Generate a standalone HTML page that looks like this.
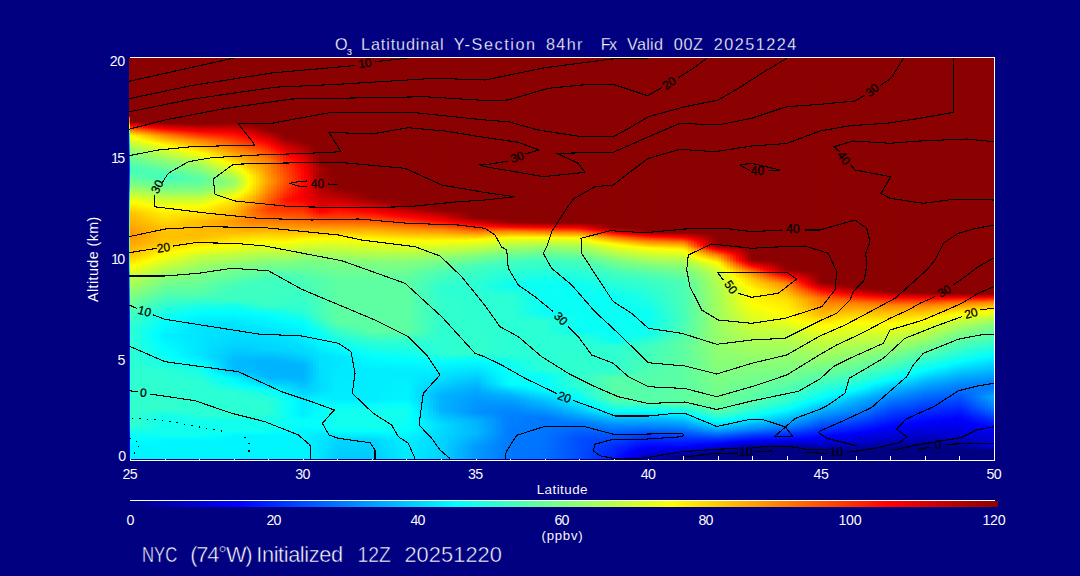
<!DOCTYPE html>
<html><head><meta charset="utf-8"><title>O3 Latitudinal Y-Section</title>
<style>
html,body{margin:0;padding:0;background:#000080;overflow:hidden}
#p{position:relative;width:1080px;height:576px;background:#000080;overflow:hidden}
#f i{position:absolute;top:58px;height:401px;display:block}
</style></head><body>
<div id="p">
<div id="f">
<i style="left:129px;width:1px;background:linear-gradient(#8b0000 0.5px,#8b0000 58.5px,#ff7a00 59.5px,#ff7f00 63.5px,#ff9800 64.5px,#fff600 67.5px,#eaff15 68.5px,#75ff8a 72.5px,#07fff8 77.5px,#00faff 78.5px,#00bcff 86.5px,#0083ff 95.5px,#003eff 111.5px,#003eff 112.5px,#007dff 126.5px,#00c3ff 135.5px,#03fffc 144.5px,#3dffc2 155.5px,#6dff92 176.5px,#3dffc2 196.5px,#02fffd 208.5px,#00beff 220.5px,#0042ff 256.5px,#002bff 271.5px,#0033ff 366.5px,#0010ff 374.5px,#0000ff 382.5px,#0000f6 387.5px,#0000f6 400.5px)"></i>
<i style="left:130px;width:3px;background:linear-gradient(#8b0000 0.5px,#8b0000 63.5px,#a10000 64.5px,#f50000 67.5px,#ff1300 68.5px,#ff6d00 71.5px,#ff8700 72.5px,#fff500 77.5px,#fcff03 78.5px,#beff41 86.5px,#84ff7b 95.5px,#3fffc0 111.5px,#3fffc0 112.5px,#7cff83 126.5px,#c2ff3d 135.5px,#fffd00 144.5px,#ffc400 155.5px,#ff9300 176.5px,#ffc400 196.5px,#fff900 207.5px,#faff05 209.5px,#bcff43 220.5px,#40ffbf 256.5px,#2affd5 271.5px,#32ffcd 366.5px,#10ffef 374.5px,#00ffff 382.5px,#00f6ff 387.5px,#00f6ff 400.5px)"></i>
<i style="left:133px;width:3px;background:linear-gradient(#8b0000 0.5px,#8b0000 63.5px,#9f0000 64.5px,#f00000 67.5px,#ff0d00 68.5px,#ff7e00 72.5px,#ffeb00 77.5px,#fefe01 79.5px,#f6ff09 80.5px,#c5ff3a 86.5px,#89ff76 95.5px,#42ffbd 111.5px,#41ffbe 112.5px,#56ffa9 118.5px,#7aff85 126.5px,#fdff02 144.5px,#ffc700 155.5px,#ff9700 176.5px,#ffa700 184.5px,#ffc900 196.5px,#fffa00 206.5px,#faff05 208.5px,#b7ff48 220.5px,#3cffc3 256.5px,#25ffda 271.5px,#32ffcd 351.5px,#2fffd0 366.5px,#13ffec 373.5px,#01fffe 381.5px,#00f6ff 387.5px,#00f6ff 400.5px)"></i>
<i style="left:136px;width:3px;background:linear-gradient(#8b0000 0.5px,#8b0000 63.5px,#9d0000 64.5px,#eb0000 67.5px,#ff0600 68.5px,#ff7500 72.5px,#ffe100 77.5px,#fefe01 80.5px,#f6ff09 81.5px,#cbff34 86.5px,#8eff71 95.5px,#5fffa0 105.5px,#45ffba 111.5px,#44ffbb 112.5px,#57ffa8 119.5px,#78ff87 126.5px,#d8ff27 139.5px,#fffe00 145.5px,#ffcb00 155.5px,#ff9c00 176.5px,#ffaa00 184.5px,#ffce00 196.5px,#fffa00 205.5px,#f5ff0a 208.5px,#b2ff4d 220.5px,#38ffc7 256.5px,#21ffde 271.5px,#25ffda 298.5px,#2dffd2 312.5px,#32ffcd 351.5px,#2bffd4 357.5px,#2cffd3 366.5px,#13ffec 373.5px,#01fffe 381.5px,#00f6ff 387.5px,#00f6ff 400.5px)"></i>
<i style="left:139px;width:3px;background:linear-gradient(#8b0000 0.5px,#8b0000 63.5px,#9b0000 64.5px,#fe0100 68.5px,#ff6c00 72.5px,#ffd700 77.5px,#fefe01 81.5px,#f6ff09 82.5px,#d1ff2e 86.5px,#93ff6c 95.5px,#62ff9d 105.5px,#46ffb9 112.5px,#54ffab 119.5px,#76ff89 126.5px,#f0ff0f 143.5px,#fffc00 146.5px,#ffcf00 155.5px,#ffac00 169.5px,#ffa000 176.5px,#ffaf00 185.5px,#ffd300 196.5px,#fffb00 204.5px,#f9ff06 206.5px,#b2ff4d 219.5px,#a6ff59 222.5px,#34ffcb 256.5px,#1cffe3 271.5px,#1affe5 277.5px,#22ffdd 298.5px,#2dffd2 312.5px,#32ffcd 351.5px,#29ffd6 357.5px,#29ffd6 366.5px,#13ffec 373.5px,#00ffff 381.5px,#00f6ff 387.5px,#00f6ff 400.5px)"></i>
<i style="left:142px;width:3px;background:linear-gradient(#8b0000 0.5px,#8b0000 63.5px,#990000 64.5px,#ae0000 65.5px,#f90000 68.5px,#ff1400 69.5px,#ff6200 72.5px,#ffcd00 77.5px,#fdfe02 82.5px,#d0ff2f 87.5px,#98ff67 95.5px,#65ff9a 105.5px,#49ffb6 112.5px,#52ffad 119.5px,#73ff8c 126.5px,#d9ff26 140.5px,#ffff00 146.5px,#ffd300 155.5px,#ffaf00 169.5px,#ffa400 176.5px,#ffb200 185.5px,#ffd800 196.5px,#fffb00 203.5px,#f9ff06 205.5px,#aeff51 219.5px,#a1ff5e 222.5px,#30ffcf 256.5px,#18ffe7 271.5px,#15ffea 277.5px,#1fffe0 298.5px,#2dffd2 312.5px,#32ffcd 351.5px,#26ffd9 357.5px,#25ffda 367.5px,#00feff 381.5px,#00f6ff 387.5px,#00f6ff 400.5px)"></i>
<i style="left:145px;width:3px;background:linear-gradient(#8b0000 0.5px,#8b0000 63.5px,#970000 64.5px,#ab0000 65.5px,#f30000 68.5px,#ff0d00 69.5px,#ff5900 72.5px,#ffc300 77.5px,#fcff03 83.5px,#d6ff29 87.5px,#9dff62 95.5px,#69ff96 105.5px,#4bffb4 112.5px,#4fffb0 119.5px,#71ff8e 126.5px,#92ff6d 131.5px,#d6ff29 140.5px,#fffc00 147.5px,#ffd700 155.5px,#ffb200 169.5px,#ffa900 176.5px,#ffb500 185.5px,#ffdd00 196.5px,#fffb00 202.5px,#feff01 203.5px,#9cff63 222.5px,#2cffd3 256.5px,#13ffec 271.5px,#0ffff0 277.5px,#1cffe3 298.5px,#2cffd3 312.5px,#32ffcd 351.5px,#23ffdc 357.5px,#22ffdd 367.5px,#00fdff 381.5px,#00f6ff 387.5px,#00f6ff 400.5px)"></i>
<i style="left:148px;width:3px;background:linear-gradient(#8b0000 0.5px,#8b0000 63.5px,#950000 64.5px,#a70000 65.5px,#ed0000 68.5px,#ff0600 69.5px,#ff5000 72.5px,#ffb900 77.5px,#fffa00 83.5px,#f9ff06 84.5px,#dcff23 87.5px,#a2ff5d 95.5px,#6cff93 105.5px,#4effb1 112.5px,#4cffb3 119.5px,#6fff90 126.5px,#8eff71 131.5px,#d3ff2c 140.5px,#ffff00 147.5px,#ffdb00 155.5px,#ffb500 169.5px,#ffad00 176.5px,#ffb800 185.5px,#ffe200 196.5px,#fffb00 201.5px,#fdff02 202.5px,#98ff67 222.5px,#25ffda 257.5px,#0ffff0 271.5px,#0afff5 277.5px,#19ffe6 298.5px,#2cffd3 312.5px,#32ffcd 351.5px,#20ffdf 357.5px,#1fffe0 367.5px,#0ffff0 376.5px,#00fdff 381.5px,#00f6ff 387.5px,#00f6ff 400.5px)"></i>
<i style="left:151px;width:3px;background:linear-gradient(#8b0000 0.5px,#8b0000 63.5px,#930000 64.5px,#a40000 65.5px,#fd0000 69.5px,#ff4700 72.5px,#ffaf00 77.5px,#fffd00 84.5px,#f5ff0a 85.5px,#e2ff1d 87.5px,#a7ff58 95.5px,#74ff8b 104.5px,#53ffac 111.5px,#48ffb7 118.5px,#72ff8d 127.5px,#92ff6d 132.5px,#cfff30 140.5px,#fffc00 148.5px,#ffdf00 155.5px,#ffb800 169.5px,#ffb100 176.5px,#ffba00 185.5px,#fffc00 200.5px,#fdff02 201.5px,#93ff6c 222.5px,#21ffde 257.5px,#0afff5 271.5px,#05fffa 277.5px,#15ffea 298.5px,#2cffd3 312.5px,#32ffcd 351.5px,#1dffe2 357.5px,#1cffe3 367.5px,#0ffff0 376.5px,#01fffe 380.5px,#00f7ff 386.5px,#00f6ff 400.5px)"></i>
<i style="left:154px;width:3px;background:linear-gradient(#8b0000 0.5px,#8b0000 63.5px,#910000 64.5px,#a00000 65.5px,#f70000 69.5px,#ff0f00 70.5px,#ff3d00 72.5px,#ffa600 77.5px,#fcff03 85.5px,#e8ff17 87.5px,#b3ff4c 94.5px,#78ff87 104.5px,#56ffa9 111.5px,#45ffba 118.5px,#47ffb8 119.5px,#6aff95 126.5px,#88ff77 131.5px,#ccff33 140.5px,#ffff00 148.5px,#ffe200 155.5px,#ffbb00 169.5px,#ffb600 176.5px,#ffbd00 185.5px,#fffc00 199.5px,#fdff02 200.5px,#8eff71 222.5px,#1dffe2 257.5px,#06fff9 271.5px,#01fefe 277.5px,#12ffed 298.5px,#2cffd3 312.5px,#33ffcc 351.5px,#1affe5 357.5px,#1affe5 367.5px,#10ffef 376.5px,#01fffe 380.5px,#00f9ff 382.5px,#00f7ff 386.5px,#00f6ff 400.5px)"></i>
<i style="left:157px;width:3px;background:linear-gradient(#8b0000 0.5px,#8b0000 63.5px,#8f0000 64.5px,#9c0000 65.5px,#f00000 69.5px,#ff0700 70.5px,#ff8a00 76.5px,#ff9c00 77.5px,#fffb00 85.5px,#f7ff08 86.5px,#b1ff4e 95.5px,#7bff84 104.5px,#59ffa6 111.5px,#43ffbc 118.5px,#44ffbb 119.5px,#84ff7b 131.5px,#c9ff36 140.5px,#fffc00 149.5px,#ffe600 155.5px,#ffbe00 169.5px,#ffba00 176.5px,#ffc000 185.5px,#fffc00 198.5px,#fdff02 199.5px,#89ff76 222.5px,#19ffe6 257.5px,#01fffe 271.5px,#00faff 277.5px,#01fffe 283.5px,#0ffff0 298.5px,#2bffd4 312.5px,#33ffcc 351.5px,#17ffe8 357.5px,#17ffe8 366.5px,#10ffef 376.5px,#00ffff 380.5px,#00f8ff 382.5px,#00f6ff 400.5px)"></i>
<i style="left:160px;width:3px;background:linear-gradient(#8b0000 0.5px,#8b0000 63.5px,#8d0000 64.5px,#990000 65.5px,#fe0100 70.5px,#ff8000 76.5px,#ff9200 77.5px,#feff01 86.5px,#b6ff49 95.5px,#7fff80 104.5px,#5cffa3 111.5px,#41ffbe 118.5px,#41ffbe 119.5px,#81ff7e 131.5px,#c6ff39 140.5px,#ffff00 149.5px,#ffc100 169.5px,#ffbe00 176.5px,#ffc300 185.5px,#fffc00 197.5px,#fdff02 198.5px,#84ff7b 222.5px,#0ffff0 259.5px,#01fffe 268.5px,#00f5ff 277.5px,#01fffe 288.5px,#0dfff2 299.5px,#2bffd4 312.5px,#33ffcc 351.5px,#14ffeb 357.5px,#10ffef 376.5px,#00ffff 380.5px,#00f7ff 382.5px,#00f6ff 400.5px)"></i>
<i style="left:163px;width:3px;background:linear-gradient(#8b0000 0.5px,#8b0000 64.5px,#950000 65.5px,#f70000 70.5px,#ff0d00 71.5px,#ff7700 76.5px,#ff8800 77.5px,#fffa00 86.5px,#faff05 87.5px,#bbff44 95.5px,#82ff7d 104.5px,#3fffc0 118.5px,#3fffc0 119.5px,#7eff81 131.5px,#c3ff3c 140.5px,#fdff02 149.5px,#fffd00 150.5px,#ffc400 169.5px,#ffc200 176.5px,#ffc500 185.5px,#fffc00 196.5px,#fdff02 197.5px,#7fff80 222.5px,#0bfff4 259.5px,#01fffe 265.5px,#00f0ff 277.5px,#01fffe 291.5px,#0afff5 299.5px,#2bffd4 312.5px,#33ffcc 351.5px,#12ffed 357.5px,#11ffee 376.5px,#00feff 380.5px,#00f7ff 382.5px,#00f6ff 400.5px)"></i>
<i style="left:166px;width:3px;background:linear-gradient(#8b0000 0.5px,#8b0000 64.5px,#940000 65.5px,#f30000 70.5px,#ff0700 71.5px,#ff7000 76.5px,#ff8100 77.5px,#fff300 86.5px,#fffd00 87.5px,#f9ff06 88.5px,#c0ff3f 95.5px,#86ff79 104.5px,#41ffbe 118.5px,#40ffbf 119.5px,#4affb5 121.5px,#7dff82 131.5px,#c2ff3d 140.5px,#fcff03 149.5px,#fffd00 150.5px,#ffc300 170.5px,#ffc500 184.5px,#fffb00 195.5px,#f9ff06 197.5px,#baff45 209.5px,#7dff82 222.5px,#09fff6 259.5px,#00ffff 264.5px,#00eeff 277.5px,#00feff 292.5px,#06fff9 298.5px,#29ffd6 312.5px,#32ffcd 351.5px,#13ffec 357.5px,#11ffee 376.5px,#00feff 380.5px,#00f6ff 382.5px,#00f6ff 400.5px)"></i>
<i style="left:169px;width:3px;background:linear-gradient(#8b0000 0.5px,#8b0000 64.5px,#930000 65.5px,#ef0000 70.5px,#ff0300 71.5px,#ff6900 76.5px,#ff7a00 77.5px,#ffec00 86.5px,#fefe01 88.5px,#f7ff08 89.5px,#c6ff39 95.5px,#8aff75 104.5px,#44ffbb 118.5px,#4bffb4 121.5px,#7dff82 131.5px,#c2ff3d 140.5px,#fdff02 149.5px,#ffd300 163.5px,#ffc200 170.5px,#ffc200 179.5px,#ffc700 184.5px,#fffe00 195.5px,#b7ff48 209.5px,#7fff80 221.5px,#1cffe3 252.5px,#01fffe 262.5px,#00edff 277.5px,#00ffff 295.5px,#05fffa 299.5px,#27ffd8 312.5px,#32ffcd 351.5px,#15ffea 357.5px,#11ffee 376.5px,#00feff 380.5px,#00f6ff 382.5px,#00f6ff 400.5px)"></i>
<i style="left:172px;width:3px;background:linear-gradient(#8b0000 0.5px,#8b0000 64.5px,#920000 65.5px,#fe0000 71.5px,#ff7300 77.5px,#ffe600 86.5px,#fdff02 89.5px,#cbff34 95.5px,#8eff71 104.5px,#63ff9c 112.5px,#47ffb8 118.5px,#46ffb9 119.5px,#50ffaf 122.5px,#7dff82 131.5px,#c3ff3c 140.5px,#fdff02 149.5px,#ffd100 163.5px,#ffc100 170.5px,#ffc100 179.5px,#ffc900 184.5px,#fffd00 194.5px,#b4ff4b 209.5px,#7eff81 221.5px,#4effb1 237.5px,#1affe5 252.5px,#01fffe 261.5px,#00ecff 277.5px,#00ffff 298.5px,#25ffda 312.5px,#2cffd3 322.5px,#31ffce 351.5px,#17ffe8 357.5px,#12ffed 361.5px,#11ffee 376.5px,#00feff 380.5px,#00f6ff 382.5px,#00f6ff 400.5px)"></i>
<i style="left:175px;width:3px;background:linear-gradient(#8b0000 0.5px,#8b0000 64.5px,#910000 65.5px,#a10000 66.5px,#fa0000 71.5px,#ff0f00 72.5px,#ff6d00 77.5px,#ffa300 81.5px,#ffdf00 86.5px,#fbff04 90.5px,#d1ff2e 95.5px,#91ff6e 104.5px,#66ff99 112.5px,#49ffb6 119.5px,#51ffae 122.5px,#7dff82 131.5px,#c3ff3c 140.5px,#feff01 149.5px,#ffce00 163.5px,#ffc100 170.5px,#ffc100 179.5px,#ffcb00 184.5px,#fffb00 193.5px,#feff01 194.5px,#99ff66 214.5px,#7cff83 221.5px,#4effb1 237.5px,#1bffe4 251.5px,#01fffe 260.5px,#00ecff 277.5px,#00feff 299.5px,#23ffdc 312.5px,#2cffd3 322.5px,#30ffcf 351.5px,#19ffe6 357.5px,#12ffed 361.5px,#11ffee 376.5px,#00feff 380.5px,#00f6ff 382.5px,#00f6ff 400.5px)"></i>
<i style="left:178px;width:3px;background:linear-gradient(#8b0000 0.5px,#8b0000 64.5px,#900000 65.5px,#9f0000 66.5px,#f70000 71.5px,#ff0a00 72.5px,#ff6600 77.5px,#ff9e00 81.5px,#ffe200 87.5px,#fffc00 90.5px,#f9ff06 91.5px,#d6ff29 95.5px,#95ff6a 104.5px,#69ff96 112.5px,#4cffb3 119.5px,#52ffad 122.5px,#7dff82 131.5px,#c3ff3c 140.5px,#feff01 149.5px,#ffcc00 163.5px,#ffc000 170.5px,#ffc100 180.5px,#ffd100 185.5px,#fffe00 193.5px,#d9ff26 200.5px,#92ff6d 215.5px,#78ff87 222.5px,#4effb1 237.5px,#19ffe6 251.5px,#01fffe 259.5px,#00f4ff 265.5px,#00ebff 277.5px,#00f9ff 298.5px,#00feff 300.5px,#20ffdf 311.5px,#2bffd4 321.5px,#2fffd0 351.5px,#1bffe4 357.5px,#11ffee 362.5px,#11ffee 376.5px,#00feff 380.5px,#00f6ff 382.5px,#00f6ff 400.5px)"></i>
<i style="left:181px;width:3px;background:linear-gradient(#8b0000 0.5px,#8b0000 64.5px,#8f0000 65.5px,#9d0000 66.5px,#f30000 71.5px,#ff0600 72.5px,#ff6000 77.5px,#ffa500 82.5px,#ffdb00 87.5px,#fefe01 91.5px,#f6ff09 92.5px,#adff52 101.5px,#99ff66 104.5px,#6cff93 112.5px,#4fffb0 119.5px,#53ffac 122.5px,#7dff82 131.5px,#c3ff3c 140.5px,#ffff00 149.5px,#ffca00 163.5px,#ffbf00 170.5px,#ffc100 180.5px,#ffd300 185.5px,#fffc00 192.5px,#d5ff2a 200.5px,#8fff70 215.5px,#76ff89 222.5px,#4effb1 237.5px,#17ffe8 251.5px,#00feff 259.5px,#00f2ff 265.5px,#00eaff 277.5px,#00f6ff 298.5px,#00ffff 301.5px,#1effe1 311.5px,#2bffd4 321.5px,#2fffd0 351.5px,#11ffee 362.5px,#11ffee 376.5px,#00feff 380.5px,#00f6ff 382.5px,#00f6ff 400.5px)"></i>
<i style="left:184px;width:3px;background:linear-gradient(#8b0000 0.5px,#8b0000 64.5px,#8f0000 65.5px,#9b0000 66.5px,#ff0100 72.5px,#ff4900 76.5px,#ff9200 81.5px,#ffca00 86.5px,#fcff03 92.5px,#b1ff4e 101.5px,#9dff62 104.5px,#6fff90 112.5px,#52ffad 119.5px,#53ffac 122.5px,#7dff82 131.5px,#c3ff3c 140.5px,#ffff00 149.5px,#ffc800 163.5px,#ffbe00 170.5px,#ffc000 180.5px,#ffd600 185.5px,#fffa00 191.5px,#f9ff06 193.5px,#d0ff2f 200.5px,#8cff73 215.5px,#75ff8a 222.5px,#4effb1 237.5px,#15ffea 251.5px,#00ffff 258.5px,#00f0ff 265.5px,#00e9ff 277.5px,#00f3ff 298.5px,#01fffe 302.5px,#1cffe3 311.5px,#2bffd4 322.5px,#2effd1 351.5px,#13ffec 361.5px,#11ffee 376.5px,#00feff 380.5px,#00f6ff 382.5px,#00f6ff 400.5px)"></i>
<i style="left:187px;width:3px;background:linear-gradient(#8b0000 0.5px,#8b0000 64.5px,#8e0000 65.5px,#990000 66.5px,#fc0000 72.5px,#ff5300 77.5px,#ff9900 82.5px,#fffc00 92.5px,#f9ff06 93.5px,#b5ff4a 101.5px,#9bff64 105.5px,#72ff8d 112.5px,#58ffa7 118.5px,#52ffad 121.5px,#7dff82 131.5px,#c3ff3c 140.5px,#fffe00 149.5px,#ffc500 163.5px,#ffbe00 170.5px,#ffc000 180.5px,#ffd800 185.5px,#fffd00 191.5px,#ccff33 200.5px,#8dff72 214.5px,#74ff8b 222.5px,#4effb1 237.5px,#13ffec 251.5px,#01fffe 257.5px,#00eeff 265.5px,#00e8ff 277.5px,#00f0ff 298.5px,#00fdff 302.5px,#1affe5 311.5px,#2bffd4 322.5px,#2dffd2 351.5px,#23ffdc 356.5px,#11ffee 362.5px,#11ffee 376.5px,#00feff 380.5px,#00f6ff 382.5px,#00f6ff 400.5px)"></i>
<i style="left:190px;width:3px;background:linear-gradient(#8b0000 0.5px,#8b0000 64.5px,#8d0000 65.5px,#980000 66.5px,#f80000 72.5px,#ff0a00 73.5px,#ff4c00 77.5px,#ff9400 82.5px,#feff01 93.5px,#b9ff46 101.5px,#9fff60 105.5px,#75ff8a 112.5px,#5bffa4 118.5px,#54ffab 121.5px,#7dff82 131.5px,#c3ff3c 140.5px,#fffe00 149.5px,#ffc300 163.5px,#ffbd00 170.5px,#ffc000 180.5px,#fffa00 190.5px,#feff01 191.5px,#c8ff37 200.5px,#8aff75 214.5px,#4effb1 237.5px,#10ffef 251.5px,#00feff 257.5px,#00ecff 265.5px,#00e8ff 277.5px,#00edff 298.5px,#00ffff 303.5px,#18ffe7 311.5px,#2bffd4 322.5px,#2cffd3 351.5px,#25ffda 356.5px,#11ffee 362.5px,#11ffee 376.5px,#00feff 380.5px,#00f6ff 382.5px,#00f6ff 400.5px)"></i>
<i style="left:193px;width:3px;background:linear-gradient(#8b0000 0.5px,#8c0000 65.5px,#960000 66.5px,#f40000 72.5px,#ff0500 73.5px,#ff4600 77.5px,#ff8e00 82.5px,#fffa00 93.5px,#faff05 94.5px,#b5ff4a 102.5px,#7eff81 111.5px,#55ffaa 121.5px,#56ffa9 122.5px,#7dff82 131.5px,#c3ff3c 140.5px,#fffe00 149.5px,#ffc100 163.5px,#ffbc00 170.5px,#ffbf00 180.5px,#fffd00 190.5px,#c4ff3b 200.5px,#87ff78 214.5px,#4effb1 237.5px,#0efff1 251.5px,#00ffff 256.5px,#00e9ff 265.5px,#00e7ff 277.5px,#00eaff 298.5px,#00fdff 303.5px,#16ffe9 311.5px,#2bffd4 322.5px,#2cffd3 351.5px,#27ffd8 356.5px,#11ffee 362.5px,#11ffee 376.5px,#00feff 380.5px,#00f6ff 382.5px,#00f6ff 400.5px)"></i>
<i style="left:196px;width:3px;background:linear-gradient(#8b0000 0.5px,#8b0000 65.5px,#940000 66.5px,#ff0100 73.5px,#ff8800 82.5px,#fffe00 94.5px,#f7ff08 95.5px,#b9ff46 102.5px,#81ff7e 111.5px,#56ffa9 121.5px,#57ffa8 122.5px,#7dff82 131.5px,#c3ff3c 140.5px,#fffd00 149.5px,#ffbf00 163.5px,#ffbc00 170.5px,#ffbf00 180.5px,#fffa00 189.5px,#feff01 190.5px,#c0ff3f 200.5px,#84ff7b 214.5px,#4effb1 237.5px,#0cfff3 251.5px,#01fffe 255.5px,#00e7ff 265.5px,#00e6ff 277.5px,#00e8ff 298.5px,#00feff 304.5px,#0bfff4 307.5px,#2bffd4 322.5px,#2bffd4 351.5px,#29ffd6 356.5px,#11ffee 362.5px,#11ffee 376.5px,#00feff 380.5px,#00f6ff 382.5px,#00f6ff 400.5px)"></i>
<i style="left:199px;width:3px;background:linear-gradient(#8b0000 0.5px,#8b0000 65.5px,#930000 66.5px,#fc0000 73.5px,#ff8300 82.5px,#fdff02 95.5px,#bfff40 102.5px,#85ff7a 111.5px,#59ffa6 121.5px,#59ffa6 122.5px,#7fff80 131.5px,#c5ff3a 140.5px,#fdff02 148.5px,#ffba00 164.5px,#ffbc00 179.5px,#fffc00 189.5px,#bdff42 200.5px,#81ff7e 214.5px,#4dffb2 237.5px,#0bfff4 251.5px,#00feff 255.5px,#00e6ff 265.5px,#00e5ff 298.5px,#00fbff 304.5px,#04fffb 306.5px,#29ffd6 322.5px,#2bffd4 351.5px,#2affd5 356.5px,#11ffee 362.5px,#10ffef 376.5px,#00feff 380.5px,#00f6ff 382.5px,#00f6ff 400.5px)"></i>
<i style="left:202px;width:3px;background:linear-gradient(#8b0000 0.5px,#8c0000 65.5px,#940000 66.5px,#fa0000 73.5px,#ff0a00 74.5px,#ff7d00 82.5px,#ffef00 94.5px,#fcff03 96.5px,#c8ff37 102.5px,#8dff72 111.5px,#5fffa0 121.5px,#62ff9d 123.5px,#84ff7b 131.5px,#d2ff2d 141.5px,#fffd00 148.5px,#ffb700 164.5px,#ffbe00 179.5px,#fffe00 189.5px,#bbff44 200.5px,#7fff80 214.5px,#4cffb3 237.5px,#0afff5 251.5px,#00feff 255.5px,#00e5ff 265.5px,#00e1ff 298.5px,#01fffe 307.5px,#24ffdb 321.5px,#2bffd4 334.5px,#2bffd4 356.5px,#11ffee 362.5px,#11ffee 374.5px,#0cfff3 377.5px,#00fdff 380.5px,#00f6ff 382.5px,#00f6ff 400.5px)"></i>
<i style="left:205px;width:3px;background:linear-gradient(#8b0000 0.5px,#8b0000 64.5px,#8d0000 65.5px,#950000 66.5px,#f90000 73.5px,#ff0900 74.5px,#ff7700 82.5px,#ffe700 94.5px,#fcff03 97.5px,#d2ff2d 102.5px,#95ff6a 111.5px,#65ff9a 121.5px,#64ff9b 122.5px,#8aff75 131.5px,#d9ff26 141.5px,#fffe00 147.5px,#ffb500 164.5px,#ffc100 179.5px,#fff900 188.5px,#ffff00 189.5px,#baff45 200.5px,#7eff81 214.5px,#47ffb8 238.5px,#0afff5 251.5px,#00feff 255.5px,#00e5ff 265.5px,#00deff 298.5px,#00f7ff 306.5px,#01fefe 310.5px,#20ffdf 321.5px,#2bffd4 334.5px,#2bffd4 356.5px,#11ffee 362.5px,#10ffef 374.5px,#00fdff 380.5px,#00f6ff 382.5px,#00f6ff 400.5px)"></i>
<i style="left:208px;width:3px;background:linear-gradient(#8b0000 0.5px,#8b0000 64.5px,#8e0000 65.5px,#970000 66.5px,#f80000 73.5px,#ff0700 74.5px,#ff7100 82.5px,#ffdf00 94.5px,#fdff02 98.5px,#dbff24 102.5px,#9dff62 111.5px,#6aff95 122.5px,#6eff91 124.5px,#8fff70 131.5px,#dfff20 141.5px,#feff01 146.5px,#ffef00 149.5px,#ffb200 164.5px,#ffc300 179.5px,#fffa00 188.5px,#fdff02 189.5px,#b8ff47 200.5px,#7cff83 214.5px,#58ffa7 228.5px,#46ffb9 238.5px,#37ffc8 242.5px,#0dfff2 250.5px,#01fffe 254.5px,#00e5ff 265.5px,#00dbff 298.5px,#00fcff 312.5px,#04fffb 314.5px,#1cffe3 321.5px,#2affd5 333.5px,#2bffd4 356.5px,#11ffee 362.5px,#11ffee 373.5px,#00fcff 380.5px,#00f6ff 382.5px,#00f6ff 400.5px)"></i>
<i style="left:211px;width:3px;background:linear-gradient(#8b0000 0.5px,#8b0000 64.5px,#980000 66.5px,#f70000 73.5px,#ff0500 74.5px,#ff6b00 82.5px,#ffdf00 95.5px,#fdfe02 99.5px,#f6ff09 100.5px,#c7ff38 106.5px,#a5ff5a 111.5px,#70ff8f 122.5px,#73ff8c 124.5px,#95ff6a 131.5px,#e6ff19 141.5px,#fdff02 145.5px,#ffea00 149.5px,#ffaf00 164.5px,#ffc500 179.5px,#fffc00 188.5px,#bcff43 199.5px,#8eff71 209.5px,#77ff88 215.5px,#56ffa9 228.5px,#45ffba 238.5px,#37ffc8 242.5px,#0dfff2 250.5px,#01fffe 254.5px,#00e5ff 265.5px,#00d8ff 298.5px,#00f1ff 311.5px,#02fffd 315.5px,#18ffe7 321.5px,#2affd5 333.5px,#2bffd4 356.5px,#11ffee 362.5px,#11ffee 373.5px,#00feff 379.5px,#00f6ff 382.5px,#00f6ff 400.5px)"></i>
<i style="left:214px;width:3px;background:linear-gradient(#8b0000 0.5px,#8b0000 64.5px,#990000 66.5px,#f60000 73.5px,#ff0400 74.5px,#ff6500 82.5px,#ffd700 95.5px,#fefe01 100.5px,#f6ff09 101.5px,#a7ff58 112.5px,#78ff87 121.5px,#75ff8a 123.5px,#9aff65 131.5px,#ecff13 141.5px,#fdff02 144.5px,#ffe600 149.5px,#ffac00 164.5px,#ffc800 179.5px,#fffe00 188.5px,#bbff44 199.5px,#8bff74 209.5px,#75ff8a 215.5px,#53ffac 228.5px,#46ffb9 237.5px,#3cffc3 241.5px,#0cfff3 250.5px,#00ffff 254.5px,#00e5ff 265.5px,#00deff 286.5px,#00d5ff 298.5px,#00eaff 311.5px,#01fefe 316.5px,#14ffeb 321.5px,#2bffd4 334.5px,#2bffd4 356.5px,#11ffee 362.5px,#11ffee 373.5px,#00fdff 379.5px,#00f6ff 382.5px,#00f6ff 400.5px)"></i>
<i style="left:217px;width:3px;background:linear-gradient(#8b0000 0.5px,#8b0000 64.5px,#9a0000 66.5px,#ff0200 74.5px,#ff5f00 82.5px,#ffc700 94.5px,#fefe01 101.5px,#f7ff08 102.5px,#afff50 112.5px,#7eff81 121.5px,#7aff85 123.5px,#a0ff5f 131.5px,#f3ff0c 141.5px,#feff01 143.5px,#ffe200 149.5px,#ffa900 164.5px,#ffbc00 174.5px,#ffca00 179.5px,#feff01 188.5px,#b9ff46 199.5px,#89ff76 209.5px,#74ff8b 215.5px,#50ffaf 228.5px,#3cffc3 241.5px,#10ffef 249.5px,#00ffff 254.5px,#00e5ff 265.5px,#00dcff 286.5px,#00d2ff 298.5px,#00e2ff 311.5px,#01fefe 317.5px,#0efff1 320.5px,#19ffe6 327.5px,#29ffd6 333.5px,#2bffd4 338.5px,#2bffd4 356.5px,#25ffda 358.5px,#11ffee 362.5px,#11ffee 373.5px,#00ffff 378.5px,#00f6ff 382.5px,#00f6ff 400.5px)"></i>
<i style="left:220px;width:3px;background:linear-gradient(#8b0000 0.5px,#8b0000 64.5px,#9c0000 66.5px,#ff0100 74.5px,#ff4f00 81.5px,#ff9700 89.5px,#fff500 101.5px,#fefd01 102.5px,#f8ff07 103.5px,#b7ff48 112.5px,#85ff7a 121.5px,#7fff80 123.5px,#80ff7f 124.5px,#a5ff5a 131.5px,#fefe01 142.5px,#ffde00 149.5px,#ffa700 164.5px,#ffbd00 174.5px,#ffcd00 179.5px,#fffb00 187.5px,#fdff02 188.5px,#b8ff47 199.5px,#87ff78 209.5px,#4dffb2 228.5px,#3cffc3 241.5px,#0ffff0 249.5px,#00ffff 254.5px,#00e5ff 265.5px,#00dbff 286.5px,#00ceff 299.5px,#00dbff 311.5px,#01fffe 318.5px,#0afff5 320.5px,#17ffe8 327.5px,#29ffd6 333.5px,#2bffd4 345.5px,#2affd5 357.5px,#11ffee 362.5px,#11ffee 373.5px,#00ffff 377.5px,#00f6ff 382.5px,#00f6ff 400.5px)"></i>
<i style="left:223px;width:3px;background:linear-gradient(#8b0000 0.5px,#8b0000 64.5px,#9d0000 66.5px,#fe0000 74.5px,#ff4900 81.5px,#ff9100 89.5px,#ffda00 99.5px,#fffc00 103.5px,#f9ff06 104.5px,#e1ff1e 107.5px,#acff53 115.5px,#84ff7b 123.5px,#85ff7a 124.5px,#abff54 131.5px,#fefe01 141.5px,#ffd900 149.5px,#ffa400 164.5px,#ffbd00 174.5px,#ffcf00 179.5px,#fffd00 187.5px,#b7ff48 199.5px,#85ff7a 209.5px,#4affb5 228.5px,#3cffc3 241.5px,#0efff1 249.5px,#00feff 254.5px,#00e5ff 265.5px,#00daff 286.5px,#00cbff 299.5px,#00d3ff 311.5px,#02fffd 319.5px,#14ffeb 327.5px,#2bffd4 334.5px,#2bffd4 356.5px,#26ffd9 358.5px,#11ffee 362.5px,#11ffee 373.5px,#00fdff 377.5px,#00f6ff 382.5px,#00f6ff 400.5px)"></i>
<i style="left:226px;width:3px;background:linear-gradient(#8b0000 0.5px,#8b0000 64.5px,#9e0000 66.5px,#fd0000 74.5px,#ff4d00 82.5px,#ff8a00 89.5px,#ffd100 99.5px,#fffc00 104.5px,#f9ff06 105.5px,#b3ff4c 115.5px,#89ff76 123.5px,#89ff76 124.5px,#b0ff4f 131.5px,#fdff02 140.5px,#fff200 142.5px,#ffd500 149.5px,#ffa100 163.5px,#ffa100 164.5px,#ffc100 175.5px,#ffd700 180.5px,#fffe00 187.5px,#c0ff3f 197.5px,#83ff7c 209.5px,#48ffb7 228.5px,#3cffc3 241.5px,#0dfff2 249.5px,#00feff 254.5px,#00e5ff 265.5px,#00d8ff 286.5px,#00c6ff 301.5px,#00ccff 311.5px,#02fffd 320.5px,#0efff1 326.5px,#2bffd4 334.5px,#2bffd4 356.5px,#26ffd9 358.5px,#11ffee 362.5px,#11ffee 373.5px,#00ffff 376.5px,#00f6ff 382.5px,#00f6ff 400.5px)"></i>
<i style="left:229px;width:3px;background:linear-gradient(#8b0000 0.5px,#8b0000 64.5px,#fb0000 74.5px,#ff0700 75.5px,#ff8300 89.5px,#ffc800 99.5px,#fffc00 105.5px,#f9ff06 106.5px,#baff45 115.5px,#8dff72 123.5px,#8eff71 124.5px,#b6ff49 131.5px,#fcff03 139.5px,#fffa00 140.5px,#ffec00 142.5px,#ffd400 148.5px,#ff9e00 163.5px,#ff9e00 164.5px,#ffc100 175.5px,#feff01 187.5px,#bfff40 197.5px,#81ff7e 209.5px,#45ffba 228.5px,#3cffc3 241.5px,#0dfff2 249.5px,#00feff 254.5px,#00e5ff 265.5px,#00d7ff 286.5px,#00c1ff 302.5px,#00c4ff 311.5px,#00f8ff 319.5px,#00ffff 321.5px,#0bfff4 326.5px,#2bffd4 334.5px,#2bffd4 356.5px,#27ffd8 358.5px,#11ffee 362.5px,#11ffee 373.5px,#00fdff 376.5px,#00f6ff 382.5px,#00f6ff 400.5px)"></i>
<i style="left:232px;width:3px;background:linear-gradient(#8b0000 0.5px,#8b0000 64.5px,#fa0000 74.5px,#ff0500 75.5px,#ff7d00 89.5px,#ffbe00 99.5px,#fffc00 106.5px,#faff05 107.5px,#c1ff3e 115.5px,#93ff6c 123.5px,#93ff6c 124.5px,#bbff44 131.5px,#fffc00 139.5px,#ffe500 142.5px,#ff9b00 163.5px,#ff9b00 164.5px,#ffbd00 174.5px,#fffc00 186.5px,#fcff03 187.5px,#bdff42 197.5px,#7eff81 209.5px,#42ffbd 228.5px,#3cffc3 241.5px,#0cfff3 249.5px,#01fffe 253.5px,#00e5ff 265.5px,#00d5ff 286.5px,#00bcff 302.5px,#00bdff 311.5px,#00c1ff 312.5px,#00f4ff 319.5px,#01fffe 323.5px,#0cfff3 327.5px,#2affd5 334.5px,#2affd5 356.5px,#27ffd8 358.5px,#11ffee 362.5px,#11ffee 373.5px,#00fbff 376.5px,#00f7ff 377.5px,#00f6ff 400.5px)"></i>
<i style="left:235px;width:3px;background:linear-gradient(#8b0000 0.5px,#8b0000 64.5px,#fd0000 75.5px,#ff7d00 90.5px,#ffb700 99.5px,#fff900 107.5px,#f8ff07 109.5px,#c8ff37 116.5px,#a3ff5c 123.5px,#a3ff5c 124.5px,#c9ff36 131.5px,#faff05 137.5px,#fffb00 138.5px,#ffdd00 142.5px,#ffb700 152.5px,#ff9700 163.5px,#ff9700 164.5px,#ffbd00 174.5px,#fffe00 186.5px,#bbff44 197.5px,#7dff82 209.5px,#41ffbe 228.5px,#3cffc3 241.5px,#0efff1 249.5px,#00feff 254.5px,#00e6ff 265.5px,#00d5ff 286.5px,#00baff 302.5px,#00baff 311.5px,#00f4ff 320.5px,#02fffd 325.5px,#29ffd6 334.5px,#2bffd4 354.5px,#2affd5 357.5px,#11ffee 362.5px,#10ffef 373.5px,#00fbff 376.5px,#00f6ff 377.5px,#00f6ff 400.5px)"></i>
<i style="left:238px;width:3px;background:linear-gradient(#8b0000 0.5px,#8b0000 64.5px,#a30000 67.5px,#ed0000 74.5px,#fe0100 76.5px,#ff7600 90.5px,#ffb600 100.5px,#ffec00 107.5px,#fdfe02 110.5px,#f8ff07 111.5px,#d7ff28 116.5px,#b7ff48 123.5px,#b7ff48 124.5px,#d8ff27 131.5px,#fdfe02 136.5px,#fff900 137.5px,#ffd400 142.5px,#ffae00 151.5px,#ff9200 163.5px,#ffbd00 174.5px,#feff01 186.5px,#b9ff46 197.5px,#7cff83 209.5px,#41ffbe 228.5px,#3cffc3 241.5px,#0cfff3 250.5px,#01fffe 254.5px,#00e7ff 265.5px,#00d4ff 287.5px,#00baff 302.5px,#00baff 311.5px,#00eeff 320.5px,#01fffe 326.5px,#27ffd8 334.5px,#2bffd4 354.5px,#29ffd6 357.5px,#12ffed 362.5px,#10ffef 373.5px,#03fffc 375.5px,#00faff 376.5px,#00f6ff 377.5px,#00f6ff 400.5px)"></i>
<i style="left:241px;width:3px;background:linear-gradient(#8b0000 0.5px,#8b0000 64.5px,#9e0000 67.5px,#e60000 74.5px,#ff0200 77.5px,#ff6800 89.5px,#ff8c00 94.5px,#ffaf00 100.5px,#fff800 111.5px,#f9ff06 113.5px,#e1ff1e 117.5px,#ccff33 123.5px,#ccff33 124.5px,#e8ff17 131.5px,#fbff04 134.5px,#fffb00 135.5px,#ffcb00 142.5px,#ffa100 151.5px,#ff8d00 163.5px,#ffbd00 174.5px,#fffc00 185.5px,#b7ff48 197.5px,#7aff85 209.5px,#45ffba 225.5px,#3fffc0 229.5px,#39ffc6 242.5px,#0ffff0 250.5px,#00feff 255.5px,#00e8ff 265.5px,#00d5ff 287.5px,#00b9ff 302.5px,#00b9ff 311.5px,#00e9ff 320.5px,#01fffe 327.5px,#24ffdb 334.5px,#2bffd4 342.5px,#2bffd4 354.5px,#29ffd6 357.5px,#12ffed 362.5px,#0ffff0 373.5px,#03fffc 375.5px,#00faff 376.5px,#00f6ff 377.5px,#00f6ff 400.5px)"></i>
<i style="left:244px;width:3px;background:linear-gradient(#8b0000 0.5px,#8b0000 64.5px,#990000 67.5px,#fa0000 77.5px,#ff0400 78.5px,#ff8700 94.5px,#fff600 113.5px,#fbff04 115.5px,#f1ff0e 117.5px,#e0ff1f 123.5px,#fcfe03 132.5px,#ffc200 142.5px,#ff9400 151.5px,#ff8900 163.5px,#ffbd00 174.5px,#fffe00 185.5px,#bbff44 196.5px,#79ff86 209.5px,#44ffbb 225.5px,#3affc5 242.5px,#12ffed 250.5px,#00ffff 255.5px,#00e9ff 265.5px,#00d5ff 287.5px,#00b8ff 302.5px,#00bbff 312.5px,#00e4ff 320.5px,#00fdff 327.5px,#04fffb 328.5px,#1bffe4 332.5px,#22ffdd 334.5px,#2bffd4 342.5px,#2bffd4 354.5px,#28ffd7 357.5px,#12ffed 362.5px,#0efff1 373.5px,#03fffc 375.5px,#00faff 376.5px,#00f6ff 377.5px,#00f6ff 400.5px)"></i>
<i style="left:247px;width:3px;background:linear-gradient(#8b0000 0.5px,#8c0000 65.5px,#950000 67.5px,#fc0000 78.5px,#ff8700 95.5px,#ffca00 108.5px,#fffa00 116.5px,#fdfd02 118.5px,#f4ff0b 123.5px,#fdfd02 128.5px,#fff600 131.5px,#ff8400 152.5px,#ff8400 163.5px,#ffbd00 174.5px,#feff01 185.5px,#bfff40 195.5px,#84ff7b 206.5px,#78ff87 209.5px,#42ffbd 225.5px,#3affc5 242.5px,#2bffd4 246.5px,#14ffeb 250.5px,#00fdff 256.5px,#00eaff 265.5px,#00d0ff 291.5px,#00b7ff 302.5px,#00baff 312.5px,#01fffe 328.5px,#19ffe6 332.5px,#20ffdf 334.5px,#2bffd4 342.5px,#2bffd4 354.5px,#28ffd7 357.5px,#13ffec 362.5px,#10ffef 372.5px,#02fffd 375.5px,#00faff 376.5px,#00f6ff 377.5px,#00f6ff 400.5px)"></i>
<i style="left:250px;width:3px;background:linear-gradient(#8b0000 0.5px,#8b0000 66.5px,#900000 67.5px,#fe0100 79.5px,#ff8100 95.5px,#ffbd00 108.5px,#ffee00 117.5px,#fff600 124.5px,#ffe600 131.5px,#ffc100 139.5px,#ff7a00 151.5px,#ff7800 152.5px,#ff8300 164.5px,#fffc00 184.5px,#bdff42 195.5px,#82ff7d 206.5px,#77ff88 209.5px,#40ffbf 225.5px,#3affc5 242.5px,#2dffd2 246.5px,#17ffe8 250.5px,#00fdff 256.5px,#00ebff 265.5px,#00d1ff 291.5px,#00b7ff 302.5px,#00b9ff 312.5px,#00cfff 318.5px,#00fcff 328.5px,#04fffb 329.5px,#1bffe4 333.5px,#2affd5 341.5px,#2bffd4 354.5px,#27ffd8 357.5px,#13ffec 362.5px,#10ffef 372.5px,#02fffd 375.5px,#00faff 376.5px,#00f6ff 377.5px,#00f6ff 400.5px)"></i>
<i style="left:253px;width:3px;background:linear-gradient(#8b0000 0.5px,#8b0000 66.5px,#8e0000 67.5px,#ad0000 71.5px,#fd0100 80.5px,#ff7900 95.5px,#ffdf00 117.5px,#ffe600 124.5px,#ffd600 131.5px,#ffb300 139.5px,#ff6f00 151.5px,#ff6d00 152.5px,#ff8200 164.5px,#fffd00 184.5px,#bcff43 195.5px,#81ff7e 206.5px,#4affb5 221.5px,#40ffbf 225.5px,#3bffc4 242.5px,#30ffcf 246.5px,#00feff 256.5px,#00e4ff 271.5px,#00d2ff 291.5px,#00b6ff 302.5px,#00b8ff 312.5px,#00caff 318.5px,#01fffe 329.5px,#19ffe6 333.5px,#2affd5 341.5px,#2bffd4 354.5px,#26ffd9 357.5px,#12ffed 363.5px,#10ffef 372.5px,#01fffe 375.5px,#00faff 376.5px,#00f6ff 377.5px,#00f6ff 400.5px)"></i>
<i style="left:256px;width:3px;background:linear-gradient(#8b0000 0.5px,#8c0000 67.5px,#ae0000 72.5px,#fd0100 81.5px,#ff7000 95.5px,#ff9600 102.5px,#ffd000 117.5px,#ffd800 124.5px,#ffc600 131.5px,#ffa400 139.5px,#ff6500 151.5px,#ff6300 152.5px,#ff8200 164.5px,#fffe00 184.5px,#c0ff3f 194.5px,#84ff7b 205.5px,#48ffb7 221.5px,#3fffc0 225.5px,#3bffc4 242.5px,#2effd1 247.5px,#00ffff 256.5px,#00e4ff 271.5px,#00d2ff 291.5px,#00b5ff 302.5px,#00b5ff 311.5px,#00c5ff 318.5px,#00efff 327.5px,#00fdff 329.5px,#05fffa 330.5px,#16ffe9 333.5px,#29ffd6 341.5px,#2bffd4 354.5px,#26ffd9 357.5px,#12ffed 363.5px,#0ffff0 372.5px,#01fffe 375.5px,#00f6ff 377.5px,#00f6ff 400.5px)"></i>
<i style="left:259px;width:3px;background:linear-gradient(#8b0000 0.5px,#8b0000 67.5px,#a60000 72.5px,#fd0100 82.5px,#ff6000 94.5px,#ff8c00 101.5px,#ffbf00 116.5px,#ffc900 123.5px,#ffb200 132.5px,#ff9500 139.5px,#ff5a00 151.5px,#ff5a00 152.5px,#ff8300 164.5px,#ffff00 184.5px,#bfff40 194.5px,#82ff7d 205.5px,#47ffb8 221.5px,#3fffc0 225.5px,#3cffc3 241.5px,#35ffca 246.5px,#01fffe 256.5px,#00e5ff 271.5px,#00d3ff 291.5px,#00b5ff 302.5px,#00b5ff 311.5px,#00c0ff 318.5px,#00ecff 327.5px,#03fffc 330.5px,#14ffeb 333.5px,#29ffd6 341.5px,#2bffd4 354.5px,#12ffed 363.5px,#0ffff0 372.5px,#00ffff 375.5px,#00f6ff 377.5px,#00f6ff 400.5px)"></i>
<i style="left:262px;width:3px;background:linear-gradient(#8b0000 0.5px,#8b0000 67.5px,#9e0000 72.5px,#fe0100 83.5px,#ff5700 94.5px,#ff8600 101.5px,#ffb000 116.5px,#ffbb00 123.5px,#ffa100 132.5px,#ff8600 139.5px,#ff5000 151.5px,#ff5000 152.5px,#ff8300 164.5px,#fffa00 183.5px,#feff01 184.5px,#beff41 194.5px,#81ff7e 205.5px,#45ffba 221.5px,#3fffc0 225.5px,#3cffc3 241.5px,#37ffc8 246.5px,#02fffd 256.5px,#00fdff 257.5px,#00e5ff 271.5px,#00d4ff 291.5px,#00b4ff 302.5px,#00b4ff 311.5px,#00bbff 318.5px,#00e9ff 327.5px,#00ffff 330.5px,#0efff1 332.5px,#29ffd6 341.5px,#2bffd4 354.5px,#12ffed 363.5px,#11ffee 371.5px,#00ffff 375.5px,#00f6ff 377.5px,#00f6ff 400.5px)"></i>
<i style="left:265px;width:3px;background:linear-gradient(#8b0000 0.5px,#8c0000 69.5px,#950000 72.5px,#f70000 83.5px,#ff0200 84.5px,#ff0a00 85.5px,#ff5500 95.5px,#ff8500 102.5px,#ffac00 123.5px,#ff9100 132.5px,#ff4500 151.5px,#ff4600 152.5px,#ff8300 164.5px,#fffb00 183.5px,#fdff02 184.5px,#bdff42 194.5px,#84ff7b 204.5px,#43ffbc 221.5px,#3affc5 246.5px,#00feff 257.5px,#00e5ff 272.5px,#00d4ff 291.5px,#00b3ff 302.5px,#00b6ff 318.5px,#00e5ff 327.5px,#00fdff 330.5px,#06fff9 331.5px,#2bffd4 342.5px,#2bffd4 354.5px,#12ffed 363.5px,#11ffee 371.5px,#00feff 375.5px,#00f6ff 377.5px,#00f6ff 400.5px)"></i>
<i style="left:268px;width:3px;background:linear-gradient(#8b0000 0.5px,#8b0000 71.5px,#8f0000 72.5px,#f70000 84.5px,#ff0700 86.5px,#ff7c00 102.5px,#ff9d00 123.5px,#ff8100 132.5px,#ff3d00 151.5px,#ff3e00 152.5px,#ff8200 164.5px,#fffc00 183.5px,#fcff03 184.5px,#82ff7d 204.5px,#42ffbd 221.5px,#3bffc4 246.5px,#00ffff 257.5px,#00e5ff 272.5px,#00d5ff 291.5px,#00b5ff 301.5px,#00b3ff 306.5px,#00b5ff 319.5px,#00e2ff 327.5px,#03fffc 331.5px,#29ffd6 342.5px,#29ffd6 354.5px,#12ffed 363.5px,#10ffef 371.5px,#00feff 375.5px,#00f6ff 377.5px,#00f6ff 400.5px)"></i>
<i style="left:271px;width:3px;background:linear-gradient(#8b0000 0.5px,#8b0000 71.5px,#8d0000 72.5px,#bf0000 79.5px,#f90000 86.5px,#ff0900 88.5px,#ff3e00 95.5px,#ff6c00 102.5px,#ff8f00 123.5px,#ff7800 131.5px,#ff5000 142.5px,#ff3b00 151.5px,#ff3d00 152.5px,#ff8100 164.5px,#fffb00 183.5px,#fdff02 184.5px,#82ff7d 204.5px,#44ffbb 220.5px,#3fffc0 222.5px,#3bffc4 246.5px,#06fff9 256.5px,#01fffe 258.5px,#00e7ff 272.5px,#00d6ff 291.5px,#00b6ff 301.5px,#00b2ff 307.5px,#00b5ff 319.5px,#00dfff 327.5px,#00fdff 331.5px,#04fffb 332.5px,#24ffdb 342.5px,#24ffdb 354.5px,#11ffee 363.5px,#0efff1 371.5px,#00fdff 375.5px,#00f6ff 377.5px,#00f6ff 400.5px)"></i>
<i style="left:274px;width:3px;background:linear-gradient(#8b0000 0.5px,#8b0000 72.5px,#b40000 79.5px,#fa0000 88.5px,#ff0a00 90.5px,#ff3100 95.5px,#ff5d00 102.5px,#ff6a00 107.5px,#ff8200 122.5px,#ff8000 124.5px,#ff6b00 131.5px,#ff4200 142.5px,#ff3900 151.5px,#ff3b00 152.5px,#ff8000 164.5px,#fffa00 183.5px,#fdff02 184.5px,#82ff7d 204.5px,#46ffb9 219.5px,#3fffc0 222.5px,#3affc5 246.5px,#09fff6 256.5px,#01fffe 259.5px,#00e8ff 272.5px,#00d6ff 291.5px,#00b8ff 301.5px,#00b2ff 307.5px,#00b5ff 319.5px,#00ddff 327.5px,#00f9ff 331.5px,#02fffd 333.5px,#1fffe0 342.5px,#1fffe0 354.5px,#10ffef 363.5px,#0cfff3 371.5px,#00fdff 375.5px,#00f6ff 377.5px,#00f6ff 400.5px)"></i>
<i style="left:277px;width:3px;background:linear-gradient(#8b0000 0.5px,#8b0000 72.5px,#a80000 79.5px,#fb0000 90.5px,#ff2400 95.5px,#ff4d00 102.5px,#ff5d00 107.5px,#ff7500 122.5px,#ff5e00 131.5px,#ff3700 141.5px,#ff3700 151.5px,#ff7f00 164.5px,#fffa00 183.5px,#feff01 184.5px,#82ff7d 204.5px,#45ffba 219.5px,#3fffc0 222.5px,#39ffc6 246.5px,#0bfff4 256.5px,#01fffe 260.5px,#00e9ff 272.5px,#00d7ff 291.5px,#00b9ff 301.5px,#00b2ff 307.5px,#00b5ff 319.5px,#00daff 327.5px,#00f4ff 331.5px,#01fefe 334.5px,#1affe5 342.5px,#1affe5 354.5px,#0afff5 371.5px,#00fcff 375.5px,#00f6ff 377.5px,#00f6ff 400.5px)"></i>
<i style="left:280px;width:3px;background:linear-gradient(#8b0000 0.5px,#8b0000 73.5px,#a20000 80.5px,#f70000 91.5px,#ff0700 93.5px,#ff3800 101.5px,#ff4d00 106.5px,#ff6700 121.5px,#ff6400 124.5px,#ff5000 131.5px,#ff2700 142.5px,#ff3800 152.5px,#ff8400 165.5px,#fff900 183.5px,#feff01 184.5px,#82ff7d 204.5px,#44ffbb 219.5px,#3fffc0 222.5px,#38ffc7 246.5px,#0afff5 257.5px,#00ffff 261.5px,#00eaff 272.5px,#00d7ff 291.5px,#00b8ff 302.5px,#00b2ff 307.5px,#00b4ff 319.5px,#00d7ff 327.5px,#00f4ff 332.5px,#01fffe 336.5px,#15ffea 342.5px,#15ffea 354.5px,#08fff7 371.5px,#00ffff 374.5px,#00f6ff 377.5px,#00f6ff 400.5px)"></i>
<i style="left:283px;width:3px;background:linear-gradient(#8b0000 0.5px,#8c0000 76.5px,#950000 80.5px,#fe0300 94.5px,#ff4000 106.5px,#ff5b00 121.5px,#ff4300 131.5px,#ff1a00 141.5px,#ff1a00 142.5px,#ff3700 152.5px,#ff8300 165.5px,#ffff00 184.5px,#83ff7c 204.5px,#43ffbc 219.5px,#37ffc8 246.5px,#0dfff2 257.5px,#00feff 262.5px,#00ecff 272.5px,#00d6ff 292.5px,#00b9ff 302.5px,#00b2ff 307.5px,#00b4ff 319.5px,#00d4ff 327.5px,#00efff 332.5px,#03fffc 338.5px,#0ffff0 342.5px,#0ffff0 354.5px,#0dfff2 364.5px,#00fdff 374.5px,#00f6ff 377.5px,#00f6ff 400.5px)"></i>
<i style="left:286px;width:3px;background:linear-gradient(#8b0000 0.5px,#8b0000 79.5px,#9d0000 82.5px,#f60000 94.5px,#ff0300 96.5px,#ff3700 107.5px,#ff4e00 121.5px,#ff3700 131.5px,#ff1100 141.5px,#ff1100 142.5px,#ff3600 152.5px,#ff8200 165.5px,#fffa00 183.5px,#feff01 184.5px,#82ff7d 204.5px,#43ffbc 219.5px,#36ffc9 246.5px,#01fffe 262.5px,#00edff 272.5px,#00d6ff 292.5px,#00bbff 302.5px,#00b2ff 307.5px,#00b4ff 319.5px,#00d2ff 327.5px,#00eaff 332.5px,#01fffe 339.5px,#0afff5 342.5px,#08fff7 357.5px,#0cfff3 363.5px,#00ffff 373.5px,#00f6ff 377.5px,#00f6ff 400.5px)"></i>
<i style="left:289px;width:3px;background:linear-gradient(#8b0000 0.5px,#8b0000 79.5px,#a00000 83.5px,#ed0000 94.5px,#ff0300 98.5px,#ff2c00 107.5px,#ff4100 121.5px,#ff3200 129.5px,#ff1100 139.5px,#ff0d00 142.5px,#ff3000 151.5px,#ff4600 155.5px,#ff8800 166.5px,#fffd00 183.5px,#80ff7f 204.5px,#45ffba 219.5px,#35ffca 246.5px,#23ffdc 253.5px,#00ffff 263.5px,#00eeff 272.5px,#00d7ff 292.5px,#00b2ff 307.5px,#00b4ff 319.5px,#00e4ff 332.5px,#03fffc 341.5px,#04fffb 357.5px,#0bfff4 364.5px,#00ffff 372.5px,#00f6ff 377.5px,#00f6ff 400.5px)"></i>
<i style="left:292px;width:3px;background:linear-gradient(#8b0000 0.5px,#8b0000 79.5px,#960000 82.5px,#e30000 94.5px,#ff0300 100.5px,#ff1700 104.5px,#ff2100 107.5px,#ff3300 121.5px,#ff2b00 127.5px,#ff0b00 138.5px,#ff0800 141.5px,#ff2f00 151.5px,#ff7a00 164.5px,#fff900 182.5px,#feff01 183.5px,#87ff78 202.5px,#47ffb8 219.5px,#33ffcc 247.5px,#25ffda 253.5px,#01fffe 263.5px,#00f0ff 272.5px,#00d8ff 292.5px,#00b2ff 307.5px,#00b3ff 319.5px,#01fefe 342.5px,#00feff 357.5px,#0afff5 364.5px,#00feff 371.5px,#00f6ff 377.5px,#00f6ff 400.5px)"></i>
<i style="left:295px;width:3px;background:linear-gradient(#8b0000 0.5px,#8b0000 80.5px,#970000 83.5px,#df0000 95.5px,#fd0100 101.5px,#ff1500 107.5px,#ff2600 121.5px,#ff2000 127.5px,#ff0300 138.5px,#ff0400 141.5px,#ff2e00 151.5px,#ff7f00 165.5px,#fffc00 182.5px,#fcff03 183.5px,#85ff7a 202.5px,#49ffb6 219.5px,#32ffcd 247.5px,#27ffd8 253.5px,#00feff 264.5px,#00d2ff 296.5px,#00b2ff 307.5px,#00b5ff 320.5px,#00faff 342.5px,#00f9ff 356.5px,#00feff 359.5px,#09fff6 364.5px,#00feff 370.5px,#00f6ff 377.5px,#00f6ff 400.5px)"></i>
<i style="left:298px;width:3px;background:linear-gradient(#8b0000 0.5px,#8b0000 80.5px,#930000 83.5px,#fe0100 103.5px,#ff1700 116.5px,#ff1900 121.5px,#ff1500 127.5px,#fe0100 136.5px,#fa0000 139.5px,#fe0000 141.5px,#ff0b00 144.5px,#ff2d00 151.5px,#ff7e00 165.5px,#fffe00 182.5px,#82ff7d 202.5px,#4bffb4 219.5px,#33ffcc 246.5px,#29ffd6 253.5px,#00ffff 264.5px,#00d3ff 296.5px,#00b2ff 307.5px,#00b4ff 320.5px,#00daff 334.5px,#00f5ff 342.5px,#00f4ff 356.5px,#02fffd 361.5px,#08fff7 364.5px,#00feff 369.5px,#00f6ff 377.5px,#00f6ff 400.5px)"></i>
<i style="left:301px;width:3px;background:linear-gradient(#8b0000 0.5px,#8c0000 82.5px,#fa0000 104.5px,#ff0c00 121.5px,#ff0b00 126.5px,#fe0200 131.5px,#f30000 138.5px,#fe0000 142.5px,#ff2c00 151.5px,#ff7d00 165.5px,#fffa00 181.5px,#fdff02 182.5px,#7fff80 202.5px,#4bffb4 220.5px,#2bffd4 253.5px,#00feff 265.5px,#00d5ff 296.5px,#00b3ff 307.5px,#00b4ff 320.5px,#00d5ff 334.5px,#00eeff 341.5px,#00efff 356.5px,#00ffff 361.5px,#08fff7 364.5px,#00feff 368.5px,#00f7ff 372.5px,#00f6ff 400.5px)"></i>
<i style="left:304px;width:3px;background:linear-gradient(#8b0000 0.5px,#8b0000 83.5px,#ea0000 104.5px,#f90000 116.5px,#fa0000 126.5px,#eb0000 138.5px,#fe0100 144.5px,#ff3000 153.5px,#ff7b00 165.5px,#fffc00 181.5px,#7eff81 202.5px,#4dffb2 220.5px,#2fffd0 253.5px,#08fff7 264.5px,#02fffd 267.5px,#00d7ff 296.5px,#00b8ff 307.5px,#00b9ff 320.5px,#00d5ff 334.5px,#00efff 342.5px,#00f1ff 356.5px,#00ffff 361.5px,#07fff8 364.5px,#00ffff 368.5px,#00f6ff 372.5px,#00f5ff 376.5px,#00f4ff 400.5px)"></i>
<i style="left:307px;width:3px;background:linear-gradient(#8b0000 0.5px,#8b0000 83.5px,#ad0000 93.5px,#d40000 103.5px,#e40000 109.5px,#eb0000 126.5px,#e40000 138.5px,#fe0100 146.5px,#ff2c00 154.5px,#ff7900 165.5px,#fffd00 181.5px,#7eff81 202.5px,#4fffb0 220.5px,#33ffcc 253.5px,#23ffdc 259.5px,#0dfff2 265.5px,#02fffd 270.5px,#00d9ff 296.5px,#00c0ff 307.5px,#00c1ff 320.5px,#00d3ff 332.5px,#00f0ff 342.5px,#00f4ff 356.5px,#01fffe 361.5px,#07fff8 364.5px,#00ffff 368.5px,#00f1ff 377.5px,#00f1ff 400.5px)"></i>
<i style="left:310px;width:3px;background:linear-gradient(#8b0000 0.5px,#8b0000 85.5px,#d50000 109.5px,#dc0000 138.5px,#fe0100 148.5px,#ff2300 154.5px,#ff7f00 166.5px,#fffe00 181.5px,#7eff81 202.5px,#51ffae 220.5px,#37ffc8 254.5px,#2cffd3 259.5px,#0afff5 269.5px,#01fffe 273.5px,#00c8ff 307.5px,#00c8ff 320.5px,#00d6ff 332.5px,#00f1ff 342.5px,#00f8ff 356.5px,#01fffe 360.5px,#07fff8 364.5px,#01fffe 368.5px,#00eeff 377.5px,#00eeff 400.5px)"></i>
<i style="left:313px;width:3px;background:linear-gradient(#8b0000 0.5px,#8b0000 87.5px,#b10000 104.5px,#c50000 109.5px,#c10000 117.5px,#d50000 138.5px,#fb0000 149.5px,#ff0600 151.5px,#ff1900 154.5px,#fff800 180.5px,#ffff00 181.5px,#7eff81 202.5px,#53ffac 220.5px,#3dffc2 253.5px,#34ffcb 259.5px,#10ffef 269.5px,#01fffe 276.5px,#00efff 284.5px,#00d0ff 307.5px,#00cfff 319.5px,#00d7ff 331.5px,#00f0ff 341.5px,#00f8ff 346.5px,#01fffe 359.5px,#07fff8 364.5px,#02fffd 368.5px,#00ebff 377.5px,#00ebff 400.5px)"></i>
<i style="left:316px;width:3px;background:linear-gradient(#8b0000 0.5px,#8c0000 91.5px,#9e0000 104.5px,#b80000 110.5px,#ae0000 117.5px,#cb0000 137.5px,#e80000 147.5px,#fc0000 151.5px,#ff0f00 154.5px,#ff4900 160.5px,#fff900 180.5px,#fdff02 181.5px,#7eff81 202.5px,#53ffac 221.5px,#3cffc3 259.5px,#15ffea 269.5px,#01fffe 278.5px,#00dfff 297.5px,#00d8ff 307.5px,#00daff 331.5px,#00fbff 346.5px,#01fffe 357.5px,#07fff8 366.5px,#00feff 369.5px,#00e9ff 377.5px,#00e9ff 400.5px)"></i>
<i style="left:319px;width:3px;background:linear-gradient(#8b0000 0.5px,#8d0000 104.5px,#aa0000 110.5px,#9d0000 117.5px,#ad0000 127.5px,#c10000 136.5px,#e00000 147.5px,#fe0000 153.5px,#ff0700 154.5px,#ff4500 160.5px,#fffa00 180.5px,#fcff03 181.5px,#7fff80 202.5px,#55ffaa 221.5px,#44ffbb 259.5px,#18ffe7 270.5px,#01fefe 280.5px,#00e1ff 299.5px,#00ddff 331.5px,#00feff 346.5px,#01fffe 349.5px,#08fff7 366.5px,#00ffff 369.5px,#00e6ff 377.5px,#00e5ff 400.5px)"></i>
<i style="left:322px;width:3px;background:linear-gradient(#8b0000 0.5px,#8b0000 105.5px,#a20000 110.5px,#970000 117.5px,#a90000 129.5px,#e10000 147.5px,#fb0000 152.5px,#ff0100 153.5px,#ff0900 154.5px,#ff4400 160.5px,#fffc00 180.5px,#fbff04 181.5px,#c2ff3d 191.5px,#84ff7b 201.5px,#7dff82 203.5px,#56ffa9 221.5px,#48ffb7 259.5px,#20ffdf 270.5px,#01fefe 282.5px,#00e2ff 299.5px,#00e0ff 331.5px,#00ffff 347.5px,#0afff5 366.5px,#03fffc 369.5px,#00e6ff 377.5px,#00e1ff 400.5px)"></i>
<i style="left:325px;width:3px;background:linear-gradient(#8b0000 0.5px,#8b0000 105.5px,#9b0000 110.5px,#930000 117.5px,#a60000 130.5px,#cf0000 142.5px,#fe0000 152.5px,#ff0d00 154.5px,#fffd00 180.5px,#86ff79 201.5px,#7cff83 204.5px,#58ffa7 221.5px,#4dffb2 259.5px,#40ffbf 264.5px,#1dffe2 273.5px,#00feff 284.5px,#00e3ff 298.5px,#00e2ff 331.5px,#00f1ff 341.5px,#01fffe 347.5px,#07fff8 352.5px,#0bfff4 366.5px,#03fffc 370.5px,#00e7ff 377.5px,#00e1ff 381.5px,#00ddff 400.5px)"></i>
<i style="left:328px;width:3px;background:linear-gradient(#8b0000 0.5px,#8b0000 106.5px,#930000 110.5px,#8f0000 117.5px,#9f0000 130.5px,#ce0000 142.5px,#fd0000 151.5px,#ff1100 154.5px,#ff3c00 159.5px,#fffe00 180.5px,#88ff77 201.5px,#7cff83 204.5px,#5affa5 221.5px,#50ffaf 260.5px,#45ffba 265.5px,#21ffde 274.5px,#00feff 286.5px,#00e3ff 299.5px,#00e5ff 331.5px,#00f0ff 341.5px,#01fffe 347.5px,#0afff5 352.5px,#0dfff2 366.5px,#02fffd 371.5px,#00e8ff 377.5px,#00ddff 382.5px,#00d8ff 400.5px)"></i>
<i style="left:331px;width:3px;background:linear-gradient(#8b0000 0.5px,#8d0000 119.5px,#990000 130.5px,#c90000 141.5px,#fb0000 150.5px,#ff0f00 153.5px,#ff4400 160.5px,#ffbb00 173.5px,#fff700 179.5px,#ffff00 180.5px,#8aff75 201.5px,#7dff82 204.5px,#5bffa4 222.5px,#56ffa9 259.5px,#50ffaf 264.5px,#27ffd8 274.5px,#01fffe 287.5px,#00e4ff 299.5px,#00e8ff 332.5px,#00efff 341.5px,#00fdff 346.5px,#0cfff3 352.5px,#0efff1 366.5px,#0cfff3 369.5px,#00ffff 372.5px,#00e9ff 377.5px,#00daff 382.5px,#00d4ff 400.5px)"></i>
<i style="left:334px;width:3px;background:linear-gradient(#8b0000 0.5px,#8d0000 126.5px,#930000 130.5px,#c70000 141.5px,#ff0000 150.5px,#ff4400 160.5px,#ffbb00 173.5px,#fff900 179.5px,#fdff02 180.5px,#7eff81 204.5px,#5cffa3 222.5px,#57ffa8 264.5px,#2dffd2 274.5px,#00feff 289.5px,#00e5ff 299.5px,#00efff 341.5px,#00fdff 346.5px,#0ffff0 352.5px,#10ffef 366.5px,#0ffff0 369.5px,#03fffc 372.5px,#00d7ff 382.5px,#00d0ff 400.5px)"></i>
<i style="left:337px;width:3px;background:linear-gradient(#8b0000 0.5px,#8b0000 129.5px,#c50000 141.5px,#fb0000 149.5px,#ff0200 150.5px,#ff4400 160.5px,#ffbb00 173.5px,#fff900 179.5px,#fdff02 180.5px,#7fff80 204.5px,#5dffa2 222.5px,#5dffa2 264.5px,#32ffcd 274.5px,#00feff 290.5px,#00e6ff 299.5px,#00eeff 341.5px,#00fdff 346.5px,#11ffee 352.5px,#11ffee 366.5px,#11ffee 369.5px,#00ffff 373.5px,#00d4ff 382.5px,#00ccff 400.5px)"></i>
<i style="left:340px;width:3px;background:linear-gradient(#8b0000 0.5px,#8b0000 129.5px,#c10000 141.5px,#fe0000 150.5px,#ff4400 160.5px,#ffbb00 173.5px,#fff800 179.5px,#feff01 180.5px,#7fff80 204.5px,#5effa2 222.5px,#5effa2 264.5px,#1dffe2 281.5px,#00feff 291.5px,#00e8ff 299.5px,#00eeff 341.5px,#00fdff 346.5px,#11ffee 352.5px,#11ffee 369.5px,#00ffff 373.5px,#00d4ff 382.5px,#00ccff 400.5px)"></i>
<i style="left:343px;width:3px;background:linear-gradient(#8b0000 0.5px,#8b0000 129.5px,#b80000 140.5px,#fc0000 150.5px,#ff0300 151.5px,#ff4300 160.5px,#ffff00 180.5px,#7fff80 204.5px,#5effa2 222.5px,#5effa2 264.5px,#1cffe3 282.5px,#01fffe 291.5px,#00eaff 299.5px,#00e9ff 311.5px,#00eeff 341.5px,#00fdff 346.5px,#11ffee 352.5px,#11ffee 369.5px,#00ffff 373.5px,#00d4ff 382.5px,#00ccff 400.5px)"></i>
<i style="left:346px;width:3px;background:linear-gradient(#8b0000 0.5px,#8b0000 130.5px,#b30000 140.5px,#ff0100 151.5px,#ff4300 160.5px,#fffe00 180.5px,#84ff7b 203.5px,#7dff82 205.5px,#5effa2 222.5px,#5effa2 264.5px,#1fffe0 282.5px,#00ffff 292.5px,#00edff 299.5px,#00eaff 312.5px,#00eeff 341.5px,#00fdff 346.5px,#11ffee 352.5px,#11ffee 369.5px,#00ffff 373.5px,#00d4ff 382.5px,#00ccff 400.5px)"></i>
<i style="left:349px;width:3px;background:linear-gradient(#8b0000 0.5px,#8b0000 130.5px,#af0000 140.5px,#fd0000 151.5px,#ff4300 160.5px,#fffc00 180.5px,#84ff7b 203.5px,#7dff82 205.5px,#5effa2 222.5px,#5effa2 264.5px,#44ffbb 273.5px,#21ffde 282.5px,#00ffff 293.5px,#00efff 299.5px,#00eaff 312.5px,#00eeff 341.5px,#00fdff 346.5px,#11ffee 352.5px,#11ffee 369.5px,#00ffff 373.5px,#00d4ff 382.5px,#00ccff 400.5px)"></i>
<i style="left:352px;width:3px;background:linear-gradient(#8b0000 0.5px,#8b0000 130.5px,#ab0000 140.5px,#fa0000 151.5px,#ff0300 152.5px,#ff3a00 159.5px,#fffb00 180.5px,#fcff03 181.5px,#85ff7a 203.5px,#7dff82 205.5px,#5effa2 222.5px,#5cffa3 265.5px,#48ffb7 273.5px,#23ffdc 282.5px,#00feff 294.5px,#00f1ff 299.5px,#00ebff 312.5px,#00eeff 341.5px,#00fdff 346.5px,#11ffee 352.5px,#11ffee 369.5px,#00ffff 373.5px,#00d4ff 382.5px,#00ccff 400.5px)"></i>
<i style="left:355px;width:3px;background:linear-gradient(#8b0000 0.5px,#8b0000 130.5px,#a60000 140.5px,#ff0000 152.5px,#ff4200 160.5px,#fffa00 180.5px,#fdff02 181.5px,#7eff81 205.5px,#5effa2 222.5px,#5cffa3 265.5px,#4bffb4 273.5px,#25ffda 282.5px,#00fdff 295.5px,#00f3ff 299.5px,#00ebff 312.5px,#00eeff 341.5px,#00fdff 346.5px,#11ffee 352.5px,#11ffee 369.5px,#00ffff 373.5px,#00d4ff 382.5px,#00ccff 400.5px)"></i>
<i style="left:358px;width:3px;background:linear-gradient(#8b0000 0.5px,#8b0000 131.5px,#a20000 140.5px,#fd0000 152.5px,#ff3800 159.5px,#fff900 180.5px,#ffff00 181.5px,#7eff81 205.5px,#5effa2 222.5px,#5dffa2 265.5px,#4effb1 273.5px,#28ffd7 282.5px,#01fffe 295.5px,#00f5ff 299.5px,#00ecff 312.5px,#00eeff 341.5px,#00fdff 346.5px,#11ffee 352.5px,#11ffee 369.5px,#00ffff 373.5px,#00d4ff 382.5px,#00ccff 400.5px)"></i>
<i style="left:361px;width:3px;background:linear-gradient(#8b0000 0.5px,#8b0000 131.5px,#9d0000 140.5px,#fa0000 152.5px,#ff0c00 154.5px,#ffbb00 173.5px,#fffe00 181.5px,#7eff81 205.5px,#5effa2 222.5px,#5effa2 264.5px,#52ffad 273.5px,#2affd5 282.5px,#00ffff 296.5px,#00f7ff 299.5px,#00ecff 312.5px,#00eeff 341.5px,#00fdff 346.5px,#11ffee 352.5px,#11ffee 369.5px,#00ffff 373.5px,#00d4ff 382.5px,#00ccff 400.5px)"></i>
<i style="left:364px;width:3px;background:linear-gradient(#8b0000 0.5px,#8c0000 133.5px,#990000 140.5px,#ff0100 153.5px,#ffbb00 173.5px,#fffd00 181.5px,#7eff81 205.5px,#5effa2 222.5px,#5effa2 264.5px,#55ffaa 273.5px,#2cffd3 282.5px,#00feff 297.5px,#00edff 312.5px,#00eeff 341.5px,#00fdff 346.5px,#11ffee 352.5px,#11ffee 369.5px,#00ffff 373.5px,#00d4ff 382.5px,#00ccff 400.5px)"></i>
<i style="left:367px;width:3px;background:linear-gradient(#8b0000 0.5px,#8b0000 134.5px,#950000 140.5px,#fe0000 153.5px,#ffbb00 173.5px,#fffc00 181.5px,#7eff81 205.5px,#5effa2 222.5px,#5effa2 264.5px,#59ffa6 273.5px,#2fffd0 282.5px,#00feff 298.5px,#00edff 312.5px,#00eeff 341.5px,#02fffd 347.5px,#11ffee 352.5px,#11ffee 369.5px,#00ffff 373.5px,#00d4ff 382.5px,#00ccff 400.5px)"></i>
<i style="left:370px;width:3px;background:linear-gradient(#8b0000 0.5px,#8c0000 139.5px,#910000 140.5px,#fb0000 153.5px,#ff0600 154.5px,#ffbb00 173.5px,#fffb00 181.5px,#fcff03 182.5px,#7eff81 205.5px,#5effa2 222.5px,#5cffa3 273.5px,#31ffce 282.5px,#01fffe 298.5px,#00eeff 312.5px,#00eeff 341.5px,#00fdff 346.5px,#11ffee 352.5px,#11ffee 369.5px,#00ffff 373.5px,#00d4ff 382.5px,#00ccff 400.5px)"></i>
<i style="left:373px;width:3px;background:linear-gradient(#8b0000 0.5px,#8b0000 139.5px,#8f0000 140.5px,#f80000 153.5px,#ff0200 154.5px,#ff9500 169.5px,#fffa00 181.5px,#fdff02 182.5px,#7eff81 205.5px,#5effa2 222.5px,#5effa2 273.5px,#32ffcd 282.5px,#00ffff 299.5px,#00eeff 312.5px,#00efff 341.5px,#00feff 346.5px,#11ffee 352.5px,#11ffee 369.5px,#00ffff 373.5px,#00d6ff 382.5px,#00ceff 400.5px)"></i>
<i style="left:376px;width:3px;background:linear-gradient(#8b0000 0.5px,#8b0000 139.5px,#8e0000 140.5px,#b90000 146.5px,#fc0000 154.5px,#ff9300 169.5px,#fffa00 181.5px,#fdff02 182.5px,#7eff81 205.5px,#5effa2 222.5px,#5effa2 273.5px,#32ffcd 282.5px,#00ffff 299.5px,#00eeff 312.5px,#00efff 341.5px,#00feff 346.5px,#11ffee 352.5px,#10ffef 369.5px,#00ffff 373.5px,#00d8ff 382.5px,#00d1ff 400.5px)"></i>
<i style="left:379px;width:3px;background:linear-gradient(#8b0000 0.5px,#8b0000 139.5px,#8d0000 140.5px,#b40000 146.5px,#f80000 154.5px,#ff0300 155.5px,#ff7d00 167.5px,#ffb600 173.5px,#fff900 181.5px,#feff01 182.5px,#7eff81 205.5px,#5effa2 222.5px,#5effa2 273.5px,#32ffcd 282.5px,#01fffe 299.5px,#00eeff 312.5px,#00f0ff 341.5px,#00feff 346.5px,#11ffee 352.5px,#0ffff0 369.5px,#00ffff 373.5px,#00daff 382.5px,#00d4ff 400.5px)"></i>
<i style="left:382px;width:3px;background:linear-gradient(#8b0000 0.5px,#8b0000 139.5px,#8d0000 140.5px,#b00000 146.5px,#fd0000 155.5px,#ff8f00 169.5px,#ffbd00 174.5px,#ffff00 182.5px,#7eff81 205.5px,#5effa2 222.5px,#5effa2 273.5px,#32ffcd 282.5px,#00ffff 300.5px,#00eeff 312.5px,#00f1ff 341.5px,#00ffff 346.5px,#11ffee 352.5px,#0efff1 369.5px,#00ffff 373.5px,#00ddff 382.5px,#00d7ff 400.5px)"></i>
<i style="left:385px;width:3px;background:linear-gradient(#8b0000 0.5px,#8b0000 139.5px,#8c0000 140.5px,#ab0000 146.5px,#f90000 155.5px,#ff0400 156.5px,#ff8d00 169.5px,#ffff00 182.5px,#7eff81 205.5px,#5effa2 222.5px,#5effa2 273.5px,#32ffcd 282.5px,#00ffff 300.5px,#00eeff 312.5px,#00f1ff 341.5px,#00ffff 346.5px,#11ffee 352.5px,#0efff1 369.5px,#00ffff 373.5px,#00dfff 382.5px,#00daff 400.5px)"></i>
<i style="left:388px;width:3px;background:linear-gradient(#8b0000 0.5px,#8b0000 140.5px,#ad0000 147.5px,#fe0000 156.5px,#ff8b00 169.5px,#fffe00 182.5px,#7eff81 205.5px,#5effa2 222.5px,#5effa2 273.5px,#32ffcd 282.5px,#01fffe 300.5px,#00eeff 312.5px,#00f2ff 341.5px,#00fdff 345.5px,#11ffee 352.5px,#0dfff2 369.5px,#00ffff 373.5px,#00e1ff 382.5px,#00ddff 400.5px)"></i>
<i style="left:391px;width:3px;background:linear-gradient(#8b0000 0.5px,#8b0000 140.5px,#a80000 147.5px,#fa0000 156.5px,#ff0f00 158.5px,#ff8900 169.5px,#fffd00 182.5px,#82ff7d 204.5px,#60ff9f 219.5px,#5effa2 273.5px,#32ffcd 282.5px,#00feff 301.5px,#00eeff 312.5px,#00f3ff 341.5px,#00fdff 345.5px,#11ffee 352.5px,#0cfff3 369.5px,#00ffff 373.5px,#00e3ff 382.5px,#00e0ff 400.5px)"></i>
<i style="left:394px;width:3px;background:linear-gradient(#8b0000 0.5px,#8b0000 140.5px,#a30000 147.5px,#ff0100 157.5px,#ff8700 169.5px,#fffd00 182.5px,#82ff7d 204.5px,#5effa1 220.5px,#5effa2 273.5px,#32ffcd 282.5px,#00ffff 301.5px,#00eeff 312.5px,#00f4ff 341.5px,#00feff 345.5px,#11ffee 352.5px,#0bfff4 369.5px,#01fffe 373.5px,#00e5ff 382.5px,#00e3ff 400.5px)"></i>
<i style="left:397px;width:3px;background:linear-gradient(#8b0000 0.5px,#8b0000 140.5px,#980000 146.5px,#9e0000 147.5px,#fc0000 157.5px,#ff1200 159.5px,#ff8500 169.5px,#fffc00 182.5px,#82ff7d 204.5px,#5effa1 220.5px,#5effa2 273.5px,#32ffcd 282.5px,#00ffff 301.5px,#00eeff 312.5px,#00f4ff 341.5px,#00feff 345.5px,#11ffee 352.5px,#0bfff4 369.5px,#01fffe 373.5px,#00e8ff 382.5px,#00e6ff 400.5px)"></i>
<i style="left:400px;width:3px;background:linear-gradient(#8b0000 0.5px,#8b0000 141.5px,#930000 146.5px,#990000 147.5px,#f80000 157.5px,#ff0300 158.5px,#ff8300 169.5px,#fffc00 182.5px,#fbff04 183.5px,#82ff7d 204.5px,#5effa1 220.5px,#5effa2 273.5px,#32ffcd 282.5px,#00feff 302.5px,#00eeff 312.5px,#00f5ff 341.5px,#00ffff 345.5px,#11ffee 352.5px,#0afff5 369.5px,#01fffe 373.5px,#00eaff 382.5px,#00e9ff 400.5px)"></i>
<i style="left:403px;width:3px;background:linear-gradient(#8b0000 0.5px,#8c0000 143.5px,#8f0000 146.5px,#940000 147.5px,#fd0000 158.5px,#ff8100 169.5px,#fffb00 182.5px,#fcff03 183.5px,#82ff7d 204.5px,#5effa1 220.5px,#5effa2 273.5px,#32ffcd 282.5px,#00feff 302.5px,#00eeff 312.5px,#00f6ff 341.5px,#00ffff 345.5px,#11ffee 352.5px,#09fff6 369.5px,#00feff 374.5px,#00ecff 382.5px,#00ecff 400.5px)"></i>
<i style="left:406px;width:3px;background:linear-gradient(#8b0000 0.5px,#8b0000 146.5px,#900000 147.5px,#fa0000 158.5px,#ff0500 159.5px,#ff7f00 169.5px,#fffa00 182.5px,#fcff03 183.5px,#82ff7d 204.5px,#5effa1 219.5px,#5dffa2 273.5px,#32ffcd 282.5px,#00feff 302.5px,#00eeff 312.5px,#00f5ff 341.5px,#00feff 345.5px,#0ffff0 352.5px,#08fff7 369.5px,#00fdff 374.5px,#00edff 382.5px,#00edff 400.5px)"></i>
<i style="left:409px;width:3px;background:linear-gradient(#8b0000 0.5px,#8b0000 146.5px,#8f0000 147.5px,#b20000 151.5px,#ff0100 159.5px,#ff7d00 169.5px,#fffa00 182.5px,#fcff03 183.5px,#81ff7e 204.5px,#5affa5 220.5px,#59ffa6 273.5px,#31ffce 282.5px,#00ffff 302.5px,#00eeff 312.5px,#00efff 341.5px,#02fffd 349.5px,#07fff8 352.5px,#03fffc 370.5px,#00ebff 382.5px,#00ebff 400.5px)"></i>
<i style="left:412px;width:3px;background:linear-gradient(#8b0000 0.5px,#8b0000 146.5px,#8e0000 147.5px,#ae0000 151.5px,#fd0000 159.5px,#ff2100 162.5px,#ff8600 170.5px,#fffa00 182.5px,#fcff03 183.5px,#80ff7f 204.5px,#58ffa7 220.5px,#54ffab 230.5px,#55ffaa 273.5px,#31ffce 282.5px,#13ffec 296.5px,#00feff 303.5px,#00eeff 312.5px,#00e9ff 337.5px,#00ebff 342.5px,#01fefe 352.5px,#01fffe 369.5px,#00e9ff 382.5px,#00e9ff 400.5px)"></i>
<i style="left:415px;width:3px;background:linear-gradient(#8b0000 0.5px,#8b0000 146.5px,#8e0000 147.5px,#aa0000 151.5px,#f90000 159.5px,#ff0500 160.5px,#ff1d00 162.5px,#ff8400 170.5px,#fffa00 182.5px,#fcff03 183.5px,#7fff80 204.5px,#64ff9b 213.5px,#55ffaa 220.5px,#50ffaf 230.5px,#51ffae 273.5px,#30ffcf 282.5px,#16ffe9 296.5px,#00feff 303.5px,#00eeff 312.5px,#00e3ff 336.5px,#00e5ff 342.5px,#00f6ff 352.5px,#00fdff 366.5px,#00faff 370.5px,#00e7ff 382.5px,#00e7ff 400.5px)"></i>
<i style="left:418px;width:3px;background:linear-gradient(#8b0000 0.5px,#8b0000 146.5px,#8d0000 147.5px,#af0000 152.5px,#ff0100 160.5px,#ff8300 170.5px,#fffa00 182.5px,#fcff03 183.5px,#7dff82 204.5px,#62ff9d 213.5px,#52ffad 220.5px,#4bffb4 230.5px,#4cffb3 273.5px,#30ffcf 282.5px,#18ffe7 296.5px,#00feff 303.5px,#00eeff 312.5px,#00ddff 337.5px,#00dfff 342.5px,#00eeff 352.5px,#00f9ff 366.5px,#00f7ff 370.5px,#00e5ff 382.5px,#00e5ff 400.5px)"></i>
<i style="left:421px;width:3px;background:linear-gradient(#8b0000 0.5px,#8b0000 146.5px,#8d0000 147.5px,#ab0000 152.5px,#fc0000 160.5px,#ff2200 163.5px,#ff8100 170.5px,#fffa00 182.5px,#fcff03 183.5px,#7cff83 204.5px,#5fffa0 213.5px,#50ffaf 220.5px,#47ffb8 230.5px,#4affb5 245.5px,#48ffb7 273.5px,#30ffcf 282.5px,#1bffe4 296.5px,#00ffff 303.5px,#00eeff 312.5px,#00d7ff 337.5px,#00d9ff 342.5px,#00f5ff 367.5px,#00e3ff 382.5px,#00e3ff 400.5px)"></i>
<i style="left:424px;width:3px;background:linear-gradient(#8b0000 0.5px,#8b0000 146.5px,#8c0000 147.5px,#a70000 152.5px,#f90000 160.5px,#ff0500 161.5px,#ff1100 162.5px,#ff8b00 171.5px,#fffa00 182.5px,#fcff03 183.5px,#c2ff3d 192.5px,#7bff84 204.5px,#5cffa3 213.5px,#4dffb2 220.5px,#42ffbd 230.5px,#47ffb8 245.5px,#44ffbb 273.5px,#2fffd0 282.5px,#1dffe2 296.5px,#00ffff 303.5px,#00fcff 304.5px,#00eeff 312.5px,#00d1ff 337.5px,#00d3ff 342.5px,#00f1ff 367.5px,#00e0ff 382.5px,#00e0ff 400.5px)"></i>
<i style="left:427px;width:3px;background:linear-gradient(#8b0000 0.5px,#8b0000 147.5px,#a20000 152.5px,#ff0100 161.5px,#ff8a00 171.5px,#fffa00 182.5px,#fcff03 183.5px,#89ff76 201.5px,#76ff89 205.5px,#57ffa8 214.5px,#3effc1 229.5px,#43ffbc 245.5px,#40ffbf 273.5px,#2fffd0 282.5px,#20ffdf 296.5px,#01fffe 303.5px,#00fdff 304.5px,#00ccff 337.5px,#00d5ff 351.5px,#00edff 367.5px,#00deff 382.5px,#00deff 400.5px)"></i>
<i style="left:430px;width:3px;background:linear-gradient(#8b0000 0.5px,#8b0000 147.5px,#9e0000 152.5px,#fc0000 161.5px,#ff1600 163.5px,#ff8900 171.5px,#fffa00 182.5px,#fcff03 183.5px,#c0ff3f 192.5px,#79ff86 204.5px,#54ffab 214.5px,#3affc5 229.5px,#3fffc0 245.5px,#3cffc3 273.5px,#2effd1 282.5px,#22ffdd 296.5px,#01fffe 303.5px,#00c6ff 337.5px,#00cdff 351.5px,#00e9ff 367.5px,#00dcff 382.5px,#00dcff 400.5px)"></i>
<i style="left:433px;width:3px;background:linear-gradient(#8b0000 0.5px,#8b0000 147.5px,#940000 151.5px,#9a0000 152.5px,#f80000 161.5px,#ff0400 162.5px,#ff1100 163.5px,#ff8800 171.5px,#fffa00 182.5px,#fcff03 183.5px,#beff41 192.5px,#86ff79 201.5px,#78ff87 204.5px,#52ffad 214.5px,#36ffc9 229.5px,#3cffc3 245.5px,#37ffc8 274.5px,#25ffda 296.5px,#02fffd 303.5px,#00dbff 324.5px,#00c0ff 337.5px,#00c5ff 351.5px,#00e6ff 367.5px,#00daff 382.5px,#00daff 400.5px)"></i>
<i style="left:436px;width:3px;background:linear-gradient(#8b0000 0.5px,#8b0000 148.5px,#900000 151.5px,#960000 152.5px,#fe0000 162.5px,#ff8600 171.5px,#fffa00 182.5px,#fcff03 183.5px,#bdff42 192.5px,#85ff7a 201.5px,#76ff89 204.5px,#4fffb0 214.5px,#31ffce 229.5px,#38ffc7 245.5px,#34ffcb 273.5px,#27ffd8 296.5px,#02fffd 303.5px,#00d9ff 324.5px,#00baff 337.5px,#00bdff 351.5px,#00e2ff 367.5px,#00d7ff 382.5px,#00d7ff 400.5px)"></i>
<i style="left:439px;width:3px;background:linear-gradient(#8b0000 0.5px,#8c0000 151.5px,#920000 152.5px,#fb0000 162.5px,#ff0900 163.5px,#ff8500 171.5px,#fffa00 182.5px,#fbff04 183.5px,#bcff43 192.5px,#7eff81 202.5px,#4cffb3 214.5px,#2dffd2 229.5px,#34ffcb 245.5px,#2affd5 296.5px,#03fffc 303.5px,#00d6ff 324.5px,#00b5ff 337.5px,#00b5ff 351.5px,#00deff 367.5px,#00d5ff 382.5px,#00d5ff 400.5px)"></i>
<i style="left:442px;width:3px;background:linear-gradient(#8b0000 0.5px,#8b0000 151.5px,#900000 152.5px,#f60000 162.5px,#ff0400 163.5px,#ff8200 171.5px,#fffa00 182.5px,#fbff04 183.5px,#bbff44 192.5px,#7cff83 202.5px,#4affb5 214.5px,#2cffd3 229.5px,#33ffcc 245.5px,#2bffd4 295.5px,#27ffd8 297.5px,#03fffc 303.5px,#00d4ff 324.5px,#00b1ff 337.5px,#00b2ff 352.5px,#00dbff 367.5px,#00d2ff 382.5px,#00d1ff 400.5px)"></i>
<i style="left:445px;width:3px;background:linear-gradient(#8b0000 0.5px,#8b0000 151.5px,#8f0000 152.5px,#cf0000 159.5px,#fd0000 163.5px,#ff7e00 171.5px,#fffb00 182.5px,#faff05 183.5px,#baff45 192.5px,#7aff85 202.5px,#49ffb6 214.5px,#2bffd4 229.5px,#32ffcd 245.5px,#2cffd3 294.5px,#27ffd8 297.5px,#02fffd 303.5px,#00d2ff 324.5px,#00b0ff 337.5px,#00afff 352.5px,#00d7ff 367.5px,#00ccff 388.5px,#00ccff 400.5px)"></i>
<i style="left:448px;width:3px;background:linear-gradient(#8b0000 0.5px,#8b0000 151.5px,#8e0000 152.5px,#c80000 159.5px,#f70000 163.5px,#ff0800 164.5px,#ff7900 171.5px,#fffc00 182.5px,#90ff6f 198.5px,#78ff87 202.5px,#5cffa3 208.5px,#47ffb8 214.5px,#2bffd4 229.5px,#32ffcd 245.5px,#2dffd2 294.5px,#26ffd9 297.5px,#01fffe 303.5px,#00d0ff 324.5px,#00b0ff 336.5px,#00adff 341.5px,#00acff 352.5px,#00d4ff 367.5px,#00c7ff 388.5px,#00c7ff 400.5px)"></i>
<i style="left:451px;width:3px;background:linear-gradient(#8b0000 0.5px,#8b0000 151.5px,#8d0000 152.5px,#c10000 159.5px,#f20000 163.5px,#ff0200 164.5px,#ff7500 171.5px,#fffd00 182.5px,#8eff71 198.5px,#76ff89 202.5px,#59ffa6 208.5px,#45ffba 214.5px,#2bffd4 229.5px,#31ffce 245.5px,#2dffd2 294.5px,#25ffda 297.5px,#01fffe 303.5px,#00aeff 336.5px,#00aaff 342.5px,#00a9ff 352.5px,#00c7ff 362.5px,#00d0ff 367.5px,#00cfff 375.5px,#00c2ff 388.5px,#00c2ff 400.5px)"></i>
<i style="left:454px;width:3px;background:linear-gradient(#8b0000 0.5px,#8b0000 151.5px,#8d0000 152.5px,#ba0000 159.5px,#de0000 162.5px,#fb0000 164.5px,#ff0d00 165.5px,#ff7000 171.5px,#fffd00 182.5px,#8cff73 198.5px,#56ffa9 208.5px,#44ffbb 214.5px,#2bffd4 229.5px,#31ffce 245.5px,#2effd1 294.5px,#25ffda 297.5px,#00ffff 303.5px,#00adff 336.5px,#00a8ff 342.5px,#00a6ff 351.5px,#00a9ff 354.5px,#00c4ff 362.5px,#00cdff 367.5px,#00ccff 375.5px,#00bdff 388.5px,#00bcff 400.5px)"></i>
<i style="left:457px;width:3px;background:linear-gradient(#8b0000 0.5px,#8b0000 151.5px,#8c0000 152.5px,#b30000 159.5px,#bd0000 160.5px,#f60000 164.5px,#ff0700 165.5px,#ff5c00 170.5px,#ff8900 173.5px,#fffe00 182.5px,#89ff76 198.5px,#54ffab 208.5px,#42ffbd 214.5px,#2fffd0 225.5px,#2bffd4 230.5px,#30ffcf 245.5px,#2fffd0 294.5px,#24ffdb 297.5px,#00feff 303.5px,#00abff 336.5px,#00a6ff 342.5px,#00a6ff 354.5px,#00c2ff 362.5px,#00caff 367.5px,#00c9ff 375.5px,#00b7ff 389.5px,#00b7ff 400.5px)"></i>
<i style="left:460px;width:3px;background:linear-gradient(#8b0000 0.5px,#8b0000 152.5px,#ac0000 159.5px,#b60000 160.5px,#ff0100 165.5px,#ff5700 170.5px,#ff8500 173.5px,#ffff00 182.5px,#8eff71 197.5px,#51ffae 208.5px,#40ffbf 214.5px,#2fffd0 225.5px,#2bffd4 230.5px,#2fffd0 245.5px,#30ffcf 294.5px,#24ffdb 297.5px,#03fffc 302.5px,#00b2ff 332.5px,#00a4ff 342.5px,#00a2ff 354.5px,#00bcff 361.5px,#00c6ff 367.5px,#00c7ff 375.5px,#00b2ff 389.5px,#00b2ff 400.5px)"></i>
<i style="left:463px;width:3px;background:linear-gradient(#8b0000 0.5px,#8b0000 152.5px,#a50000 159.5px,#af0000 160.5px,#fb0000 165.5px,#ff0d00 166.5px,#ff8200 173.5px,#fff400 181.5px,#feff01 182.5px,#85ff7a 198.5px,#4effb1 208.5px,#3fffc0 214.5px,#2fffd0 224.5px,#2bffd4 230.5px,#30ffcf 294.5px,#29ffd6 296.5px,#02fffd 302.5px,#00b1ff 332.5px,#00a1ff 342.5px,#009fff 354.5px,#00bdff 362.5px,#00c5ff 374.5px,#00aeff 388.5px,#00adff 400.5px)"></i>
<i style="left:466px;width:3px;background:linear-gradient(#8b0000 0.5px,#8b0000 152.5px,#9e0000 159.5px,#a80000 160.5px,#f50000 165.5px,#ff0700 166.5px,#ff7f00 173.5px,#fff500 181.5px,#fdff02 182.5px,#83ff7c 198.5px,#4bffb4 208.5px,#2effd1 224.5px,#2bffd4 230.5px,#31ffce 294.5px,#29ffd6 296.5px,#01fffe 302.5px,#00b1ff 331.5px,#00a0ff 341.5px,#009bff 354.5px,#00baff 362.5px,#00c2ff 374.5px,#00a9ff 388.5px,#00a8ff 400.5px)"></i>
<i style="left:469px;width:3px;background:linear-gradient(#8b0000 0.5px,#8b0000 153.5px,#980000 159.5px,#a00000 160.5px,#f00000 165.5px,#ff0200 166.5px,#ff8c00 174.5px,#fff600 181.5px,#fdff02 182.5px,#87ff78 197.5px,#48ffb7 208.5px,#2dffd2 224.5px,#32ffcd 294.5px,#28ffd7 296.5px,#00ffff 302.5px,#00afff 331.5px,#009dff 342.5px,#0097ff 354.5px,#00b8ff 362.5px,#00c0ff 374.5px,#00a4ff 388.5px,#00a3ff 400.5px)"></i>
<i style="left:472px;width:3px;background:linear-gradient(#8b0000 0.5px,#8b0000 154.5px,#910000 159.5px,#990000 160.5px,#fb0000 166.5px,#ff0e00 167.5px,#ff8a00 174.5px,#fff600 181.5px,#fcff03 182.5px,#85ff7a 197.5px,#45ffba 208.5px,#2cffd3 224.5px,#32ffcd 294.5px,#2fffd0 295.5px,#05fffa 301.5px,#00feff 302.5px,#00adff 331.5px,#009bff 342.5px,#0094ff 354.5px,#00b5ff 362.5px,#00bdff 374.5px,#009fff 388.5px,#009dff 400.5px)"></i>
<i style="left:475px;width:3px;background:linear-gradient(#8b0000 0.5px,#8b0000 159.5px,#940000 160.5px,#f60000 166.5px,#ff0900 167.5px,#ff7700 173.5px,#ffd800 179.5px,#fff700 181.5px,#fbff04 182.5px,#83ff7c 197.5px,#43ffbc 208.5px,#2bffd4 224.5px,#33ffcc 294.5px,#2fffd0 295.5px,#04fffb 301.5px,#00feff 302.5px,#00acff 331.5px,#0099ff 342.5px,#0091ff 354.5px,#00b2ff 362.5px,#00baff 374.5px,#009aff 388.5px,#0099ff 400.5px)"></i>
<i style="left:478px;width:3px;background:linear-gradient(#8b0000 0.5px,#8b0000 159.5px,#920000 160.5px,#f20000 166.5px,#ff0400 167.5px,#ff8900 174.5px,#fffa00 181.5px,#f9ff06 182.5px,#81ff7e 197.5px,#41ffbe 208.5px,#29ffd6 224.5px,#32ffcd 294.5px,#01fffe 302.5px,#00adff 332.5px,#0099ff 342.5px,#0090ff 354.5px,#00aeff 362.5px,#00b4ff 374.5px,#0097ff 388.5px,#0096ff 400.5px)"></i>
<i style="left:481px;width:3px;background:linear-gradient(#8b0000 0.5px,#8b0000 159.5px,#910000 160.5px,#ba0000 163.5px,#ff0100 167.5px,#ff8b00 174.5px,#fffc00 181.5px,#f6ff09 182.5px,#7fff80 197.5px,#40ffbf 208.5px,#27ffd8 224.5px,#25ffda 229.5px,#2cffd3 237.5px,#31ffce 294.5px,#29ffd6 296.5px,#08fff7 301.5px,#00ffff 303.5px,#00c6ff 326.5px,#00a2ff 338.5px,#0095ff 346.5px,#008eff 354.5px,#00a9ff 362.5px,#00afff 374.5px,#0094ff 388.5px,#0093ff 400.5px)"></i>
<i style="left:484px;width:3px;background:linear-gradient(#8b0000 0.5px,#8b0000 159.5px,#910000 160.5px,#b50000 163.5px,#fc0000 167.5px,#ff1000 168.5px,#ff7b00 173.5px,#ffe200 179.5px,#fffe00 181.5px,#f4ff0b 182.5px,#7cff83 197.5px,#52ffad 204.5px,#3cffc3 209.5px,#24ffdb 224.5px,#22ffdd 229.5px,#2cffd3 237.5px,#31ffce 294.5px,#02fffd 303.5px,#00ccff 326.5px,#00b4ff 332.5px,#00a0ff 339.5px,#0095ff 346.5px,#008dff 354.5px,#00a4ff 362.5px,#00a9ff 374.5px,#0091ff 388.5px,#0090ff 400.5px)"></i>
<i style="left:487px;width:3px;background:linear-gradient(#8b0000 0.5px,#8b0000 159.5px,#900000 160.5px,#b00000 163.5px,#bf0000 164.5px,#f80000 167.5px,#ff0d00 168.5px,#ff7d00 173.5px,#ffe500 179.5px,#fdff02 181.5px,#d8ff27 185.5px,#90ff6f 194.5px,#73ff8c 198.5px,#50ffaf 204.5px,#3bffc4 209.5px,#21ffde 225.5px,#1fffe0 229.5px,#2bffd4 237.5px,#30ffcf 294.5px,#29ffd6 296.5px,#0cfff3 301.5px,#01fffe 304.5px,#00d2ff 326.5px,#00b8ff 332.5px,#00a4ff 338.5px,#0093ff 347.5px,#008cff 354.5px,#00a0ff 362.5px,#00a3ff 374.5px,#008eff 388.5px,#008dff 400.5px)"></i>
<i style="left:490px;width:3px;background:linear-gradient(#8b0000 0.5px,#8b0000 159.5px,#8f0000 160.5px,#ab0000 163.5px,#ba0000 164.5px,#f40000 167.5px,#ff0900 168.5px,#ff7f00 173.5px,#ffe900 179.5px,#fbff04 181.5px,#d5ff2a 185.5px,#8eff71 194.5px,#4effb1 204.5px,#3affc5 209.5px,#1fffe0 225.5px,#1dffe2 229.5px,#2bffd4 237.5px,#2fffd0 294.5px,#29ffd6 296.5px,#09fff6 302.5px,#01fffe 305.5px,#00d8ff 326.5px,#00bbff 332.5px,#00a5ff 338.5px,#0093ff 347.5px,#008bff 354.5px,#009bff 362.5px,#009eff 374.5px,#008bff 388.5px,#008aff 400.5px)"></i>
<i style="left:493px;width:3px;background:linear-gradient(#8b0000 0.5px,#8b0000 159.5px,#8e0000 160.5px,#a60000 163.5px,#b40000 164.5px,#f00000 167.5px,#ff0600 168.5px,#ff8000 173.5px,#ffec00 179.5px,#fff900 180.5px,#f8ff07 181.5px,#caff35 186.5px,#8bff74 194.5px,#4bffb4 204.5px,#39ffc6 209.5px,#1dffe2 225.5px,#1affe5 229.5px,#2bffd4 237.5px,#2effd1 294.5px,#25ffda 297.5px,#0bfff4 302.5px,#00ffff 307.5px,#00deff 326.5px,#00bfff 332.5px,#00a6ff 338.5px,#0092ff 347.5px,#008aff 355.5px,#0097ff 362.5px,#0098ff 374.5px,#0087ff 388.5px,#0087ff 400.5px)"></i>
<i style="left:496px;width:3px;background:linear-gradient(#8b0000 0.5px,#8b0000 159.5px,#8d0000 160.5px,#a10000 163.5px,#af0000 164.5px,#ed0000 167.5px,#ff0300 168.5px,#ff8200 173.5px,#fff000 179.5px,#fffc00 180.5px,#f6ff09 181.5px,#c7ff38 186.5px,#90ff6f 193.5px,#49ffb6 204.5px,#38ffc7 209.5px,#16ffe9 228.5px,#2bffd4 237.5px,#2effd1 294.5px,#26ffd9 297.5px,#0afff5 303.5px,#00feff 309.5px,#00e4ff 326.5px,#00c2ff 332.5px,#00a8ff 338.5px,#0092ff 347.5px,#0088ff 355.5px,#0092ff 362.5px,#0092ff 374.5px,#0084ff 388.5px,#0084ff 400.5px)"></i>
<i style="left:499px;width:3px;background:linear-gradient(#8b0000 0.5px,#8b0000 159.5px,#9c0000 163.5px,#a90000 164.5px,#fe0000 168.5px,#ff6c00 172.5px,#ff8300 173.5px,#ffb800 176.5px,#fff300 179.5px,#ffff00 180.5px,#f3ff0c 181.5px,#c5ff3a 186.5px,#8dff72 193.5px,#4bffb4 203.5px,#37ffc8 209.5px,#13ffec 228.5px,#2bffd4 237.5px,#2dffd2 294.5px,#26ffd9 297.5px,#0cfff3 303.5px,#00feff 311.5px,#00ebff 326.5px,#00c6ff 332.5px,#00a9ff 338.5px,#0091ff 347.5px,#0087ff 355.5px,#008dff 362.5px,#008dff 374.5px,#0081ff 388.5px,#0081ff 400.5px)"></i>
<i style="left:502px;width:3px;background:linear-gradient(#8b0000 0.5px,#8b0000 160.5px,#970000 163.5px,#a40000 164.5px,#fb0000 168.5px,#ff1600 169.5px,#ff6d00 172.5px,#ff8500 173.5px,#ffba00 176.5px,#fff700 179.5px,#fcff03 180.5px,#cbff34 185.5px,#8aff75 193.5px,#49ffb6 203.5px,#36ffc9 209.5px,#11ffee 228.5px,#2bffd4 237.5px,#2cffd3 294.5px,#27ffd8 297.5px,#0cfff3 304.5px,#00feff 314.5px,#00f1ff 326.5px,#00c9ff 332.5px,#00aaff 338.5px,#0091ff 347.5px,#0086ff 355.5px,#0087ff 374.5px,#007eff 388.5px,#007eff 400.5px)"></i>
<i style="left:505px;width:3px;background:linear-gradient(#8b0000 0.5px,#8b0000 160.5px,#920000 163.5px,#9e0000 164.5px,#f80000 168.5px,#ff1400 169.5px,#ff6e00 172.5px,#ff8600 173.5px,#ffbc00 176.5px,#fffa00 179.5px,#f9ff06 180.5px,#bfff40 186.5px,#87ff78 193.5px,#46ffb9 203.5px,#35ffca 209.5px,#0efff1 228.5px,#2bffd4 237.5px,#2cffd3 294.5px,#28ffd7 297.5px,#0efff1 304.5px,#00fdff 319.5px,#00f7ff 326.5px,#00cdff 332.5px,#00abff 338.5px,#0090ff 347.5px,#0083ff 356.5px,#007bff 400.5px)"></i>
<i style="left:508px;width:3px;background:linear-gradient(#8b0000 0.5px,#8b0000 161.5px,#8d0000 163.5px,#990000 164.5px,#f50000 168.5px,#ff1100 169.5px,#ff6f00 172.5px,#ff8800 173.5px,#ffbe00 176.5px,#fffe00 179.5px,#f6ff09 180.5px,#bcff43 186.5px,#85ff7a 193.5px,#44ffbb 203.5px,#0bfff4 228.5px,#2bffd4 237.5px,#2bffd4 294.5px,#28ffd7 297.5px,#10ffef 304.5px,#00fdff 326.5px,#00d0ff 332.5px,#00adff 338.5px,#0090ff 347.5px,#0080ff 357.5px,#0078ff 400.5px)"></i>
<i style="left:511px;width:3px;background:linear-gradient(#8b0000 0.5px,#8b0000 163.5px,#960000 164.5px,#f30000 168.5px,#ff0f00 169.5px,#ff6e00 172.5px,#ff8700 173.5px,#ffbf00 176.5px,#ffff00 179.5px,#bbff44 186.5px,#83ff7c 193.5px,#43ffbc 203.5px,#0afff5 228.5px,#29ffd6 237.5px,#2bffd4 296.5px,#12ffed 304.5px,#01fffe 326.5px,#00fbff 327.5px,#00d4ff 332.5px,#00afff 338.5px,#0091ff 347.5px,#007eff 359.5px,#0077ff 381.5px,#0077ff 400.5px)"></i>
<i style="left:514px;width:3px;background:linear-gradient(#8b0000 0.5px,#8b0000 163.5px,#950000 164.5px,#f10000 168.5px,#ff0e00 169.5px,#ff6c00 172.5px,#ff8500 173.5px,#ffbe00 176.5px,#ffff00 179.5px,#c3ff3c 185.5px,#89ff76 192.5px,#42ffbd 203.5px,#09fff6 228.5px,#26ffd9 237.5px,#2bffd4 296.5px,#14ffeb 304.5px,#01fffe 326.5px,#00aeff 339.5px,#0094ff 347.5px,#0081ff 356.5px,#0077ff 381.5px,#0076ff 400.5px)"></i>
<i style="left:517px;width:3px;background:linear-gradient(#8b0000 0.5px,#8b0000 163.5px,#940000 164.5px,#f00000 168.5px,#ff0c00 169.5px,#ff6a00 172.5px,#ff8300 173.5px,#ffbd00 176.5px,#ffff00 179.5px,#c2ff3d 185.5px,#88ff77 192.5px,#41ffbe 203.5px,#09fff6 228.5px,#23ffdc 237.5px,#23ffdc 256.5px,#2bffd4 262.5px,#2bffd4 296.5px,#16ffe9 304.5px,#01fffe 326.5px,#00fcff 327.5px,#00b2ff 339.5px,#0096ff 347.5px,#0082ff 356.5px,#007dff 360.5px,#0076ff 381.5px,#0075ff 400.5px)"></i>
<i style="left:520px;width:3px;background:linear-gradient(#8b0000 0.5px,#8b0000 163.5px,#930000 164.5px,#ef0000 168.5px,#ff0b00 169.5px,#ff6700 172.5px,#ff8100 173.5px,#ffbc00 176.5px,#ffff00 179.5px,#c1ff3e 185.5px,#8fff70 191.5px,#41ffbe 203.5px,#09fff6 228.5px,#20ffdf 237.5px,#20ffdf 256.5px,#2bffd4 262.5px,#2bffd4 296.5px,#19ffe6 304.5px,#15ffea 311.5px,#07fff8 317.5px,#01fffe 326.5px,#00fdff 327.5px,#00b6ff 339.5px,#0099ff 347.5px,#0080ff 357.5px,#0076ff 381.5px,#0074ff 400.5px)"></i>
<i style="left:523px;width:3px;background:linear-gradient(#8b0000 0.5px,#8b0000 163.5px,#920000 164.5px,#a50000 165.5px,#ee0000 168.5px,#ff0a00 169.5px,#ff6500 172.5px,#ff7f00 173.5px,#ffbb00 176.5px,#ffff00 179.5px,#c0ff3f 185.5px,#8dff72 191.5px,#45ffba 202.5px,#3dffc2 204.5px,#09fff6 228.5px,#1dffe2 237.5px,#1dffe2 256.5px,#2bffd4 262.5px,#2bffd4 296.5px,#1bffe4 304.5px,#18ffe7 311.5px,#08fff7 317.5px,#01fffe 326.5px,#00fdff 327.5px,#00b1ff 341.5px,#009bff 347.5px,#007cff 359.5px,#0074ff 400.5px)"></i>
<i style="left:526px;width:3px;background:linear-gradient(#8b0000 0.5px,#8b0000 163.5px,#910000 164.5px,#a30000 165.5px,#ec0000 168.5px,#ff0800 169.5px,#ff7d00 173.5px,#ffba00 176.5px,#ffff00 179.5px,#c0ff3f 185.5px,#8cff73 191.5px,#44ffbb 202.5px,#0cfff3 225.5px,#0afff5 229.5px,#1affe5 237.5px,#1affe5 256.5px,#2bffd4 262.5px,#2bffd4 296.5px,#1dffe2 304.5px,#1bffe4 311.5px,#08fff7 317.5px,#02fffd 326.5px,#00ecff 331.5px,#00c2ff 338.5px,#00b0ff 342.5px,#007cff 359.5px,#0073ff 400.5px)"></i>
<i style="left:529px;width:3px;background:linear-gradient(#8b0000 0.5px,#8b0000 163.5px,#900000 164.5px,#a10000 165.5px,#eb0000 168.5px,#ff0700 169.5px,#ff7b00 173.5px,#ffb900 176.5px,#ffff00 179.5px,#bfff40 185.5px,#8bff74 191.5px,#48ffb7 201.5px,#3cffc3 204.5px,#0cfff3 225.5px,#09fff6 229.5px,#17ffe8 237.5px,#17ffe8 256.5px,#2bffd4 262.5px,#2bffd4 296.5px,#1fffe0 304.5px,#1dffe2 311.5px,#08fff7 317.5px,#00ffff 327.5px,#00eaff 332.5px,#00b3ff 342.5px,#007bff 359.5px,#0072ff 400.5px)"></i>
<i style="left:532px;width:3px;background:linear-gradient(#8b0000 0.5px,#8b0000 163.5px,#8f0000 164.5px,#9f0000 165.5px,#ea0000 168.5px,#ff0500 169.5px,#ff7900 173.5px,#ffb800 176.5px,#ffff00 179.5px,#beff41 185.5px,#89ff76 191.5px,#47ffb8 201.5px,#3bffc4 204.5px,#0bfff4 225.5px,#09fff6 229.5px,#14ffeb 237.5px,#14ffeb 256.5px,#2bffd4 262.5px,#2bffd4 296.5px,#22ffdd 304.5px,#20ffdf 311.5px,#08fff7 317.5px,#00ffff 327.5px,#00eeff 332.5px,#00b6ff 342.5px,#007bff 359.5px,#0071ff 400.5px)"></i>
<i style="left:535px;width:3px;background:linear-gradient(#8b0000 0.5px,#8b0000 163.5px,#8e0000 164.5px,#9d0000 165.5px,#e90000 168.5px,#ff0400 169.5px,#ff7700 173.5px,#ffb700 176.5px,#ffff00 179.5px,#bdff42 185.5px,#88ff77 191.5px,#46ffb9 201.5px,#3bffc4 204.5px,#0afff5 225.5px,#09fff6 229.5px,#11ffee 237.5px,#11ffee 256.5px,#2bffd4 262.5px,#2bffd4 296.5px,#23ffdc 311.5px,#08fff7 317.5px,#01fffe 327.5px,#00f1ff 332.5px,#00b9ff 342.5px,#007bff 359.5px,#0071ff 400.5px)"></i>
<i style="left:538px;width:3px;background:linear-gradient(#8b0000 0.5px,#8b0000 163.5px,#8d0000 164.5px,#9c0000 165.5px,#e80000 168.5px,#ff0300 169.5px,#ff7500 173.5px,#ffb600 176.5px,#ffff00 179.5px,#bcff43 185.5px,#87ff78 191.5px,#45ffba 201.5px,#3bffc4 204.5px,#0afff5 225.5px,#0efff1 256.5px,#2bffd4 262.5px,#2bffd4 296.5px,#25ffda 311.5px,#08fff7 317.5px,#00ffff 328.5px,#00f5ff 332.5px,#00bcff 342.5px,#007aff 359.5px,#0070ff 400.5px)"></i>
<i style="left:541px;width:3px;background:linear-gradient(#8b0000 0.5px,#8b0000 163.5px,#8c0000 164.5px,#9a0000 165.5px,#ff0100 169.5px,#ff7300 173.5px,#ffcd00 177.5px,#ffff00 179.5px,#bbff44 185.5px,#85ff7a 191.5px,#44ffbb 201.5px,#09fff6 225.5px,#0bfff4 256.5px,#2bffd4 262.5px,#2bffd4 296.5px,#28ffd7 311.5px,#08fff7 317.5px,#00ffff 329.5px,#00f9ff 332.5px,#00bfff 342.5px,#0077ff 360.5px,#006fff 400.5px)"></i>
<i style="left:544px;width:3px;background:linear-gradient(#8b0000 0.5px,#8b0000 164.5px,#980000 165.5px,#ff0000 169.5px,#ff7100 173.5px,#ffcc00 177.5px,#ffff00 179.5px,#bbff44 185.5px,#84ff7b 191.5px,#43ffbc 201.5px,#09fff6 225.5px,#09fff6 256.5px,#2affd5 262.5px,#2affd5 311.5px,#09fff6 317.5px,#01fffe 331.5px,#00c2ff 342.5px,#0077ff 360.5px,#006eff 400.5px)"></i>
<i style="left:547px;width:3px;background:linear-gradient(#8b0000 0.5px,#8b0000 164.5px,#980000 165.5px,#fe0000 169.5px,#ff7000 173.5px,#ffcb00 177.5px,#fffe00 179.5px,#f4ff0b 180.5px,#bcff43 185.5px,#86ff79 191.5px,#45ffba 201.5px,#09fff6 225.5px,#09fff6 256.5px,#27ffd8 262.5px,#2bffd4 311.5px,#0cfff3 317.5px,#01fffe 332.5px,#00c7ff 342.5px,#007aff 360.5px,#006fff 379.5px,#006bff 400.5px)"></i>
<i style="left:550px;width:3px;background:linear-gradient(#8b0000 0.5px,#8b0000 164.5px,#980000 165.5px,#fd0000 169.5px,#ff8800 174.5px,#ffca00 177.5px,#fffd00 179.5px,#f5ff0a 180.5px,#bcff43 185.5px,#87ff78 191.5px,#46ffb9 201.5px,#39ffc6 205.5px,#09fff6 225.5px,#09fff6 256.5px,#24ffdb 262.5px,#24ffdb 273.5px,#2bffd4 279.5px,#2cffd3 311.5px,#10ffef 317.5px,#0bfff4 327.5px,#03fffc 332.5px,#00fdff 333.5px,#00ccff 342.5px,#007cff 360.5px,#006cff 379.5px,#0068ff 400.5px)"></i>
<i style="left:553px;width:3px;background:linear-gradient(#8b0000 0.5px,#8b0000 164.5px,#980000 165.5px,#fc0000 169.5px,#ff8700 174.5px,#ffc900 177.5px,#fffc00 179.5px,#f5ff0a 180.5px,#bdff42 185.5px,#88ff77 191.5px,#48ffb7 201.5px,#39ffc6 205.5px,#0afff5 225.5px,#09fff6 256.5px,#21ffde 262.5px,#21ffde 273.5px,#2bffd4 279.5px,#2cffd3 311.5px,#13ffec 317.5px,#0ffff0 327.5px,#0afff5 331.5px,#01fffe 333.5px,#00d1ff 342.5px,#007fff 360.5px,#0076ff 365.5px,#0069ff 379.5px,#0065ff 400.5px)"></i>
<i style="left:556px;width:3px;background:linear-gradient(#8b0000 0.5px,#8b0000 164.5px,#970000 165.5px,#fb0000 169.5px,#ff1700 170.5px,#ff8600 174.5px,#ffc700 177.5px,#fffa00 179.5px,#f6ff09 180.5px,#beff41 185.5px,#8aff75 191.5px,#49ffb6 201.5px,#3affc5 205.5px,#0afff5 225.5px,#09fff6 256.5px,#1effe1 262.5px,#1effe1 273.5px,#2bffd4 279.5px,#2dffd2 311.5px,#17ffe8 317.5px,#13ffec 327.5px,#0dfff2 331.5px,#00feff 334.5px,#0085ff 359.5px,#0078ff 364.5px,#0065ff 380.5px,#0062ff 400.5px)"></i>
<i style="left:559px;width:3px;background:linear-gradient(#8b0000 0.5px,#8b0000 164.5px,#970000 165.5px,#fa0000 169.5px,#ff1600 170.5px,#ff8500 174.5px,#ffc600 177.5px,#fff900 179.5px,#f6ff09 180.5px,#bfff40 185.5px,#8bff74 191.5px,#4affb5 201.5px,#3bffc4 205.5px,#0afff5 225.5px,#09fff6 256.5px,#1bffe4 262.5px,#1bffe4 273.5px,#2bffd4 279.5px,#2dffd2 311.5px,#1affe5 317.5px,#17ffe8 327.5px,#10ffef 331.5px,#03fffc 334.5px,#0088ff 359.5px,#0078ff 364.5px,#0062ff 380.5px,#0060ff 400.5px)"></i>
<i style="left:562px;width:3px;background:linear-gradient(#8b0000 0.5px,#8b0000 164.5px,#970000 165.5px,#f90000 169.5px,#ff1500 170.5px,#ff8500 174.5px,#ffc500 177.5px,#fff800 179.5px,#f7ff08 180.5px,#c0ff3f 185.5px,#8cff73 191.5px,#4cffb3 201.5px,#3bffc4 205.5px,#09fff6 226.5px,#09fff6 256.5px,#19ffe6 262.5px,#19ffe6 273.5px,#2bffd4 279.5px,#2effd1 311.5px,#1effe1 317.5px,#1bffe4 327.5px,#13ffec 331.5px,#02fffd 335.5px,#00acff 353.5px,#008bff 359.5px,#0076ff 365.5px,#005fff 380.5px,#005dff 400.5px)"></i>
<i style="left:565px;width:3px;background:linear-gradient(#8b0000 0.5px,#8b0000 164.5px,#970000 165.5px,#f80000 169.5px,#ff1400 170.5px,#ff8400 174.5px,#ffc400 177.5px,#fff700 179.5px,#f7ff08 180.5px,#c1ff3e 185.5px,#8eff71 191.5px,#78ff87 194.5px,#48ffb7 202.5px,#3cffc3 205.5px,#09fff6 226.5px,#09fff6 256.5px,#16ffe9 262.5px,#16ffe9 273.5px,#2bffd4 279.5px,#2effd1 311.5px,#22ffdd 317.5px,#1fffe0 327.5px,#16ffe9 331.5px,#01fffe 336.5px,#00b0ff 353.5px,#0089ff 360.5px,#0076ff 365.5px,#005bff 380.5px,#005aff 400.5px)"></i>
<i style="left:568px;width:3px;background:linear-gradient(#8b0000 0.5px,#8b0000 164.5px,#970000 165.5px,#f70000 169.5px,#ff1200 170.5px,#ff8300 174.5px,#ffc300 177.5px,#fff600 179.5px,#f8ff07 180.5px,#c2ff3d 185.5px,#8fff70 191.5px,#79ff86 194.5px,#4affb5 202.5px,#3cffc3 205.5px,#09fff6 226.5px,#09fff6 256.5px,#13ffec 262.5px,#13ffec 273.5px,#2bffd4 279.5px,#2fffd0 311.5px,#25ffda 317.5px,#23ffdc 327.5px,#16ffe9 332.5px,#01fffe 337.5px,#00ebff 342.5px,#00b4ff 353.5px,#008cff 360.5px,#0076ff 365.5px,#0058ff 380.5px,#0057ff 400.5px)"></i>
<i style="left:571px;width:3px;background:linear-gradient(#8b0000 0.5px,#8b0000 164.5px,#970000 165.5px,#f60000 169.5px,#ff1100 170.5px,#ff8200 174.5px,#ffc200 177.5px,#fff500 179.5px,#f8ff07 180.5px,#c2ff3d 185.5px,#88ff77 192.5px,#4bffb4 202.5px,#3dffc2 205.5px,#09fff6 226.5px,#09fff6 256.5px,#10ffef 262.5px,#10ffef 273.5px,#2bffd4 279.5px,#2fffd0 311.5px,#29ffd6 317.5px,#27ffd8 327.5px,#01fffe 338.5px,#00f0ff 342.5px,#0076ff 365.5px,#0055ff 380.5px,#0054ff 400.5px)"></i>
<i style="left:574px;width:3px;background:linear-gradient(#8b0000 0.5px,#8b0000 164.5px,#970000 165.5px,#f50000 169.5px,#ff1000 170.5px,#ff8100 174.5px,#ffc100 177.5px,#fff400 179.5px,#f9ff06 180.5px,#baff45 186.5px,#82ff7d 193.5px,#42ffbd 204.5px,#0afff5 226.5px,#09fff6 256.5px,#0dfff2 273.5px,#2bffd4 279.5px,#30ffcf 311.5px,#2cffd3 327.5px,#02fffd 339.5px,#00f5ff 342.5px,#00bcff 353.5px,#0076ff 365.5px,#0051ff 380.5px,#0051ff 400.5px)"></i>
<i style="left:577px;width:3px;background:linear-gradient(#8b0000 0.5px,#8b0000 164.5px,#970000 165.5px,#f40000 169.5px,#ff0f00 170.5px,#ff8000 174.5px,#ffc000 177.5px,#fff300 179.5px,#f9ff06 180.5px,#bbff44 186.5px,#83ff7c 193.5px,#42ffbd 204.5px,#09fff6 227.5px,#0afff5 273.5px,#2bffd4 279.5px,#31ffce 326.5px,#00feff 341.5px,#00c0ff 353.5px,#0076ff 365.5px,#004eff 380.5px,#004eff 400.5px)"></i>
<i style="left:580px;width:3px;background:linear-gradient(#8b0000 0.5px,#8b0000 164.5px,#960000 165.5px,#ee0000 169.5px,#ff0800 170.5px,#ff7900 174.5px,#ffb900 177.5px,#ffed00 179.5px,#fefe01 180.5px,#f4ff0b 181.5px,#beff41 186.5px,#87ff78 193.5px,#45ffba 204.5px,#0afff5 227.5px,#09fff6 273.5px,#29ffd6 279.5px,#35ffca 326.5px,#02fffd 342.5px,#00c5ff 353.5px,#0077ff 365.5px,#004cff 380.5px,#004aff 400.5px)"></i>
<i style="left:583px;width:3px;background:linear-gradient(#8b0000 0.5px,#8b0000 164.5px,#950000 165.5px,#fc0000 170.5px,#ff6c00 174.5px,#ffaf00 177.5px,#ffe300 179.5px,#fff500 180.5px,#fdfe02 181.5px,#f2ff0d 182.5px,#c4ff3b 186.5px,#8cff73 193.5px,#49ffb6 204.5px,#29ffd6 215.5px,#0cfff3 227.5px,#09fff6 273.5px,#26ffd9 279.5px,#38ffc7 326.5px,#14ffeb 339.5px,#03fffc 343.5px,#00cbff 353.5px,#007fff 364.5px,#006dff 369.5px,#004cff 380.5px,#0046ff 400.5px)"></i>
<i style="left:586px;width:3px;background:linear-gradient(#8b0000 0.5px,#8b0000 164.5px,#940000 165.5px,#f20000 170.5px,#ff0d00 171.5px,#ff6000 174.5px,#ffa400 177.5px,#ffd900 179.5px,#ffeb00 180.5px,#fbff04 182.5px,#caff35 186.5px,#92ff6d 193.5px,#4effb1 204.5px,#2bffd4 215.5px,#0efff1 227.5px,#09fff6 238.5px,#09fff6 273.5px,#23ffdc 279.5px,#24ffdb 283.5px,#2cffd3 287.5px,#31ffce 314.5px,#3affc5 319.5px,#3bffc4 326.5px,#1bffe4 339.5px,#04fffb 344.5px,#00fdff 345.5px,#00d6ff 352.5px,#0083ff 364.5px,#006eff 369.5px,#004cff 380.5px,#0041ff 400.5px)"></i>
<i style="left:589px;width:3px;background:linear-gradient(#8b0000 0.5px,#8b0000 164.5px,#920000 165.5px,#d30000 169.5px,#e80000 170.5px,#fe0200 171.5px,#ff5400 174.5px,#ff9a00 177.5px,#ffcf00 179.5px,#ffe100 180.5px,#fffb00 182.5px,#f6ff09 183.5px,#cfff30 186.5px,#97ff68 193.5px,#52ffad 204.5px,#2dffd2 215.5px,#10ffef 227.5px,#09fff6 238.5px,#09fff6 273.5px,#1effe1 278.5px,#21ffde 283.5px,#2cffd3 287.5px,#31ffce 314.5px,#3dffc2 319.5px,#3effc1 326.5px,#23ffdc 339.5px,#01fefe 346.5px,#00dcff 352.5px,#0086ff 364.5px,#0057ff 376.5px,#004bff 380.5px,#0043ff 388.5px,#003dff 400.5px)"></i>
<i style="left:592px;width:3px;background:linear-gradient(#8b0000 0.5px,#8b0000 164.5px,#910000 165.5px,#ca0000 169.5px,#f60000 171.5px,#ff1100 172.5px,#ff4800 174.5px,#ff8f00 177.5px,#ffc500 179.5px,#ffd700 180.5px,#fdff02 183.5px,#efff10 184.5px,#d5ff2a 186.5px,#9dff62 193.5px,#56ffa9 204.5px,#2fffd0 215.5px,#13ffec 227.5px,#09fff6 238.5px,#09fff6 273.5px,#1bffe4 278.5px,#1dffe2 283.5px,#2bffd4 287.5px,#32ffcd 314.5px,#40ffbf 319.5px,#42ffbd 326.5px,#2affd5 339.5px,#01fefe 347.5px,#00e2ff 352.5px,#0089ff 364.5px,#0057ff 376.5px,#004bff 380.5px,#0040ff 388.5px,#0039ff 400.5px)"></i>
<i style="left:595px;width:3px;background:linear-gradient(#8b0000 0.5px,#8b0000 164.5px,#900000 165.5px,#c10000 169.5px,#d30000 170.5px,#ec0000 171.5px,#ff0600 172.5px,#ffbb00 179.5px,#fff800 183.5px,#f6ff09 184.5px,#daff25 186.5px,#a2ff5d 193.5px,#6bff94 201.5px,#56ffa9 205.5px,#32ffcd 215.5px,#17ffe8 226.5px,#09fff6 237.5px,#09fff6 273.5px,#1affe5 279.5px,#1affe5 283.5px,#2bffd4 287.5px,#32ffcd 314.5px,#43ffbc 319.5px,#45ffba 326.5px,#32ffcd 339.5px,#02fffd 348.5px,#00e8ff 352.5px,#00afff 359.5px,#008cff 364.5px,#0057ff 376.5px,#004bff 380.5px,#003dff 388.5px,#0034ff 400.5px)"></i>
<i style="left:598px;width:3px;background:linear-gradient(#8b0000 0.5px,#8b0000 164.5px,#8f0000 165.5px,#b80000 169.5px,#c90000 170.5px,#fa0000 172.5px,#ff1500 173.5px,#ffb100 179.5px,#fdff02 184.5px,#e0ff1f 186.5px,#a8ff57 193.5px,#6fff90 201.5px,#5effa1 204.5px,#34ffcb 215.5px,#19ffe6 226.5px,#09fff6 237.5px,#09fff6 273.5px,#17ffe8 279.5px,#17ffe8 283.5px,#2bffd4 287.5px,#32ffcd 314.5px,#46ffb9 319.5px,#48ffb7 326.5px,#39ffc6 339.5px,#02fffd 349.5px,#00eeff 352.5px,#00b3ff 359.5px,#008fff 364.5px,#0075ff 369.5px,#0057ff 376.5px,#004aff 380.5px,#003aff 388.5px,#0030ff 400.5px)"></i>
<i style="left:601px;width:3px;background:linear-gradient(#8b0000 0.5px,#8b0000 164.5px,#8e0000 165.5px,#af0000 169.5px,#bf0000 170.5px,#ef0000 172.5px,#ff0900 173.5px,#ffa700 179.5px,#fffa00 184.5px,#f2ff0d 185.5px,#e5ff1a 186.5px,#a6ff59 194.5px,#73ff8c 201.5px,#5effa1 205.5px,#36ffc9 215.5px,#1bffe4 226.5px,#09fff6 237.5px,#09fff6 273.5px,#14ffeb 279.5px,#14ffeb 283.5px,#2bffd4 287.5px,#32ffcd 314.5px,#49ffb6 319.5px,#4bffb4 326.5px,#40ffbf 339.5px,#02fffd 350.5px,#00f4ff 352.5px,#00b6ff 359.5px,#0093ff 364.5px,#0076ff 369.5px,#0057ff 376.5px,#0037ff 388.5px,#002bff 400.5px)"></i>
<i style="left:604px;width:3px;background:linear-gradient(#8b0000 0.5px,#8b0000 164.5px,#8c0000 165.5px,#a60000 169.5px,#b50000 170.5px,#fc0000 173.5px,#ff3100 175.5px,#ff9d00 179.5px,#fff400 184.5px,#f8ff07 185.5px,#ebff14 186.5px,#abff54 194.5px,#77ff88 201.5px,#62ff9d 205.5px,#38ffc7 215.5px,#1dffe2 226.5px,#09fff6 237.5px,#09fff6 273.5px,#11ffee 279.5px,#11ffee 283.5px,#2bffd4 287.5px,#32ffcd 314.5px,#4cffb3 319.5px,#4fffb0 326.5px,#48ffb7 339.5px,#02fffd 351.5px,#00faff 352.5px,#00baff 359.5px,#0096ff 364.5px,#0078ff 369.5px,#0057ff 376.5px,#0035ff 388.5px,#0027ff 400.5px)"></i>
<i style="left:607px;width:3px;background:linear-gradient(#8b0000 0.5px,#8b0000 165.5px,#9c0000 169.5px,#aa0000 170.5px,#f10000 173.5px,#ff0b00 174.5px,#ff9300 179.5px,#feff01 185.5px,#f0ff0f 186.5px,#7bff84 201.5px,#66ff99 205.5px,#3affc5 215.5px,#09fff6 237.5px,#09fff6 273.5px,#0efff1 283.5px,#2bffd4 287.5px,#32ffcd 314.5px,#4fffb0 319.5px,#52ffad 327.5px,#4cffb3 340.5px,#01fffe 352.5px,#00bdff 359.5px,#0099ff 364.5px,#007aff 369.5px,#0057ff 376.5px,#0032ff 388.5px,#0023ff 400.5px)"></i>
<i style="left:610px;width:3px;background:linear-gradient(#8b0000 0.5px,#8b0000 165.5px,#930000 169.5px,#a00000 170.5px,#fd0100 174.5px,#ff8900 179.5px,#ffbe00 182.5px,#fffa00 185.5px,#f6ff09 186.5px,#80ff7f 201.5px,#40ffbf 214.5px,#0afff5 237.5px,#0bfff4 283.5px,#2bffd4 287.5px,#33ffcc 314.5px,#52ffad 319.5px,#56ffa9 339.5px,#4dffb2 341.5px,#06fff9 352.5px,#00fcff 353.5px,#00c1ff 359.5px,#009cff 364.5px,#007bff 369.5px,#0058ff 376.5px,#002fff 388.5px,#001eff 400.5px)"></i>
<i style="left:613px;width:3px;background:linear-gradient(#8b0000 0.5px,#8c0000 169.5px,#970000 170.5px,#f30000 174.5px,#ff0e00 175.5px,#ff7f00 179.5px,#ffb600 182.5px,#fff400 185.5px,#fbff04 186.5px,#84ff7b 201.5px,#42ffbd 214.5px,#09fff6 238.5px,#09fff6 283.5px,#2bffd4 287.5px,#33ffcc 314.5px,#55ffaa 319.5px,#5dffa2 339.5px,#5affa5 340.5px,#14ffeb 351.5px,#01fffe 353.5px,#00bbff 360.5px,#0083ff 368.5px,#0057ff 376.5px,#002cff 388.5px,#0019ff 400.5px)"></i>
<i style="left:616px;width:3px;background:linear-gradient(#8b0000 0.5px,#8b0000 169.5px,#950000 170.5px,#eb0000 174.5px,#ff0600 175.5px,#ff7700 179.5px,#ffed00 185.5px,#fffc00 186.5px,#f9ff06 187.5px,#87ff78 201.5px,#44ffbb 214.5px,#0cfff3 237.5px,#09fff6 257.5px,#0cfff3 283.5px,#2cffd3 287.5px,#35ffca 314.5px,#55ffaa 319.5px,#5dffa2 339.5px,#42ffbd 344.5px,#14ffeb 351.5px,#02fffd 353.5px,#00bcff 360.5px,#0083ff 368.5px,#0055ff 376.5px,#0028ff 388.5px,#0011ff 400.5px)"></i>
<i style="left:619px;width:3px;background:linear-gradient(#8b0000 0.5px,#8b0000 169.5px,#940000 170.5px,#ce0000 173.5px,#fd0000 175.5px,#ff7000 179.5px,#ffe700 185.5px,#fefe01 187.5px,#f4ff0b 188.5px,#e1ff1e 190.5px,#84ff7b 202.5px,#47ffb8 214.5px,#35ffca 220.5px,#0efff1 237.5px,#09fff6 257.5px,#0afff5 276.5px,#0ffff0 283.5px,#2effd1 287.5px,#38ffc7 314.5px,#55ffaa 319.5px,#5cffa3 339.5px,#44ffbb 344.5px,#14ffeb 351.5px,#02fffd 353.5px,#00bcff 360.5px,#0083ff 368.5px,#0053ff 376.5px,#0022ff 389.5px,#0008ff 400.5px)"></i>
<i style="left:622px;width:3px;background:linear-gradient(#8b0000 0.5px,#8b0000 169.5px,#930000 170.5px,#c70000 173.5px,#f50000 175.5px,#ff1300 176.5px,#ff6800 179.5px,#ffe000 185.5px,#fffa00 187.5px,#f9ff06 188.5px,#e4ff1b 190.5px,#87ff78 202.5px,#49ffb6 214.5px,#36ffc9 220.5px,#10ffef 237.5px,#09fff6 256.5px,#0bfff4 277.5px,#12ffed 283.5px,#2fffd0 287.5px,#3affc5 314.5px,#55ffaa 319.5px,#5bffa4 339.5px,#45ffba 344.5px,#14ffeb 351.5px,#02fffd 353.5px,#00bcff 360.5px,#0083ff 368.5px,#0051ff 376.5px,#001eff 389.5px,#0001fe 400.5px)"></i>
<i style="left:625px;width:3px;background:linear-gradient(#8b0000 0.5px,#8b0000 169.5px,#920000 170.5px,#c00000 173.5px,#ee0000 175.5px,#ff0b00 176.5px,#ff6000 179.5px,#ffb300 183.5px,#ffd900 185.5px,#fdff02 188.5px,#e7ff18 190.5px,#8bff74 202.5px,#4bffb4 214.5px,#37ffc8 220.5px,#13ffec 237.5px,#09fff6 256.5px,#0bfff4 276.5px,#15ffea 283.5px,#31ffce 287.5px,#3dffc2 314.5px,#54ffab 319.5px,#5affa5 339.5px,#46ffb9 344.5px,#03fffc 353.5px,#00bcff 360.5px,#004fff 376.5px,#0005ff 395.5px,#0000f6 400.5px)"></i>
<i style="left:628px;width:3px;background:linear-gradient(#8b0000 0.5px,#8b0000 169.5px,#910000 170.5px,#b80000 173.5px,#cc0000 174.5px,#e60000 175.5px,#ff0300 176.5px,#ff5800 179.5px,#ff9900 182.5px,#ffd300 185.5px,#fffc00 188.5px,#f4ff0b 189.5px,#8eff71 202.5px,#6fff90 207.5px,#4dffb2 214.5px,#38ffc7 220.5px,#15ffea 237.5px,#09fff6 256.5px,#0cfff3 276.5px,#18ffe7 283.5px,#32ffcd 287.5px,#3fffc0 314.5px,#54ffab 319.5px,#5affa5 339.5px,#48ffb7 344.5px,#03fffc 353.5px,#00bcff 360.5px,#0048ff 377.5px,#0002ff 394.5px,#0000ed 400.5px)"></i>
<i style="left:631px;width:3px;background:linear-gradient(#8b0000 0.5px,#8b0000 169.5px,#900000 170.5px,#b10000 173.5px,#c40000 174.5px,#fa0000 176.5px,#ff1900 177.5px,#ff5100 179.5px,#ffa700 183.5px,#ffdb00 186.5px,#fff800 188.5px,#f7ff08 189.5px,#ecff13 190.5px,#91ff6e 202.5px,#71ff8e 207.5px,#4fffb0 214.5px,#39ffc6 220.5px,#17ffe8 237.5px,#09fff6 256.5px,#0dfff2 276.5px,#1bffe4 283.5px,#34ffcb 287.5px,#42ffbd 314.5px,#54ffab 319.5px,#59ffa6 339.5px,#49ffb6 344.5px,#03fffc 353.5px,#00bcff 360.5px,#0045ff 377.5px,#0001fe 393.5px,#0000e4 400.5px)"></i>
<i style="left:634px;width:3px;background:linear-gradient(#8b0000 0.5px,#8b0000 169.5px,#8f0000 170.5px,#aa0000 173.5px,#bc0000 174.5px,#f30000 176.5px,#ff1200 177.5px,#ff4900 179.5px,#ffa100 183.5px,#ffc500 185.5px,#fff300 188.5px,#fbff04 189.5px,#efff10 190.5px,#79ff86 206.5px,#51ffae 214.5px,#3affc5 220.5px,#19ffe6 237.5px,#09fff6 256.5px,#0efff1 276.5px,#1fffe0 283.5px,#35ffca 287.5px,#44ffbb 314.5px,#54ffab 319.5px,#58ffa7 339.5px,#4bffb4 344.5px,#03fffc 353.5px,#00f9ff 354.5px,#00bcff 360.5px,#0043ff 377.5px,#0000fd 392.5px,#0000e9 396.5px,#0000dc 400.5px)"></i>
<i style="left:637px;width:3px;background:linear-gradient(#8b0000 0.5px,#8b0000 169.5px,#8d0000 170.5px,#a30000 173.5px,#b50000 174.5px,#ec0000 176.5px,#ff0a00 177.5px,#ff4100 179.5px,#ff9b00 183.5px,#feff01 189.5px,#f2ff0d 190.5px,#7cff83 206.5px,#53ffac 214.5px,#3bffc4 220.5px,#1bffe4 237.5px,#09fff6 256.5px,#0efff1 276.5px,#22ffdd 283.5px,#37ffc8 287.5px,#47ffb8 314.5px,#55ffaa 321.5px,#57ffa8 339.5px,#4cffb3 344.5px,#04fffb 353.5px,#00f9ff 354.5px,#00bcff 360.5px,#0041ff 377.5px,#0000fe 391.5px,#0000e2 396.5px,#0000d3 400.5px)"></i>
<i style="left:640px;width:3px;background:linear-gradient(#8b0000 0.5px,#8b0000 169.5px,#8c0000 170.5px,#9c0000 173.5px,#ad0000 174.5px,#e50000 176.5px,#ff0300 177.5px,#ff3900 179.5px,#ff9600 183.5px,#fffd00 189.5px,#f5ff0a 190.5px,#7eff81 206.5px,#51ffae 215.5px,#3cffc3 220.5px,#1dffe2 237.5px,#09fff6 256.5px,#0ffff0 276.5px,#25ffda 283.5px,#38ffc7 287.5px,#49ffb6 314.5px,#55ffaa 321.5px,#57ffa8 339.5px,#4dffb2 344.5px,#04fffb 353.5px,#00f9ff 354.5px,#00bcff 360.5px,#003fff 377.5px,#0000fe 390.5px,#0000da 396.5px,#0000ca 400.5px)"></i>
<i style="left:643px;width:3px;background:linear-gradient(#8b0000 0.5px,#8b0000 170.5px,#950000 173.5px,#a50000 174.5px,#fb0000 177.5px,#ff1800 178.5px,#ff7b00 182.5px,#ff9000 183.5px,#ffd200 187.5px,#fff900 189.5px,#f7ff08 190.5px,#80ff7f 206.5px,#53ffac 215.5px,#3dffc2 220.5px,#20ffdf 237.5px,#09fff6 256.5px,#10ffef 276.5px,#3affc5 287.5px,#4cffb3 314.5px,#55ffaa 321.5px,#56ffa9 339.5px,#53ffac 343.5px,#4fffb0 344.5px,#04fffb 353.5px,#00f9ff 354.5px,#00bcff 360.5px,#0083ff 368.5px,#003cff 377.5px,#0002ff 389.5px,#0000d2 396.5px,#0000c1 400.5px)"></i>
<i style="left:646px;width:3px;background:linear-gradient(#8b0000 0.5px,#8c0000 171.5px,#8e0000 173.5px,#9d0000 174.5px,#f40000 177.5px,#ff1000 178.5px,#ff7500 182.5px,#ff8a00 183.5px,#ffba00 186.5px,#fff600 189.5px,#faff05 190.5px,#7cff83 207.5px,#42ffbd 219.5px,#22ffdd 237.5px,#09fff6 256.5px,#10ffef 276.5px,#3bffc4 287.5px,#55ffaa 321.5px,#55ffaa 340.5px,#54ffab 343.5px,#50ffaf 344.5px,#04fffb 353.5px,#00faff 354.5px,#00bcff 360.5px,#0083ff 368.5px,#003aff 377.5px,#0000fd 389.5px,#0000cb 396.5px,#0000b9 400.5px)"></i>
<i style="left:649px;width:3px;background:linear-gradient(#8b0000 0.5px,#8b0000 173.5px,#990000 174.5px,#ef0000 177.5px,#ff0b00 178.5px,#ff7100 182.5px,#ff8600 183.5px,#ffb600 186.5px,#fff300 189.5px,#fdff02 190.5px,#7eff81 207.5px,#43ffbc 219.5px,#25ffda 237.5px,#0cfff3 257.5px,#14ffeb 276.5px,#3dffc2 287.5px,#55ffaa 321.5px,#55ffaa 343.5px,#51ffae 344.5px,#05fffa 353.5px,#00faff 354.5px,#00bdff 360.5px,#0083ff 368.5px,#003aff 377.5px,#0003ff 388.5px,#0000fb 389.5px,#0000c5 396.5px,#0000b2 400.5px)"></i>
<i style="left:652px;width:3px;background:linear-gradient(#8b0000 0.5px,#8b0000 173.5px,#980000 174.5px,#ec0000 177.5px,#ff0800 178.5px,#ff6e00 182.5px,#ff8300 183.5px,#ffb500 186.5px,#fff000 189.5px,#ffff00 190.5px,#f7ff08 191.5px,#7fff80 207.5px,#46ffb9 219.5px,#3bffc4 224.5px,#11ffee 257.5px,#1affe5 276.5px,#40ffbf 287.5px,#56ffa9 321.5px,#56ffa9 343.5px,#4affb5 345.5px,#06fff9 353.5px,#00fbff 354.5px,#00beff 360.5px,#0084ff 368.5px,#003bff 377.5px,#0003ff 388.5px,#0000fb 389.5px,#0000c2 396.5px,#0000ae 400.5px)"></i>
<i style="left:655px;width:3px;background:linear-gradient(#8b0000 0.5px,#8b0000 173.5px,#960000 174.5px,#e90000 177.5px,#ff0400 178.5px,#ff8000 183.5px,#ffb300 186.5px,#ffee00 189.5px,#fffd00 190.5px,#f8ff07 191.5px,#81ff7e 207.5px,#48ffb7 219.5px,#3dffc2 224.5px,#16ffe9 257.5px,#1fffe0 276.5px,#43ffbc 287.5px,#57ffa8 321.5px,#57ffa8 343.5px,#4cffb3 345.5px,#06fff9 353.5px,#00fcff 354.5px,#00bfff 360.5px,#0085ff 368.5px,#0043ff 376.5px,#0003ff 388.5px,#0000fb 389.5px,#0000b7 397.5px,#0000a9 400.5px)"></i>
<i style="left:658px;width:3px;background:linear-gradient(#8b0000 0.5px,#8b0000 173.5px,#950000 174.5px,#ff0100 178.5px,#ff7d00 183.5px,#ffeb00 189.5px,#fffa00 190.5px,#faff05 191.5px,#83ff7c 207.5px,#4affb5 219.5px,#3effc1 224.5px,#1bffe4 257.5px,#25ffda 276.5px,#46ffb9 287.5px,#57ffa8 321.5px,#58ffa7 343.5px,#4dffb2 345.5px,#07fff8 353.5px,#00fdff 354.5px,#00c1ff 360.5px,#0086ff 368.5px,#0044ff 376.5px,#0003ff 388.5px,#0000fa 389.5px,#0000b3 397.5px,#0000a4 400.5px)"></i>
<i style="left:661px;width:3px;background:linear-gradient(#8b0000 0.5px,#8b0000 173.5px,#940000 174.5px,#fd0000 178.5px,#ff6400 182.5px,#ff8e00 184.5px,#ffe900 189.5px,#fff800 190.5px,#fcff03 191.5px,#84ff7b 207.5px,#4dffb2 219.5px,#40ffbf 224.5px,#21ffde 256.5px,#21ffde 261.5px,#2bffd4 276.5px,#49ffb6 287.5px,#58ffa7 321.5px,#58ffa7 343.5px,#4fffb0 345.5px,#08fff7 353.5px,#00feff 354.5px,#00c2ff 360.5px,#0046ff 376.5px,#0003ff 388.5px,#0000fa 389.5px,#0000af 397.5px,#0000a0 400.5px)"></i>
<i style="left:664px;width:3px;background:linear-gradient(#8b0000 0.5px,#8b0000 173.5px,#930000 174.5px,#fa0000 178.5px,#ff1400 179.5px,#ff6000 182.5px,#ff8c00 184.5px,#ffe600 189.5px,#fdff02 191.5px,#86ff79 207.5px,#4fffb0 219.5px,#42ffbd 224.5px,#26ffd9 256.5px,#26ffd9 261.5px,#30ffcf 276.5px,#4cffb3 287.5px,#59ffa6 321.5px,#59ffa6 343.5px,#50ffaf 345.5px,#00feff 354.5px,#00c4ff 360.5px,#0047ff 376.5px,#0003ff 388.5px,#0000fa 389.5px,#0000a3 398.5px,#00009b 400.5px)"></i>
<i style="left:667px;width:3px;background:linear-gradient(#8b0000 0.5px,#8b0000 173.5px,#910000 174.5px,#f70000 178.5px,#ff1100 179.5px,#ff5d00 182.5px,#ff8a00 184.5px,#fff300 190.5px,#ffff00 191.5px,#f5ff0a 192.5px,#b8ff47 200.5px,#7cff83 209.5px,#51ffae 219.5px,#44ffbb 224.5px,#2bffd4 256.5px,#2bffd4 261.5px,#36ffc9 276.5px,#4fffb0 287.5px,#5affa5 321.5px,#5affa5 343.5px,#52ffad 345.5px,#00ffff 354.5px,#00c5ff 360.5px,#0048ff 376.5px,#0003ff 388.5px,#0000fa 389.5px,#00009e 398.5px,#000096 400.5px)"></i>
<i style="left:670px;width:3px;background:linear-gradient(#8b0000 0.5px,#8b0000 173.5px,#900000 174.5px,#f40000 178.5px,#ff0d00 179.5px,#ff8800 184.5px,#fff100 190.5px,#fffd00 191.5px,#f6ff09 192.5px,#b9ff46 200.5px,#7dff82 209.5px,#54ffab 219.5px,#45ffba 224.5px,#30ffcf 261.5px,#3cffc3 276.5px,#52ffad 287.5px,#5affa5 321.5px,#5bffa4 343.5px,#53ffac 345.5px,#01fffe 354.5px,#00bfff 361.5px,#0049ff 376.5px,#0003ff 388.5px,#0000fa 389.5px,#000099 398.5px,#000092 400.5px)"></i>
<i style="left:673px;width:3px;background:linear-gradient(#8b0000 0.5px,#8b0000 173.5px,#8f0000 174.5px,#f10000 178.5px,#ff0a00 179.5px,#ff8600 184.5px,#ffee00 190.5px,#fffc00 191.5px,#f7ff08 192.5px,#baff45 200.5px,#7fff80 209.5px,#56ffa9 219.5px,#47ffb8 224.5px,#35ffca 261.5px,#42ffbd 276.5px,#55ffaa 287.5px,#5bffa4 343.5px,#55ffaa 345.5px,#02fffd 354.5px,#00c0ff 361.5px,#004bff 376.5px,#0003ff 388.5px,#0000f9 389.5px,#000094 398.5px,#00008d 400.5px)"></i>
<i style="left:676px;width:3px;background:linear-gradient(#8b0000 0.5px,#8b0000 173.5px,#8e0000 174.5px,#ee0000 178.5px,#ff0700 179.5px,#ff8400 184.5px,#ffec00 190.5px,#fffa00 191.5px,#f9ff06 192.5px,#bbff44 200.5px,#80ff7f 209.5px,#58ffa7 219.5px,#49ffb6 224.5px,#3affc5 261.5px,#47ffb8 276.5px,#58ffa7 287.5px,#5cffa3 343.5px,#56ffa9 345.5px,#03fffc 354.5px,#00b9ff 362.5px,#004cff 376.5px,#0003ff 388.5px,#0000f9 389.5px,#00008f 398.5px,#000089 400.5px)"></i>
<i style="left:679px;width:3px;background:linear-gradient(#8b0000 0.5px,#8b0000 173.5px,#8c0000 174.5px,#eb0000 178.5px,#ff0300 179.5px,#ff8200 184.5px,#ffe900 190.5px,#fff900 191.5px,#faff05 192.5px,#bbff44 200.5px,#81ff7e 209.5px,#4bffb4 224.5px,#3fffc0 261.5px,#5bffa4 287.5px,#5cffa3 344.5px,#57ffa8 345.5px,#04fffb 354.5px,#00f9ff 355.5px,#00baff 362.5px,#0046ff 377.5px,#0003ff 388.5px,#0000f9 389.5px,#00008b 398.5px,#000084 400.5px)"></i>
<i style="left:682px;width:3px;background:linear-gradient(#8b0000 0.5px,#8b0000 174.5px,#fe0000 179.5px,#ff7d00 184.5px,#fff400 191.5px,#fcfe03 192.5px,#f5ff0a 193.5px,#bdff42 200.5px,#84ff7b 209.5px,#4dffb2 224.5px,#45ffba 261.5px,#5effa1 287.5px,#5effa1 344.5px,#59ffa6 345.5px,#05fffa 354.5px,#00fbff 355.5px,#00bcff 362.5px,#003fff 378.5px,#0003ff 388.5px,#0000f8 389.5px,#000086 398.5px,#000080 399.5px,#000080 400.5px)"></i>
<i style="left:685px;width:3px;background:linear-gradient(#8b0000 0.5px,#8b0000 174.5px,#f40000 179.5px,#ff0c00 180.5px,#ff6900 184.5px,#ffe000 191.5px,#fff700 193.5px,#f4ff0b 195.5px,#c8ff37 200.5px,#8bff74 209.5px,#55ffaa 224.5px,#4cffb3 261.5px,#62ff9d 287.5px,#5fffa0 344.5px,#5affa5 345.5px,#02fffd 355.5px,#0041ff 378.5px,#0000fe 388.5px,#000085 398.5px,#000080 400.5px)"></i>
<i style="left:688px;width:3px;background:linear-gradient(#8b0000 0.5px,#8b0000 174.5px,#fd0100 180.5px,#ff5300 184.5px,#ff9100 188.5px,#ffc900 191.5px,#fff900 195.5px,#f0ff0f 197.5px,#b4ff4b 204.5px,#93ff6c 209.5px,#7aff85 215.5px,#5effa1 224.5px,#54ffab 261.5px,#67ff98 287.5px,#60ff9f 344.5px,#5bffa4 345.5px,#01fefe 356.5px,#0042ff 378.5px,#0004ff 387.5px,#0000fb 388.5px,#0000f1 389.5px,#0000b0 394.5px,#000085 398.5px,#000080 400.5px)"></i>
<i style="left:691px;width:3px;background:linear-gradient(#8b0000 0.5px,#8b0000 174.5px,#f10000 180.5px,#fe0400 181.5px,#ff3c00 184.5px,#ff6500 187.5px,#ffc300 192.5px,#fff500 196.5px,#fdfe02 197.5px,#f4ff0b 198.5px,#bdff42 204.5px,#9cff63 209.5px,#81ff7e 215.5px,#67ff98 224.5px,#5cffa3 261.5px,#6bff94 287.5px,#61ff9e 344.5px,#5dffa2 345.5px,#21ffde 353.5px,#07fff8 356.5px,#00fdff 357.5px,#003bff 379.5px,#0001ff 387.5px,#0000ed 389.5px,#0000a0 395.5px,#000084 398.5px,#000080 400.5px)"></i>
<i style="left:694px;width:3px;background:linear-gradient(#8b0000 0.5px,#8b0000 174.5px,#f40000 181.5px,#ff0500 182.5px,#ff2600 184.5px,#ff4a00 187.5px,#ff5b00 188.5px,#ffad00 192.5px,#fff200 197.5px,#fefc01 198.5px,#f7ff08 199.5px,#beff41 205.5px,#9fff60 210.5px,#88ff77 215.5px,#70ff8f 224.5px,#64ff9b 261.5px,#70ff8f 287.5px,#62ff9d 344.5px,#27ffd8 353.5px,#04fffb 357.5px,#00fbff 358.5px,#00c7ff 364.5px,#003cff 379.5px,#0000fd 387.5px,#0000ea 389.5px,#00009d 395.5px,#000084 398.5px,#000080 400.5px)"></i>
<i style="left:697px;width:3px;background:linear-gradient(#8b0000 0.5px,#8b0000 174.5px,#f30000 182.5px,#fd0300 183.5px,#ff2f00 187.5px,#ff4000 188.5px,#ff9800 192.5px,#ffe400 197.5px,#fffb00 199.5px,#f8ff07 200.5px,#c6ff39 205.5px,#a7ff58 210.5px,#90ff6f 215.5px,#79ff86 224.5px,#6bff94 261.5px,#74ff8b 287.5px,#64ff9b 342.5px,#5fffa0 345.5px,#2dffd2 353.5px,#02fffd 358.5px,#00a0ff 369.5px,#003dff 379.5px,#0005ff 386.5px,#0000f1 388.5px,#000099 395.5px,#000083 398.5px,#000080 400.5px)"></i>
<i style="left:700px;width:3px;background:linear-gradient(#8b0000 0.5px,#8b0000 174.5px,#f90000 184.5px,#ff1400 187.5px,#ff2500 188.5px,#ff8200 192.5px,#ffc700 196.5px,#fffa00 200.5px,#f9ff06 201.5px,#ceff31 205.5px,#afff50 210.5px,#97ff68 215.5px,#82ff7d 224.5px,#73ff8c 261.5px,#79ff86 287.5px,#66ff99 342.5px,#60ff9f 345.5px,#34ffcb 353.5px,#01fefe 359.5px,#00a5ff 369.5px,#003eff 379.5px,#0003ff 386.5px,#0000ee 388.5px,#000095 395.5px,#000083 398.5px,#000080 400.5px)"></i>
<i style="left:703px;width:3px;background:linear-gradient(#8b0000 0.5px,#8b0000 174.5px,#910000 175.5px,#e50000 184.5px,#f80100 187.5px,#ff0a00 188.5px,#ff6d00 192.5px,#ffb800 196.5px,#fffa00 201.5px,#f8ff07 202.5px,#d6ff29 205.5px,#a2ff5d 214.5px,#8dff72 223.5px,#85ff7a 232.5px,#7bff84 261.5px,#7dff82 287.5px,#67ff98 342.5px,#61ff9e 345.5px,#3affc5 353.5px,#07fff8 359.5px,#00fdff 360.5px,#00dbff 364.5px,#00a1ff 370.5px,#003eff 379.5px,#0002ff 386.5px,#0000eb 388.5px,#00009a 394.5px,#000091 395.5px,#000082 398.5px,#000080 400.5px)"></i>
<i style="left:706px;width:3px;background:linear-gradient(#8b0000 0.5px,#8b0000 174.5px,#8e0000 175.5px,#d10000 184.5px,#e10000 187.5px,#f00000 188.5px,#ff0a00 189.5px,#ff5800 192.5px,#ffa800 196.5px,#fffc00 202.5px,#f5ff0a 203.5px,#dfff20 205.5px,#a9ff56 214.5px,#94ff6b 224.5px,#8dff72 232.5px,#83ff7c 261.5px,#82ff7d 286.5px,#7bff84 306.5px,#66ff99 344.5px,#40ffbf 353.5px,#05fffa 360.5px,#00fcff 361.5px,#00e2ff 364.5px,#00a6ff 370.5px,#003fff 379.5px,#0000ff 386.5px,#0000db 389.5px,#000096 394.5px,#00008d 395.5px,#000081 398.5px,#000080 400.5px)"></i>
<i style="left:709px;width:3px;background:linear-gradient(#8b0000 0.5px,#8b0000 174.5px,#8c0000 175.5px,#bc0000 184.5px,#c80000 187.5px,#d70000 188.5px,#f10000 189.5px,#ff0d00 190.5px,#ff4200 192.5px,#ffab00 197.5px,#fefe01 203.5px,#f1ff0e 204.5px,#ceff31 209.5px,#adff52 215.5px,#96ff69 231.5px,#86ff79 287.5px,#6aff95 342.5px,#64ff9b 345.5px,#46ffb9 353.5px,#04fffb 361.5px,#00f2ff 363.5px,#00b6ff 369.5px,#0040ff 379.5px,#0000fd 386.5px,#000092 394.5px,#000089 395.5px,#000080 400.5px)"></i>
<i style="left:712px;width:3px;background:linear-gradient(#8b0000 0.5px,#8b0000 175.5px,#b00000 187.5px,#be0000 188.5px,#f50000 190.5px,#ff1200 191.5px,#ff8a00 196.5px,#ff9d00 197.5px,#fff500 203.5px,#faff05 204.5px,#efff10 205.5px,#d6ff29 209.5px,#b4ff4b 215.5px,#9eff61 231.5px,#83ff7c 306.5px,#6bff94 342.5px,#4dffb2 353.5px,#02fffd 362.5px,#00efff 364.5px,#00bcff 369.5px,#0036ff 380.5px,#0007ff 385.5px,#0000fb 386.5px,#00008d 394.5px,#000085 395.5px,#000080 400.5px)"></i>
<i style="left:715px;width:3px;background:linear-gradient(#8b0000 0.5px,#8b0000 177.5px,#970000 187.5px,#a60000 188.5px,#fa0100 191.5px,#ff1800 192.5px,#ff7a00 196.5px,#ff8f00 197.5px,#fffb00 204.5px,#f8ff07 205.5px,#bbff44 215.5px,#a6ff59 231.5px,#86ff79 306.5px,#6dff92 342.5px,#53ffac 353.5px,#01fefe 363.5px,#00b6ff 370.5px,#0036ff 380.5px,#0006ff 385.5px,#0000f9 386.5px,#000089 394.5px,#000081 395.5px,#000080 400.5px)"></i>
<i style="left:718px;width:3px;background:linear-gradient(#8b0000 0.5px,#8b0000 187.5px,#990000 188.5px,#ec0000 191.5px,#ff0700 192.5px,#ff6800 196.5px,#ff7c00 197.5px,#ffe900 204.5px,#fff500 205.5px,#f4ff0b 208.5px,#c6ff39 215.5px,#aeff51 231.5px,#88ff77 306.5px,#6cff93 342.5px,#54ffab 353.5px,#02fffd 363.5px,#00c3ff 369.5px,#0041ff 379.5px,#0003ff 385.5px,#0000f5 386.5px,#000086 394.5px,#000080 395.5px,#000080 400.5px)"></i>
<i style="left:721px;width:3px;background:linear-gradient(#8b0000 0.5px,#8b0000 187.5px,#970000 188.5px,#fa0000 192.5px,#ff1000 193.5px,#ff5300 196.5px,#ff6500 197.5px,#ff9d00 201.5px,#ffcd00 204.5px,#ffda00 205.5px,#fefa01 209.5px,#f2ff0d 211.5px,#d5ff2a 215.5px,#b6ff49 231.5px,#b2ff4d 242.5px,#88ff77 306.5px,#6aff95 342.5px,#4fffb0 353.5px,#06fff9 362.5px,#00fdff 363.5px,#00bfff 369.5px,#003eff 379.5px,#0000fd 385.5px,#0000b7 390.5px,#000086 394.5px,#000080 395.5px,#000080 400.5px)"></i>
<i style="left:724px;width:3px;background:linear-gradient(#8b0000 0.5px,#8b0000 187.5px,#950000 188.5px,#ee0000 192.5px,#fe0300 193.5px,#ff4e00 197.5px,#ff8000 201.5px,#ffbf00 205.5px,#fff800 211.5px,#f2ff0d 213.5px,#e5ff1a 215.5px,#d8ff27 219.5px,#bcff43 232.5px,#bbff44 242.5px,#68ff97 342.5px,#4bffb4 353.5px,#02fffd 362.5px,#00eeff 364.5px,#00afff 370.5px,#003bff 379.5px,#0006ff 384.5px,#0000f9 385.5px,#0000b1 390.5px,#000085 394.5px,#000080 395.5px,#000080 400.5px)"></i>
<i style="left:727px;width:3px;background:linear-gradient(#8b0000 0.5px,#8b0000 187.5px,#940000 188.5px,#d10000 191.5px,#f30000 193.5px,#ff0500 194.5px,#ff3700 197.5px,#ff6400 201.5px,#ffa400 205.5px,#fffa00 213.5px,#f4ff0b 215.5px,#e0ff1f 220.5px,#c4ff3b 232.5px,#c3ff3c 242.5px,#66ff99 342.5px,#5bffa4 347.5px,#47ffb8 353.5px,#07fff8 361.5px,#00fdff 362.5px,#00f3ff 363.5px,#00acff 370.5px,#0039ff 379.5px,#0002ff 384.5px,#0000f5 385.5px,#0000ac 390.5px,#000084 394.5px,#000080 395.5px,#000080 400.5px)"></i>
<i style="left:730px;width:3px;background:linear-gradient(#8b0000 0.5px,#8b0000 187.5px,#920000 188.5px,#c70000 191.5px,#f40000 194.5px,#fe0500 195.5px,#ff2000 197.5px,#ff4800 201.5px,#ff8900 205.5px,#ffea00 213.5px,#fffa00 215.5px,#f9ff06 217.5px,#ecff13 220.5px,#cbff34 232.5px,#ccff33 242.5px,#9dff62 283.5px,#63ff9c 342.5px,#59ffa6 347.5px,#42ffbd 353.5px,#1effe1 358.5px,#03fffc 361.5px,#00efff 363.5px,#00a8ff 370.5px,#0036ff 379.5px,#0000fd 384.5px,#0000a6 390.5px,#000084 394.5px,#000080 395.5px,#000080 400.5px)"></i>
<i style="left:733px;width:3px;background:linear-gradient(#8b0000 0.5px,#8b0000 187.5px,#900000 188.5px,#be0000 191.5px,#f10000 195.5px,#fc0200 196.5px,#ff0900 197.5px,#ff2b00 201.5px,#ff3900 202.5px,#ff6e00 205.5px,#ffe400 214.5px,#fefc01 218.5px,#f7ff08 220.5px,#d3ff2c 232.5px,#d4ff2b 242.5px,#9eff61 284.5px,#61ff9e 342.5px,#57ffa8 347.5px,#3effc1 353.5px,#08fff7 360.5px,#00fdff 361.5px,#00a4ff 370.5px,#0033ff 379.5px,#0009ff 383.5px,#0000fa 384.5px,#0000ad 389.5px,#0000a1 390.5px,#000080 395.5px,#000080 400.5px)"></i>
<i style="left:736px;width:3px;background:linear-gradient(#8b0000 0.5px,#8b0000 187.5px,#8e0000 188.5px,#c10000 192.5px,#ea0000 196.5px,#f90000 198.5px,#ff0f00 201.5px,#ff1c00 202.5px,#ff5300 205.5px,#ffd500 214.5px,#fffb00 220.5px,#f8ff07 223.5px,#daff25 232.5px,#dcff23 242.5px,#a0ff5f 284.5px,#5fffa0 342.5px,#54ffab 347.5px,#39ffc6 353.5px,#04fffb 360.5px,#00f9ff 361.5px,#0096ff 371.5px,#0048ff 377.5px,#0006ff 383.5px,#0000f6 384.5px,#0000a7 389.5px,#00009b 390.5px,#000080 395.5px,#000080 400.5px)"></i>
<i style="left:739px;width:3px;background:linear-gradient(#8b0000 0.5px,#8b0000 187.5px,#8d0000 188.5px,#b50000 192.5px,#d70000 196.5px,#f30000 201.5px,#fc0300 202.5px,#ff3800 205.5px,#ffb800 213.5px,#ffc500 214.5px,#fff000 220.5px,#fbff04 225.5px,#e1ff1e 232.5px,#e5ff1a 242.5px,#a2ff5d 284.5px,#72ff8d 326.5px,#56ffa9 346.5px,#2fffd0 354.5px,#00ffff 360.5px,#0092ff 371.5px,#0044ff 377.5px,#0003ff 383.5px,#0000e3 385.5px,#0000a1 389.5px,#000096 390.5px,#000080 395.5px,#000080 400.5px)"></i>
<i style="left:742px;width:3px;background:linear-gradient(#8b0000 0.5px,#8b0000 188.5px,#c30000 196.5px,#d90000 201.5px,#e40000 202.5px,#f60000 203.5px,#ff0a00 204.5px,#ffa700 213.5px,#ffb500 214.5px,#ffe500 220.5px,#fcff03 227.5px,#e9ff16 232.5px,#edff12 242.5px,#a3ff5c 284.5px,#71ff8e 326.5px,#54ffab 346.5px,#30ffcf 353.5px,#06fff9 359.5px,#00fbff 360.5px,#008fff 371.5px,#0041ff 377.5px,#0000ff 383.5px,#00009b 389.5px,#000090 390.5px,#000080 395.5px,#000080 400.5px)"></i>
<i style="left:745px;width:3px;background:linear-gradient(#8b0000 0.5px,#8b0000 188.5px,#b00000 196.5px,#bf0000 201.5px,#ca0000 202.5px,#ef0000 204.5px,#fd0400 205.5px,#ff1400 206.5px,#ff9700 213.5px,#ffa500 214.5px,#ffd900 220.5px,#fcff03 229.5px,#f0ff0f 232.5px,#f5ff0a 242.5px,#a5ff5a 284.5px,#70ff8f 326.5px,#51ffae 346.5px,#2cffd3 353.5px,#02fffd 359.5px,#008bff 371.5px,#003dff 377.5px,#0000fc 383.5px,#000095 389.5px,#00008b 390.5px,#000080 395.5px,#000080 400.5px)"></i>
<i style="left:748px;width:3px;background:linear-gradient(#8b0000 0.5px,#8b0000 189.5px,#a50000 201.5px,#b00000 202.5px,#f90100 206.5px,#ff0e00 207.5px,#ff8600 213.5px,#ff9500 214.5px,#ffce00 220.5px,#fffa00 229.5px,#faff05 231.5px,#fdfe02 242.5px,#a7ff58 284.5px,#89ff76 304.5px,#6fff90 326.5px,#4fffb0 346.5px,#00feff 359.5px,#00bfff 365.5px,#0088ff 371.5px,#003aff 377.5px,#0008ff 382.5px,#0000f9 383.5px,#00008f 389.5px,#000085 390.5px,#000080 400.5px)"></i>
<i style="left:751px;width:3px;background:linear-gradient(#8b0000 0.5px,#8b0000 191.5px,#8e0000 201.5px,#980000 202.5px,#f70000 207.5px,#ff0c00 208.5px,#ff7500 213.5px,#ff8500 214.5px,#ffc200 220.5px,#fffd00 231.5px,#fff800 241.5px,#fcff03 246.5px,#a9ff56 284.5px,#4dffb2 346.5px,#03fffc 358.5px,#00faff 359.5px,#00bbff 365.5px,#0084ff 371.5px,#0037ff 377.5px,#0005ff 382.5px,#0000f6 383.5px,#000089 389.5px,#000080 390.5px,#000080 400.5px)"></i>
<i style="left:754px;width:3px;background:linear-gradient(#8b0000 0.5px,#8b0000 201.5px,#940000 202.5px,#fd0100 208.5px,#ff7300 214.5px,#ffb500 220.5px,#fff500 231.5px,#fff500 241.5px,#fdff02 247.5px,#aaff55 284.5px,#89ff76 304.5px,#6cff93 326.5px,#49ffb6 346.5px,#00fdff 358.5px,#0081ff 371.5px,#0035ff 377.5px,#0004ff 382.5px,#0000f5 383.5px,#000088 389.5px,#000080 390.5px,#000080 400.5px)"></i>
<i style="left:757px;width:3px;background:linear-gradient(#8b0000 0.5px,#8b0000 201.5px,#920000 202.5px,#f30000 208.5px,#ff0400 209.5px,#ff6100 214.5px,#ff9300 218.5px,#ffa800 220.5px,#ffcd00 225.5px,#fff100 232.5px,#fff300 241.5px,#fcff03 248.5px,#aaff55 284.5px,#6bff94 326.5px,#45ffba 346.5px,#01fffe 357.5px,#00f0ff 359.5px,#007eff 371.5px,#003fff 376.5px,#0003ff 382.5px,#0000f3 383.5px,#000087 389.5px,#000080 390.5px,#000080 400.5px)"></i>
<i style="left:760px;width:3px;background:linear-gradient(#8b0000 0.5px,#8b0000 201.5px,#910000 202.5px,#f60000 209.5px,#ff0600 210.5px,#ff4f00 214.5px,#ff9100 219.5px,#ffc500 225.5px,#ffea00 232.5px,#fff100 241.5px,#fcff03 249.5px,#aaff55 284.5px,#6bff94 325.5px,#4bffb4 342.5px,#3cffc3 347.5px,#03fffc 356.5px,#00ecff 359.5px,#007cff 371.5px,#003dff 376.5px,#0001ff 382.5px,#0000f2 383.5px,#000086 389.5px,#000080 390.5px,#000080 400.5px)"></i>
<i style="left:763px;width:3px;background:linear-gradient(#8b0000 0.5px,#8b0000 201.5px,#900000 202.5px,#f60000 210.5px,#ff0500 211.5px,#ff3d00 214.5px,#ff8300 219.5px,#ffbe00 225.5px,#ffe300 232.5px,#fcff03 250.5px,#adff52 283.5px,#69ff96 325.5px,#4affb5 341.5px,#38ffc7 347.5px,#05fffa 355.5px,#00fdff 356.5px,#00efff 358.5px,#008cff 369.5px,#006dff 372.5px,#003cff 376.5px,#0000ff 382.5px,#000085 389.5px,#000080 390.5px,#000080 400.5px)"></i>
<i style="left:766px;width:3px;background:linear-gradient(#8b0000 0.5px,#8b0000 201.5px,#8f0000 202.5px,#f30000 211.5px,#fe0500 212.5px,#ff2b00 214.5px,#ff7500 219.5px,#ffb600 225.5px,#ffdc00 232.5px,#fcff03 251.5px,#ecff13 259.5px,#c0ff3f 274.5px,#adff52 283.5px,#78ff87 316.5px,#47ffb8 341.5px,#34ffcb 347.5px,#01fffe 355.5px,#00e2ff 359.5px,#008aff 369.5px,#003aff 376.5px,#0000fe 382.5px,#000085 389.5px,#000080 390.5px,#000080 400.5px)"></i>
<i style="left:769px;width:3px;background:linear-gradient(#8b0000 0.5px,#8b0000 201.5px,#8e0000 202.5px,#e30000 211.5px,#f20000 212.5px,#ff0700 213.5px,#ff6800 219.5px,#ffae00 225.5px,#ffd500 232.5px,#fff000 243.5px,#fdff02 252.5px,#efff10 259.5px,#c0ff3f 274.5px,#aeff51 283.5px,#78ff87 316.5px,#44ffbb 341.5px,#2fffd0 347.5px,#03fffc 354.5px,#00e6ff 358.5px,#0091ff 368.5px,#0073ff 371.5px,#0038ff 376.5px,#0000fd 382.5px,#000084 389.5px,#000080 390.5px,#000080 400.5px)"></i>
<i style="left:772px;width:3px;background:linear-gradient(#8b0000 0.5px,#8b0000 201.5px,#8d0000 202.5px,#d30000 211.5px,#f40000 213.5px,#ff0700 214.5px,#ff5a00 219.5px,#ff9d00 224.5px,#ffa600 225.5px,#ffca00 231.5px,#ffd600 234.5px,#ffee00 243.5px,#fdff02 253.5px,#f1ff0e 259.5px,#c1ff3e 274.5px,#9aff65 294.5px,#77ff88 316.5px,#41ffbe 341.5px,#2bffd4 347.5px,#00feff 354.5px,#008eff 368.5px,#0036ff 376.5px,#0000fc 382.5px,#000083 389.5px,#000080 390.5px,#000080 400.5px)"></i>
<i style="left:775px;width:3px;background:linear-gradient(#8b0000 0.5px,#8b0000 201.5px,#8c0000 202.5px,#c30000 211.5px,#d00000 212.5px,#f50000 214.5px,#ff0700 215.5px,#ff4c00 219.5px,#ff9400 224.5px,#ff9e00 225.5px,#ffc300 231.5px,#ffd400 235.5px,#ffec00 243.5px,#feff01 254.5px,#f4ff0b 259.5px,#c1ff3e 274.5px,#9aff65 294.5px,#77ff88 316.5px,#3fffc0 341.5px,#26ffd9 347.5px,#03fffc 353.5px,#00dcff 358.5px,#008cff 368.5px,#0035ff 376.5px,#0008ff 381.5px,#0000fb 382.5px,#000082 389.5px,#000080 400.5px)"></i>
<i style="left:778px;width:3px;background:linear-gradient(#8b0000 0.5px,#8b0000 202.5px,#b30000 211.5px,#bf0000 212.5px,#f60000 215.5px,#ff0900 216.5px,#ff4e00 220.5px,#ff8c00 224.5px,#ff9700 225.5px,#ffca00 234.5px,#ffe800 242.5px,#fdff02 256.5px,#f6ff09 259.5px,#c2ff3d 274.5px,#9aff65 294.5px,#77ff88 316.5px,#3cffc3 341.5px,#22ffdd 347.5px,#00fdff 353.5px,#0089ff 368.5px,#003dff 375.5px,#0007ff 381.5px,#0000f9 382.5px,#000082 389.5px,#000080 400.5px)"></i>
<i style="left:781px;width:3px;background:linear-gradient(#8b0000 0.5px,#8b0000 202.5px,#a40000 211.5px,#af0000 212.5px,#f90000 216.5px,#ff0d00 217.5px,#ff8300 224.5px,#ff8f00 225.5px,#ffb400 231.5px,#ffc900 235.5px,#ffe900 243.5px,#fdff02 257.5px,#c2ff3d 274.5px,#9aff65 294.5px,#76ff89 316.5px,#46ffb9 336.5px,#35ffca 342.5px,#02fffd 352.5px,#0087ff 368.5px,#003bff 375.5px,#0006ff 381.5px,#0000f8 382.5px,#000081 389.5px,#000080 400.5px)"></i>
<i style="left:784px;width:3px;background:linear-gradient(#8b0000 0.5px,#8b0000 204.5px,#940000 211.5px,#9e0000 212.5px,#fc0100 217.5px,#ff7b00 224.5px,#ff8700 225.5px,#ffb300 232.5px,#ffc400 235.5px,#ffe700 243.5px,#fcff03 259.5px,#c2ff3d 274.5px,#9aff65 294.5px,#78ff87 315.5px,#44ffbb 336.5px,#32ffcd 342.5px,#00fdff 352.5px,#0084ff 368.5px,#0038ff 375.5px,#0005ff 381.5px,#0000f7 382.5px,#000080 389.5px,#000080 400.5px)"></i>
<i style="left:787px;width:3px;background:linear-gradient(#8b0000 0.5px,#8b0000 211.5px,#940000 212.5px,#f10000 217.5px,#ff0400 218.5px,#ff6d00 224.5px,#ff7900 225.5px,#ffb600 234.5px,#ffe200 243.5px,#fffc00 258.5px,#fbff04 260.5px,#c4ff3b 274.5px,#9aff65 294.5px,#77ff88 315.5px,#41ffbe 336.5px,#2effd1 342.5px,#01fefe 351.5px,#0081ff 368.5px,#0036ff 375.5px,#0003ff 381.5px,#0000f6 382.5px,#000081 389.5px,#000080 400.5px)"></i>
<i style="left:790px;width:3px;background:linear-gradient(#8b0000 0.5px,#8b0000 211.5px,#930000 212.5px,#f70000 218.5px,#ff0800 219.5px,#ff5700 224.5px,#ff6300 225.5px,#ffaf00 235.5px,#ffd900 243.5px,#fffb00 259.5px,#fbff04 261.5px,#c7ff38 274.5px,#9bff64 294.5px,#75ff8a 315.5px,#3fffc0 335.5px,#2dffd2 341.5px,#00fdff 350.5px,#007bff 368.5px,#0033ff 375.5px,#0001ff 381.5px,#0000f4 382.5px,#000085 389.5px,#000080 394.5px,#000080 400.5px)"></i>
<i style="left:793px;width:3px;background:linear-gradient(#8b0000 0.5px,#8b0000 211.5px,#920000 212.5px,#f90000 219.5px,#ff0800 220.5px,#ff4e00 225.5px,#ff8b00 232.5px,#ffbe00 239.5px,#ffd000 243.5px,#fffa00 260.5px,#fbff04 262.5px,#caff35 274.5px,#9dff62 294.5px,#73ff8c 315.5px,#3bffc4 335.5px,#28ffd7 341.5px,#00fcff 349.5px,#00ebff 352.5px,#0076ff 368.5px,#0030ff 375.5px,#0000fe 381.5px,#0000f3 382.5px,#000089 389.5px,#000080 394.5px,#000080 400.5px)"></i>
<i style="left:796px;width:3px;background:linear-gradient(#8b0000 0.5px,#8b0000 211.5px,#900000 212.5px,#d50000 217.5px,#f90000 220.5px,#ff0600 221.5px,#ff3800 225.5px,#ff7400 231.5px,#ff9600 235.5px,#ffba00 240.5px,#ffc700 243.5px,#ffeb00 257.5px,#fffb00 261.5px,#faff05 263.5px,#cdff32 274.5px,#9eff61 294.5px,#72ff8d 315.5px,#5effa1 322.5px,#2affd5 339.5px,#02fffd 347.5px,#00fbff 348.5px,#00e4ff 352.5px,#0071ff 368.5px,#002eff 375.5px,#0000fc 381.5px,#00008d 389.5px,#000080 394.5px,#000080 400.5px)"></i>
<i style="left:799px;width:3px;background:linear-gradient(#8b0000 0.5px,#8b0000 211.5px,#8f0000 212.5px,#cb0000 217.5px,#f50000 221.5px,#fd0200 222.5px,#ff0c00 223.5px,#ff6e00 232.5px,#ffb100 240.5px,#ffbf00 243.5px,#ffe900 258.5px,#fffb00 262.5px,#f9ff06 264.5px,#d1ff2e 274.5px,#5fffa0 321.5px,#29ffd6 338.5px,#02fffd 346.5px,#00fbff 347.5px,#00deff 352.5px,#006bff 368.5px,#0033ff 374.5px,#0004ff 380.5px,#0000fa 381.5px,#0000f0 382.5px,#000090 389.5px,#000080 394.5px,#000080 400.5px)"></i>
<i style="left:802px;width:3px;background:linear-gradient(#8b0000 0.5px,#8b0000 211.5px,#8e0000 212.5px,#c20000 217.5px,#f80000 223.5px,#ff0d00 225.5px,#ff6000 232.5px,#ffa800 240.5px,#ffb600 243.5px,#ffe500 258.5px,#fdff02 264.5px,#d7ff28 273.5px,#baff45 283.5px,#87ff78 305.5px,#5cffa3 321.5px,#25ffda 338.5px,#01fffe 345.5px,#00faff 346.5px,#00d7ff 352.5px,#0066ff 368.5px,#0030ff 374.5px,#0001ff 380.5px,#0000ee 382.5px,#000094 389.5px,#000080 394.5px,#000080 400.5px)"></i>
<i style="left:805px;width:3px;background:linear-gradient(#8b0000 0.5px,#8b0000 211.5px,#8d0000 212.5px,#f70000 225.5px,#fe0500 226.5px,#ff1100 227.5px,#ff5100 232.5px,#ff9f00 240.5px,#ffad00 243.5px,#ffdc00 257.5px,#fcff03 265.5px,#daff25 273.5px,#bcff43 283.5px,#87ff78 305.5px,#5affa5 321.5px,#21ffde 338.5px,#02fffd 344.5px,#00faff 345.5px,#00d1ff 352.5px,#0061ff 368.5px,#0025ff 375.5px,#0000fe 380.5px,#0000ed 382.5px,#000098 389.5px,#000080 394.5px,#000080 400.5px)"></i>
<i style="left:808px;width:3px;background:linear-gradient(#8b0000 0.5px,#8b0000 211.5px,#8c0000 212.5px,#da0000 224.5px,#f00000 226.5px,#fc0100 227.5px,#ff0c00 228.5px,#ff4200 232.5px,#ff9600 240.5px,#ffd700 257.5px,#fffa00 264.5px,#faff05 266.5px,#ddff22 273.5px,#beff41 283.5px,#87ff78 305.5px,#58ffa7 321.5px,#1cffe3 338.5px,#02fffd 343.5px,#00fbff 344.5px,#00caff 352.5px,#005bff 368.5px,#0022ff 375.5px,#0000fc 380.5px,#0000eb 382.5px,#00009c 389.5px,#000083 393.5px,#000080 400.5px)"></i>
<i style="left:811px;width:3px;background:linear-gradient(#8b0000 0.5px,#8b0000 212.5px,#c60000 224.5px,#d00000 225.5px,#f90000 228.5px,#ff0800 229.5px,#ff3400 232.5px,#ff8500 239.5px,#ff8d00 240.5px,#ffd200 257.5px,#fdff02 266.5px,#e1ff1e 273.5px,#c0ff3f 283.5px,#87ff78 305.5px,#55ffaa 321.5px,#18ffe7 338.5px,#02fffd 342.5px,#00fbff 343.5px,#00c3ff 352.5px,#0056ff 368.5px,#0003ff 379.5px,#0000ea 382.5px,#0000a0 389.5px,#000083 393.5px,#000080 394.5px,#000080 400.5px)"></i>
<i style="left:814px;width:3px;background:linear-gradient(#8b0000 0.5px,#8b0000 212.5px,#b30000 224.5px,#bc0000 225.5px,#f60000 229.5px,#ff0700 230.5px,#ff2500 232.5px,#ff7b00 239.5px,#ff8400 240.5px,#ffc800 256.5px,#fffd00 266.5px,#fbff04 267.5px,#c2ff3d 283.5px,#87ff78 305.5px,#53ffac 321.5px,#14ffeb 338.5px,#00fcff 342.5px,#0088ff 360.5px,#0001ff 379.5px,#0000e8 382.5px,#0000a3 389.5px,#000083 393.5px,#000080 394.5px,#000080 400.5px)"></i>
<i style="left:817px;width:3px;background:linear-gradient(#8b0000 0.5px,#8b0000 213.5px,#a00000 224.5px,#a80000 225.5px,#f60000 230.5px,#ff0700 231.5px,#ff7200 239.5px,#ff7b00 240.5px,#ffc300 256.5px,#fffa00 266.5px,#faff05 268.5px,#c3ff3c 283.5px,#89ff76 304.5px,#51ffae 321.5px,#0ffff0 338.5px,#00fdff 341.5px,#0089ff 359.5px,#0000fe 379.5px,#0000c5 386.5px,#000084 393.5px,#000080 394.5px,#000080 400.5px)"></i>
<i style="left:820px;width:3px;background:linear-gradient(#8b0000 0.5px,#8e0000 224.5px,#960000 225.5px,#f80000 231.5px,#ff0800 232.5px,#ff6900 239.5px,#ff7200 240.5px,#ffbe00 256.5px,#fffd00 267.5px,#fdff02 268.5px,#c5ff3a 283.5px,#89ff76 304.5px,#4effb1 321.5px,#00feff 340.5px,#0003ff 378.5px,#0000fb 379.5px,#0000c7 386.5px,#000084 393.5px,#000080 394.5px,#000080 400.5px)"></i>
<i style="left:823px;width:3px;background:linear-gradient(#8b0000 0.5px,#8b0000 224.5px,#920000 225.5px,#fe0100 232.5px,#ff6200 239.5px,#ff6c00 240.5px,#ffc400 257.5px,#fffd00 267.5px,#fcff03 268.5px,#c4ff3b 283.5px,#88ff77 304.5px,#57ffa8 318.5px,#01fefe 339.5px,#0080ff 359.5px,#0001ff 378.5px,#0000c6 386.5px,#000084 393.5px,#000080 394.5px,#000080 400.5px)"></i>
<i style="left:826px;width:3px;background:linear-gradient(#8b0000 0.5px,#8b0000 224.5px,#920000 225.5px,#f80000 232.5px,#ff0700 233.5px,#ff5d00 239.5px,#ff6700 240.5px,#ff8800 245.5px,#ffc000 256.5px,#ffff00 267.5px,#fbff04 268.5px,#c4ff3b 283.5px,#86ff79 304.5px,#55ffaa 318.5px,#01fefe 338.5px,#007cff 359.5px,#0000fe 378.5px,#0000c5 386.5px,#000084 393.5px,#000080 394.5px,#000080 400.5px)"></i>
<i style="left:829px;width:3px;background:linear-gradient(#8b0000 0.5px,#8b0000 224.5px,#910000 225.5px,#c30000 229.5px,#fe0100 233.5px,#ff5700 239.5px,#ff8100 244.5px,#feff01 267.5px,#c3ff3c 283.5px,#85ff7a 304.5px,#53ffac 318.5px,#00feff 337.5px,#0099ff 354.5px,#0004ff 377.5px,#0000fc 378.5px,#0000c3 386.5px,#000084 393.5px,#000080 394.5px,#000080 400.5px)"></i>
<i style="left:832px;width:3px;background:linear-gradient(#8b0000 0.5px,#8b0000 224.5px,#900000 225.5px,#bc0000 229.5px,#f80000 233.5px,#ff0700 234.5px,#ff5200 239.5px,#ff8000 244.5px,#ffed00 263.5px,#fdff02 267.5px,#c2ff3d 283.5px,#83ff7c 304.5px,#51ffae 318.5px,#1affe5 331.5px,#01fefe 336.5px,#0096ff 354.5px,#0001ff 377.5px,#0000c2 386.5px,#000084 393.5px,#000080 394.5px,#000080 400.5px)"></i>
<i style="left:835px;width:3px;background:linear-gradient(#8b0000 0.5px,#8b0000 224.5px,#8f0000 225.5px,#b60000 229.5px,#fe0100 234.5px,#ff5800 240.5px,#ff8700 245.5px,#ffef00 263.5px,#fbff04 267.5px,#c1ff3e 283.5px,#81ff7e 304.5px,#4fffb0 318.5px,#17ffe8 331.5px,#01fffe 335.5px,#00faff 336.5px,#0092ff 354.5px,#0000fe 377.5px,#0000c1 386.5px,#000084 393.5px,#000080 394.5px,#000080 400.5px)"></i>
<i style="left:838px;width:3px;background:linear-gradient(#8b0000 0.5px,#8b0000 224.5px,#8e0000 225.5px,#af0000 229.5px,#f90000 234.5px,#ff0900 235.5px,#ff5300 240.5px,#ff8600 245.5px,#fff100 263.5px,#ffff00 266.5px,#faff05 267.5px,#c0ff3f 283.5px,#86ff79 302.5px,#4dffb2 318.5px,#14ffeb 331.5px,#03fffc 334.5px,#00fcff 335.5px,#008fff 354.5px,#0003ff 376.5px,#0000fc 377.5px,#0000c7 385.5px,#000084 393.5px,#000080 394.5px,#000080 400.5px)"></i>
<i style="left:841px;width:3px;background:linear-gradient(#8b0000 0.5px,#8b0000 224.5px,#8d0000 225.5px,#a90000 229.5px,#b40000 230.5px,#f30000 234.5px,#ff0300 235.5px,#ff4f00 240.5px,#ff8500 245.5px,#fff300 263.5px,#fdff02 266.5px,#c2ff3d 282.5px,#85ff7a 302.5px,#4bffb4 318.5px,#00feff 334.5px,#00d7ff 340.5px,#008cff 354.5px,#0001ff 376.5px,#0000c6 385.5px,#000084 393.5px,#000080 394.5px,#000080 400.5px)"></i>
<i style="left:844px;width:3px;background:linear-gradient(#8b0000 0.5px,#8b0000 224.5px,#8d0000 225.5px,#a20000 229.5px,#ad0000 230.5px,#fc0000 235.5px,#ff4a00 240.5px,#ff8500 245.5px,#fff500 263.5px,#fcff03 266.5px,#c1ff3e 282.5px,#83ff7c 302.5px,#49ffb6 318.5px,#01fffe 333.5px,#00faff 334.5px,#00d1ff 340.5px,#0088ff 354.5px,#0000fe 376.5px,#0000c4 385.5px,#000084 393.5px,#000080 394.5px,#000080 400.5px)"></i>
<i style="left:847px;width:3px;background:linear-gradient(#8b0000 0.5px,#8b0000 224.5px,#9c0000 229.5px,#a60000 230.5px,#f60000 235.5px,#ff0700 236.5px,#ff4500 240.5px,#ff8400 245.5px,#fff700 263.5px,#feff01 265.5px,#c0ff3f 282.5px,#82ff7d 302.5px,#47ffb8 318.5px,#00fdff 333.5px,#00cbff 340.5px,#0085ff 354.5px,#0003ff 375.5px,#0000ca 384.5px,#000084 393.5px,#000080 394.5px,#000080 400.5px)"></i>
<i style="left:850px;width:3px;background:linear-gradient(#8b0000 0.5px,#8b0000 225.5px,#950000 229.5px,#9f0000 230.5px,#f00000 235.5px,#ff0100 236.5px,#ff4000 240.5px,#ff7900 244.5px,#ff8400 245.5px,#fff900 263.5px,#fcff03 265.5px,#bfff40 282.5px,#75ff8a 305.5px,#45ffba 318.5px,#01fffe 332.5px,#00f9ff 333.5px,#00c6ff 340.5px,#0082ff 354.5px,#0001ff 375.5px,#0000c2 385.5px,#000083 393.5px,#000080 394.5px,#000080 400.5px)"></i>
<i style="left:853px;width:3px;background:linear-gradient(#8b0000 0.5px,#8b0000 226.5px,#8f0000 229.5px,#980000 230.5px,#fa0000 236.5px,#ff0b00 237.5px,#ff7800 244.5px,#ff8300 245.5px,#ffc200 254.5px,#feff01 264.5px,#beff41 282.5px,#7fff80 302.5px,#43ffbc 318.5px,#00fdff 332.5px,#00c0ff 340.5px,#007eff 354.5px,#0000fd 375.5px,#0000c7 384.5px,#000083 393.5px,#000080 394.5px,#000080 400.5px)"></i>
<i style="left:856px;width:3px;background:linear-gradient(#8b0000 0.5px,#8b0000 229.5px,#930000 230.5px,#f50000 236.5px,#ff0600 237.5px,#ff7600 244.5px,#ff8200 245.5px,#ffc200 254.5px,#feff01 264.5px,#62ff9d 309.5px,#3cffc3 319.5px,#01fefe 331.5px,#00bbff 340.5px,#007aff 354.5px,#0002ff 374.5px,#0000c6 384.5px,#000083 393.5px,#000080 394.5px,#000080 400.5px)"></i>
<i style="left:859px;width:3px;background:linear-gradient(#8b0000 0.5px,#8b0000 229.5px,#920000 230.5px,#be0000 233.5px,#f00000 236.5px,#ff0100 237.5px,#ff7300 244.5px,#ff7f00 245.5px,#ffc200 254.5px,#ffff00 264.5px,#5fffa0 309.5px,#37ffc8 319.5px,#00fdff 330.5px,#00f2ff 332.5px,#00b6ff 340.5px,#0075ff 354.5px,#0000fe 374.5px,#0000c4 384.5px,#000083 393.5px,#000080 400.5px)"></i>
<i style="left:862px;width:3px;background:linear-gradient(#8b0000 0.5px,#8b0000 229.5px,#910000 230.5px,#b90000 233.5px,#fc0000 237.5px,#ff7000 244.5px,#ff8600 246.5px,#ffc700 255.5px,#fff900 263.5px,#fbff04 265.5px,#5cffa3 309.5px,#33ffcc 319.5px,#00fcff 329.5px,#00ebff 332.5px,#00b1ff 340.5px,#006fff 354.5px,#0003ff 373.5px,#0000c2 384.5px,#000082 393.5px,#000080 400.5px)"></i>
<i style="left:865px;width:3px;background:linear-gradient(#8b0000 0.5px,#8b0000 229.5px,#900000 230.5px,#b40000 233.5px,#f80000 237.5px,#ff0a00 238.5px,#ff6d00 244.5px,#ff8400 246.5px,#ffc700 255.5px,#fff800 263.5px,#fcff03 265.5px,#59ffa6 309.5px,#2fffd0 319.5px,#00fcff 328.5px,#00e5ff 332.5px,#00acff 340.5px,#006fff 353.5px,#0000ff 373.5px,#0000c1 384.5px,#000082 393.5px,#000080 400.5px)"></i>
<i style="left:868px;width:3px;background:linear-gradient(#8b0000 0.5px,#8b0000 229.5px,#900000 230.5px,#af0000 233.5px,#f30000 237.5px,#ff0600 238.5px,#ff6a00 244.5px,#ff8c00 247.5px,#ffc600 255.5px,#fff700 263.5px,#fdff02 265.5px,#57ffa8 309.5px,#2bffd4 319.5px,#00fcff 327.5px,#00dfff 332.5px,#00a7ff 340.5px,#006aff 353.5px,#0003ff 372.5px,#0000cb 382.5px,#000082 393.5px,#000080 400.5px)"></i>
<i style="left:871px;width:3px;background:linear-gradient(#8b0000 0.5px,#8b0000 229.5px,#8f0000 230.5px,#aa0000 233.5px,#b70000 234.5px,#ef0000 237.5px,#ff0200 238.5px,#ff6700 244.5px,#ff8b00 247.5px,#ffc600 255.5px,#feff01 265.5px,#54ffab 309.5px,#27ffd8 319.5px,#00fcff 326.5px,#00a1ff 340.5px,#0064ff 353.5px,#0001ff 372.5px,#0000ca 382.5px,#000086 392.5px,#000080 394.5px,#000080 400.5px)"></i>
<i style="left:874px;width:3px;background:linear-gradient(#8b0000 0.5px,#8b0000 229.5px,#8e0000 230.5px,#a50000 233.5px,#b20000 234.5px,#fd0000 238.5px,#ff6400 244.5px,#ff8a00 247.5px,#ffc500 255.5px,#feff01 265.5px,#51ffae 309.5px,#23ffdc 319.5px,#00fdff 325.5px,#009cff 340.5px,#0003ff 371.5px,#0000c8 382.5px,#000085 392.5px,#000080 394.5px,#000080 400.5px)"></i>
<i style="left:877px;width:3px;background:linear-gradient(#8b0000 0.5px,#8b0000 229.5px,#a00000 233.5px,#ac0000 234.5px,#f90000 238.5px,#ff0e00 239.5px,#ff6100 244.5px,#ff8800 247.5px,#ffc500 255.5px,#fffa00 264.5px,#faff05 266.5px,#4effb1 309.5px,#1effe1 319.5px,#01fffe 324.5px,#0097ff 340.5px,#0000ff 371.5px,#0000c7 382.5px,#000084 392.5px,#000080 394.5px,#000080 400.5px)"></i>
<i style="left:880px;width:3px;background:linear-gradient(#8b0000 0.5px,#8b0000 229.5px,#9b0000 233.5px,#a70000 234.5px,#f50000 238.5px,#ff0b00 239.5px,#ff5e00 244.5px,#ff8700 247.5px,#ffc400 255.5px,#fff900 264.5px,#fbff04 266.5px,#4bffb4 309.5px,#1affe5 319.5px,#03fffc 323.5px,#00faff 324.5px,#00d7ff 329.5px,#0092ff 340.5px,#0002ff 370.5px,#0000cb 381.5px,#000083 392.5px,#000080 400.5px)"></i>
<i style="left:883px;width:3px;background:linear-gradient(#8b0000 0.5px,#8b0000 229.5px,#950000 233.5px,#a10000 234.5px,#f20000 238.5px,#ff0700 239.5px,#ff6b00 245.5px,#ff8600 247.5px,#ffc300 255.5px,#fff800 264.5px,#fcff03 266.5px,#48ffb7 309.5px,#00fdff 323.5px,#00d0ff 329.5px,#008dff 340.5px,#0000fe 370.5px,#0000c3 382.5px,#000086 391.5px,#000080 393.5px,#000080 400.5px)"></i>
<i style="left:886px;width:3px;background:linear-gradient(#8b0000 0.5px,#8b0000 230.5px,#900000 233.5px,#9c0000 234.5px,#ee0000 238.5px,#ff0400 239.5px,#ff6900 245.5px,#ff8500 247.5px,#ffc300 255.5px,#fffd00 265.5px,#fcff03 266.5px,#45ffba 309.5px,#01fffe 322.5px,#00f8ff 323.5px,#00c3ff 330.5px,#0088ff 340.5px,#003fff 355.5px,#0001ff 369.5px,#0000c8 381.5px,#000084 391.5px,#000080 393.5px,#000080 400.5px)"></i>
<i style="left:889px;width:3px;background:linear-gradient(#8b0000 0.5px,#8c0000 233.5px,#960000 234.5px,#ff0100 239.5px,#ff7700 246.5px,#ff8400 247.5px,#ffc200 255.5px,#fcff03 266.5px,#42ffbd 309.5px,#03fffc 321.5px,#00fbff 322.5px,#00bdff 330.5px,#0083ff 340.5px,#003fff 354.5px,#0003ff 368.5px,#0000c6 381.5px,#000083 391.5px,#000080 392.5px,#000080 400.5px)"></i>
<i style="left:892px;width:3px;background:linear-gradient(#8b0000 0.5px,#8b0000 233.5px,#950000 234.5px,#fe0000 239.5px,#ff7700 246.5px,#ff8400 247.5px,#ffc300 255.5px,#fffe00 265.5px,#fbff04 266.5px,#3effc1 309.5px,#00fdff 321.5px,#00b9ff 330.5px,#0080ff 340.5px,#003cff 354.5px,#0001ff 368.5px,#0000c4 381.5px,#000083 391.5px,#000080 400.5px)"></i>
<i style="left:895px;width:3px;background:linear-gradient(#8b0000 0.5px,#8b0000 233.5px,#940000 234.5px,#fd0000 239.5px,#ff7700 246.5px,#ff8400 247.5px,#ffc400 255.5px,#feff01 265.5px,#39ffc6 309.5px,#00fdff 320.5px,#00b5ff 330.5px,#007dff 340.5px,#003aff 354.5px,#0003ff 367.5px,#0000fe 368.5px,#0000c3 381.5px,#000082 391.5px,#000080 400.5px)"></i>
<i style="left:898px;width:3px;background:linear-gradient(#8b0000 0.5px,#8b0000 233.5px,#930000 234.5px,#a60000 235.5px,#fc0000 239.5px,#ff7700 246.5px,#ff8400 247.5px,#ffc400 255.5px,#fff000 262.5px,#fcff03 265.5px,#35ffca 309.5px,#00fdff 319.5px,#00b2ff 330.5px,#007aff 340.5px,#0038ff 354.5px,#0001ff 367.5px,#0000c1 381.5px,#000082 391.5px,#000080 400.5px)"></i>
<i style="left:901px;width:3px;background:linear-gradient(#8b0000 0.5px,#8b0000 233.5px,#920000 234.5px,#a40000 235.5px,#fb0000 239.5px,#ff0e00 240.5px,#ff7700 246.5px,#ff8400 247.5px,#ffc500 255.5px,#fff200 262.5px,#fbff04 265.5px,#30ffcf 309.5px,#00fdff 318.5px,#00e6ff 322.5px,#00aeff 330.5px,#0077ff 340.5px,#0036ff 354.5px,#0000fe 367.5px,#0000c0 381.5px,#000082 391.5px,#000080 400.5px)"></i>
<i style="left:904px;width:3px;background:linear-gradient(#8b0000 0.5px,#8b0000 233.5px,#910000 234.5px,#a20000 235.5px,#fa0000 239.5px,#ff0e00 240.5px,#ff7700 246.5px,#ff8400 247.5px,#ffc600 255.5px,#feff01 264.5px,#2cffd3 309.5px,#00feff 317.5px,#00aaff 330.5px,#0075ff 340.5px,#0034ff 354.5px,#0002ff 366.5px,#0000c9 379.5px,#000081 391.5px,#000080 400.5px)"></i>
<i style="left:907px;width:3px;background:linear-gradient(#8b0000 0.5px,#8b0000 233.5px,#900000 234.5px,#a00000 235.5px,#f90000 239.5px,#ff0d00 240.5px,#ff7700 246.5px,#ff8400 247.5px,#ffc700 255.5px,#fff000 261.5px,#fcff03 264.5px,#27ffd8 309.5px,#00feff 316.5px,#00a7ff 330.5px,#0072ff 340.5px,#0032ff 354.5px,#0000ff 366.5px,#0000c8 379.5px,#000084 390.5px,#000080 392.5px,#000080 400.5px)"></i>
<i style="left:910px;width:3px;background:linear-gradient(#8b0000 0.5px,#8b0000 233.5px,#8f0000 234.5px,#9f0000 235.5px,#f80000 239.5px,#ff0c00 240.5px,#ff7700 246.5px,#ff8400 247.5px,#ffc800 255.5px,#fff800 262.5px,#fbff04 264.5px,#22ffdd 309.5px,#01fffe 315.5px,#008dff 334.5px,#0045ff 349.5px,#0002ff 365.5px,#0000c6 379.5px,#000084 390.5px,#000080 392.5px,#000080 400.5px)"></i>
<i style="left:913px;width:3px;background:linear-gradient(#8b0000 0.5px,#8b0000 233.5px,#8e0000 234.5px,#9d0000 235.5px,#f70000 239.5px,#ff0c00 240.5px,#ff7700 246.5px,#ff8400 247.5px,#ffc100 254.5px,#feff01 263.5px,#c5ff3a 274.5px,#4bffb4 300.5px,#02fffd 314.5px,#00fbff 315.5px,#008aff 334.5px,#0043ff 349.5px,#0001ff 365.5px,#0000c5 379.5px,#000083 390.5px,#000080 400.5px)"></i>
<i style="left:916px;width:3px;background:linear-gradient(#8b0000 0.5px,#8b0000 233.5px,#8d0000 234.5px,#9b0000 235.5px,#f60000 239.5px,#ff0b00 240.5px,#ff7700 246.5px,#ff8400 247.5px,#ffc900 255.5px,#fff600 261.5px,#fcff03 263.5px,#c3ff3c 274.5px,#47ffb8 300.5px,#03fffc 313.5px,#00fcff 314.5px,#0086ff 334.5px,#0040ff 349.5px,#0003ff 364.5px,#0000c9 378.5px,#000082 390.5px,#000080 400.5px)"></i>
<i style="left:919px;width:3px;background:linear-gradient(#8b0000 0.5px,#8b0000 233.5px,#8c0000 234.5px,#990000 235.5px,#f50000 239.5px,#ff0a00 240.5px,#ff7600 246.5px,#ff8400 247.5px,#ffca00 255.5px,#fff800 261.5px,#faff05 263.5px,#00fdff 313.5px,#00c5ff 322.5px,#0083ff 334.5px,#003eff 349.5px,#0001ff 364.5px,#0000c7 378.5px,#000081 390.5px,#000080 400.5px)"></i>
<i style="left:922px;width:3px;background:linear-gradient(#8b0000 0.5px,#8b0000 234.5px,#980000 235.5px,#f40000 239.5px,#ff0a00 240.5px,#ff7600 246.5px,#ff8400 247.5px,#ffc300 254.5px,#feff01 262.5px,#00feff 312.5px,#00c0ff 322.5px,#007fff 334.5px,#003bff 349.5px,#0000fe 364.5px,#0000c6 378.5px,#000083 389.5px,#000080 400.5px)"></i>
<i style="left:925px;width:3px;background:linear-gradient(#8b0000 0.5px,#8b0000 234.5px,#960000 235.5px,#f30000 239.5px,#ff0900 240.5px,#ff7700 246.5px,#ff8500 247.5px,#ffc500 254.5px,#fffd00 261.5px,#fbff04 262.5px,#01fffe 311.5px,#00faff 312.5px,#00bbff 322.5px,#007cff 334.5px,#0039ff 349.5px,#0002ff 363.5px,#0000c6 378.5px,#000083 389.5px,#000080 400.5px)"></i>
<i style="left:928px;width:3px;background:linear-gradient(#8b0000 0.5px,#8b0000 234.5px,#950000 235.5px,#f30000 239.5px,#ff0a00 240.5px,#ff6800 245.5px,#ff8700 247.5px,#ffc800 254.5px,#fdff02 261.5px,#b6ff49 274.5px,#00fcff 311.5px,#00b9ff 322.5px,#007fff 333.5px,#003cff 348.5px,#0001ff 363.5px,#0000c6 378.5px,#000084 389.5px,#000080 391.5px,#000080 400.5px)"></i>
<i style="left:931px;width:3px;background:linear-gradient(#8b0000 0.5px,#8b0000 234.5px,#940000 235.5px,#f30000 239.5px,#ff0a00 240.5px,#ff6b00 245.5px,#ff8a00 247.5px,#ffd500 255.5px,#fffd00 260.5px,#f9ff06 261.5px,#b1ff4e 274.5px,#00feff 310.5px,#00b6ff 322.5px,#007dff 333.5px,#0036ff 349.5px,#0000ff 363.5px,#0000c7 378.5px,#000081 390.5px,#000080 400.5px)"></i>
<i style="left:934px;width:3px;background:linear-gradient(#8b0000 0.5px,#8b0000 234.5px,#930000 235.5px,#a80000 236.5px,#f30000 239.5px,#ff0a00 240.5px,#ff5c00 244.5px,#ff8c00 247.5px,#ffd000 254.5px,#fdff02 260.5px,#e8ff17 263.5px,#acff53 274.5px,#35ffca 299.5px,#00ffff 309.5px,#00b3ff 322.5px,#007bff 333.5px,#0035ff 349.5px,#0002ff 362.5px,#0000c7 378.5px,#000082 390.5px,#000080 400.5px)"></i>
<i style="left:937px;width:3px;background:linear-gradient(#8b0000 0.5px,#8b0000 234.5px,#920000 235.5px,#a60000 236.5px,#f20000 239.5px,#ff0a00 240.5px,#ff5e00 244.5px,#ff8e00 247.5px,#ffdd00 255.5px,#fffd00 259.5px,#f9ff06 260.5px,#ddff22 264.5px,#a7ff58 274.5px,#31ffce 299.5px,#02fffd 308.5px,#00fbff 309.5px,#00b0ff 322.5px,#0079ff 333.5px,#0033ff 349.5px,#0001ff 362.5px,#0000cd 377.5px,#000083 390.5px,#000080 400.5px)"></i>
<i style="left:940px;width:3px;background:linear-gradient(#8b0000 0.5px,#8b0000 234.5px,#910000 235.5px,#a40000 236.5px,#f20000 239.5px,#ff0b00 240.5px,#ff6100 244.5px,#ff9100 247.5px,#ffe100 255.5px,#fdff02 259.5px,#dfff20 263.5px,#a2ff5d 274.5px,#00fdff 308.5px,#00adff 322.5px,#0077ff 333.5px,#0032ff 349.5px,#0000ff 362.5px,#0000cd 377.5px,#000083 390.5px,#000080 392.5px,#000080 400.5px)"></i>
<i style="left:943px;width:3px;background:linear-gradient(#8b0000 0.5px,#8b0000 234.5px,#900000 235.5px,#a30000 236.5px,#f20000 239.5px,#ff0b00 240.5px,#ff6400 244.5px,#ff7700 245.5px,#ff9300 247.5px,#ffe500 255.5px,#fffe00 258.5px,#f8ff07 259.5px,#d4ff2b 264.5px,#9cff63 274.5px,#00feff 307.5px,#008bff 328.5px,#0035ff 348.5px,#0002ff 361.5px,#0000ce 377.5px,#000084 390.5px,#000080 392.5px,#000080 400.5px)"></i>
<i style="left:946px;width:3px;background:linear-gradient(#8b0000 0.5px,#8b0000 234.5px,#8f0000 235.5px,#a10000 236.5px,#f20000 239.5px,#ff0b00 240.5px,#ff6700 244.5px,#ff8800 246.5px,#ffd500 253.5px,#fff200 256.5px,#fcff03 258.5px,#d0ff2f 264.5px,#97ff68 274.5px,#01fffe 306.5px,#00fbff 307.5px,#0089ff 328.5px,#0033ff 348.5px,#0001ff 361.5px,#0000cf 377.5px,#000081 391.5px,#000080 400.5px)"></i>
<i style="left:949px;width:3px;background:linear-gradient(#8b0000 0.5px,#8b0000 234.5px,#8e0000 235.5px,#9f0000 236.5px,#f10000 239.5px,#ff0c00 240.5px,#ff6a00 244.5px,#ff8b00 246.5px,#ffba00 250.5px,#ffed00 255.5px,#fffe00 257.5px,#f8ff07 258.5px,#cbff34 264.5px,#92ff6d 274.5px,#00fcff 306.5px,#00c9ff 315.5px,#0086ff 328.5px,#0000ff 361.5px,#0000cf 377.5px,#000082 391.5px,#000080 400.5px)"></i>
<i style="left:952px;width:3px;background:linear-gradient(#8b0000 0.5px,#8b0000 234.5px,#8d0000 235.5px,#9d0000 236.5px,#f10000 239.5px,#ff0c00 240.5px,#ff6d00 244.5px,#ff8000 245.5px,#ffbe00 250.5px,#fff100 255.5px,#fcff03 257.5px,#c6ff39 264.5px,#8dff72 274.5px,#00feff 305.5px,#00c5ff 315.5px,#0083ff 328.5px,#0002ff 360.5px,#0000d4 376.5px,#000082 391.5px,#000080 400.5px)"></i>
<i style="left:955px;width:3px;background:linear-gradient(#8b0000 0.5px,#8b0000 234.5px,#8c0000 235.5px,#9c0000 236.5px,#f10000 239.5px,#ff0c00 240.5px,#ff6f00 244.5px,#ff8300 245.5px,#ffb500 249.5px,#ffeb00 254.5px,#fffe00 256.5px,#f8ff07 257.5px,#c2ff3d 264.5px,#88ff77 274.5px,#01fffe 304.5px,#00fbff 305.5px,#00c1ff 315.5px,#0085ff 327.5px,#0000ff 360.5px,#0000d5 376.5px,#000082 391.5px,#000080 400.5px)"></i>
<i style="left:958px;width:3px;background:linear-gradient(#8b0000 0.5px,#8b0000 235.5px,#9a0000 236.5px,#f10000 239.5px,#ff0d00 240.5px,#ff7200 244.5px,#ff8500 245.5px,#ffc400 250.5px,#fff900 255.5px,#fcff03 256.5px,#bdff42 264.5px,#83ff7c 274.5px,#00fdff 304.5px,#00bdff 315.5px,#0082ff 327.5px,#0003ff 359.5px,#0000d6 376.5px,#000082 391.5px,#000080 400.5px)"></i>
<i style="left:961px;width:3px;background:linear-gradient(#8b0000 0.5px,#8b0000 235.5px,#9a0000 236.5px,#f20000 239.5px,#ff0e00 240.5px,#ff7400 244.5px,#ff8700 245.5px,#ffc700 250.5px,#fffc00 255.5px,#f9ff06 256.5px,#b9ff46 264.5px,#80ff7f 274.5px,#00ffff 303.5px,#00bbff 315.5px,#0081ff 327.5px,#0058ff 339.5px,#0003ff 360.5px,#0000d7 376.5px,#0000a4 386.5px,#000080 392.5px,#000080 400.5px)"></i>
<i style="left:964px;width:3px;background:linear-gradient(#8b0000 0.5px,#8b0000 235.5px,#9a0000 236.5px,#f30000 239.5px,#ff0f00 240.5px,#ff7600 244.5px,#ff8900 245.5px,#ffbd00 249.5px,#ffdf00 252.5px,#fffe00 255.5px,#f6ff09 256.5px,#b6ff49 264.5px,#7dff82 274.5px,#01fffe 302.5px,#00fcff 303.5px,#00b9ff 315.5px,#0081ff 327.5px,#005fff 339.5px,#0002ff 362.5px,#0000d4 377.5px,#0000aa 386.5px,#000081 392.5px,#000080 400.5px)"></i>
<i style="left:967px;width:3px;background:linear-gradient(#8b0000 0.5px,#8b0000 235.5px,#9a0000 236.5px,#f40000 239.5px,#ff1100 240.5px,#ff7800 244.5px,#ff8a00 245.5px,#ffcb00 250.5px,#fdff02 255.5px,#b3ff4c 264.5px,#7aff85 274.5px,#00fdff 302.5px,#00b7ff 315.5px,#008cff 324.5px,#0079ff 329.5px,#0067ff 339.5px,#003fff 349.5px,#0011ff 359.5px,#0000fe 364.5px,#0000d9 376.5px,#0000b0 386.5px,#000082 392.5px,#000080 400.5px)"></i>
<i style="left:970px;width:3px;background:linear-gradient(#8b0000 0.5px,#8b0000 235.5px,#9a0000 236.5px,#f50000 239.5px,#ff1200 240.5px,#ff7a00 244.5px,#ff8c00 245.5px,#ffcd00 250.5px,#fff900 254.5px,#faff05 255.5px,#b7ff48 263.5px,#9cff63 267.5px,#72ff8d 275.5px,#00ffff 301.5px,#008bff 324.5px,#0077ff 330.5px,#006eff 339.5px,#0047ff 349.5px,#0012ff 360.5px,#0000fe 365.5px,#0000b6 386.5px,#000082 392.5px,#000080 400.5px)"></i>
<i style="left:973px;width:3px;background:linear-gradient(#8b0000 0.5px,#8b0000 235.5px,#9a0000 236.5px,#f70000 239.5px,#ff1300 240.5px,#ff6300 243.5px,#ff7b00 244.5px,#ff8d00 245.5px,#ffb700 248.5px,#ffe700 252.5px,#fffc00 254.5px,#f8ff07 255.5px,#b3ff4c 263.5px,#98ff67 267.5px,#6fff90 275.5px,#00fcff 301.5px,#0089ff 324.5px,#0077ff 330.5px,#0076ff 339.5px,#004fff 349.5px,#001cff 359.5px,#0000fe 366.5px,#0000ca 380.5px,#0000bc 386.5px,#0000b6 387.5px,#000083 392.5px,#000080 393.5px,#000080 400.5px)"></i>
<i style="left:976px;width:3px;background:linear-gradient(#8b0000 0.5px,#8b0000 235.5px,#9b0000 236.5px,#f80000 239.5px,#ff1500 240.5px,#ff6500 243.5px,#ff7d00 244.5px,#ff8f00 245.5px,#ffb900 248.5px,#ffe900 252.5px,#fffe00 254.5px,#f5ff0a 255.5px,#b0ff4f 263.5px,#94ff6b 267.5px,#6cff93 275.5px,#00feff 300.5px,#0088ff 324.5px,#0078ff 330.5px,#007dff 339.5px,#0056ff 349.5px,#0021ff 359.5px,#0003ff 366.5px,#0000cb 380.5px,#0000c2 386.5px,#0000bc 387.5px,#000084 392.5px,#000080 393.5px,#000080 400.5px)"></i>
<i style="left:979px;width:3px;background:linear-gradient(#8b0000 0.5px,#8b0000 235.5px,#9b0000 236.5px,#f90000 239.5px,#ff1600 240.5px,#ff6800 243.5px,#ff7f00 244.5px,#ff9000 245.5px,#ffd400 250.5px,#fdff02 254.5px,#ceff31 259.5px,#90ff6f 267.5px,#69ff96 275.5px,#01fffe 299.5px,#00fbff 300.5px,#0086ff 324.5px,#0078ff 330.5px,#0085ff 339.5px,#005eff 349.5px,#0026ff 359.5px,#0001ff 367.5px,#0000d0 379.5px,#0000c8 386.5px,#0000c1 387.5px,#000085 392.5px,#000080 393.5px,#000080 400.5px)"></i>
<i style="left:982px;width:3px;background:linear-gradient(#8b0000 0.5px,#8b0000 235.5px,#9b0000 236.5px,#fa0000 239.5px,#ff1700 240.5px,#ff6a00 243.5px,#ff8100 244.5px,#ffca00 249.5px,#fffa00 253.5px,#faff05 254.5px,#cbff34 259.5px,#8cff73 267.5px,#00fdff 299.5px,#0084ff 324.5px,#0078ff 330.5px,#008dff 339.5px,#0065ff 349.5px,#0026ff 360.5px,#0000fe 368.5px,#0000d1 379.5px,#0000ce 386.5px,#0000c7 387.5px,#000085 392.5px,#000080 393.5px,#000080 400.5px)"></i>
<i style="left:985px;width:3px;background:linear-gradient(#8b0000 0.5px,#8b0000 235.5px,#9b0000 236.5px,#fc0000 239.5px,#ff6c00 243.5px,#ff8300 244.5px,#ffb200 247.5px,#ffd900 250.5px,#fffd00 253.5px,#f7ff08 254.5px,#c8ff37 259.5px,#88ff77 267.5px,#00ffff 298.5px,#0083ff 324.5px,#0079ff 330.5px,#0094ff 338.5px,#0094ff 339.5px,#0068ff 350.5px,#0031ff 359.5px,#0002ff 368.5px,#0000d3 379.5px,#0000d4 386.5px,#0000cd 387.5px,#000086 392.5px,#000080 393.5px,#000080 400.5px)"></i>
<i style="left:988px;width:3px;background:linear-gradient(#8b0000 0.5px,#8b0000 235.5px,#9b0000 236.5px,#fd0000 239.5px,#ff6e00 243.5px,#ff8400 244.5px,#ffc200 248.5px,#fff400 252.5px,#feff01 253.5px,#f5ff0a 254.5px,#c4ff3b 259.5px,#84ff7b 267.5px,#00fcff 298.5px,#0081ff 324.5px,#0079ff 330.5px,#009bff 338.5px,#009cff 339.5px,#0070ff 350.5px,#0030ff 360.5px,#0000fe 369.5px,#0000d4 379.5px,#0000da 386.5px,#0000d3 387.5px,#000087 392.5px,#000080 393.5px,#000080 400.5px)"></i>
<i style="left:991px;width:3px;background:linear-gradient(#8b0000 0.5px,#8b0000 235.5px,#9b0000 236.5px,#fe0000 239.5px,#ff7000 243.5px,#ff8600 244.5px,#ffc400 248.5px,#fff700 252.5px,#fcff03 253.5px,#c1ff3e 259.5px,#80ff7f 267.5px,#00feff 297.5px,#0080ff 324.5px,#007aff 330.5px,#00a2ff 338.5px,#00a3ff 339.5px,#0077ff 350.5px,#003bff 359.5px,#0001ff 369.5px,#0000d6 379.5px,#0000e0 386.5px,#0000d9 387.5px,#000088 392.5px,#000080 393.5px,#000080 400.5px)"></i>
</div>
<div style="position:absolute;left:130px;top:501px;width:868px;height:6px;background:linear-gradient(to right,#000080 0.00%,#0000ff 12.50%,#00ffff 37.50%,#ffff00 62.50%,#ff0000 87.50%,#8b0000 100.00%)"></div>
<svg width="1080" height="576" viewBox="0 0 1080 576" style="position:absolute;left:0;top:0">
<g fill="none" stroke="#000" stroke-width="1.08" stroke-linejoin="round" shape-rendering="crispEdges">
<path d="M129.0 81.3 L234.0 58.0 M129.0 98.7 L191.7 85.5 L271.7 73.0 L355.0 65.5 M375.0 61.7 L406.7 58.3 M129.0 111.8 L191.7 99.2 L275.0 87.2 L338.3 84.3 L435.0 78.3 L485.0 80.0 L545.0 67.7 L611.7 59.0 L648.3 58.3 M129.0 129.2 L165.0 120.0 L225.0 108.5 L291.7 99.0 L371.7 97.7 L425.0 96.7 L485.0 100.5 L508.3 100.0 L548.3 88.3 L581.7 85.0 L613.3 84.3 L647.7 95.7 L661.7 87.7 M678.3 77.7 L693.3 68.3 L706.7 58.3 M129.0 155.7 L158.3 150.0 L191.7 146.7 L255.0 145.0 L238.3 124.0 L271.7 123.3 L331.7 112.3 L411.7 112.3 L485.0 120.0 L508.3 121.7 L538.3 130.0 L581.7 136.7 L613.3 136.7 L631.7 126.7 L648.3 116.7 L685.0 106.7 L718.3 100.0 L738.3 88.3 L761.7 73.3 L786.7 58.3 M154.3 195.0 L154.3 206.7 L208.3 213.3 L258.3 218.3 L311.7 220.0 L358.3 219.0 L408.3 223.3 L458.3 225.0 L485.0 228.3 L495.0 235.0 L501.7 247.0 L506.7 250.0 L508.3 268.3 L518.3 285.0 L535.0 296.7 L553.3 311.7 M161.7 183.3 L168.3 173.3 L188.3 161.7 L211.7 157.7 L258.3 155.0 L308.3 153.3 L341.0 151.7 L329.0 132.3 L371.7 134.0 L408.3 127.7 L445.0 131.0 L485.0 137.5 L518.3 142.3 L539.0 150.0 L525.0 154.0 M508.3 161.0 L485.0 165.0 L479.0 164.5 L485.0 166.7 L505.0 170.0 L543.3 176.7 L585.0 172.3 L578.3 163.3 L556.7 153.3 L613.3 152.3 L645.0 138.3 L680.0 123.3 L718.3 125.0 L751.7 118.3 L786.7 106.7 L820.0 104.3 L855.0 101.0 L865.0 95.0 M880.0 85.7 L891.7 77.7 L903.3 58.3 M568.3 326.7 L578.3 336.7 L591.7 355.0 L613.3 363.3 L628.3 376.7 L648.3 386.7 L685.0 388.5 L716.7 396.7 L751.7 386.7 L786.7 375.0 L820.0 354.5 L836.7 345.0 L861.7 333.3 L890.0 318.3 L908.3 310.0 L920.0 303.3 L935.0 296.7 M953.3 285.0 L965.0 276.7 L978.3 266.7 L994.0 258.0 M213.3 179.0 L233.3 164.3 L265.0 163.3 L338.3 162.3 L405.0 168.3 L441.7 185.0 L485.0 192.5 L515.0 196.7 L485.0 200.0 L458.3 201.7 L408.3 206.7 L358.3 207.7 L291.7 206.7 L235.0 201.0 L215.0 194.3 L213.3 179.0 M306.7 186.7 L298.3 186.0 L290.0 183.3 L298.3 181.7 L307.0 181.0 M328.3 184.0 L338.3 185.0 M129.0 236.7 L165.0 229.0 L208.3 226.7 L265.0 227.7 L338.3 235.0 L361.7 240.0 L415.0 246.7 L440.0 256.0 L461.7 276.7 L485.0 305.5 L500.0 326.7 L518.3 336.7 L541.7 356.7 L568.3 373.3 L595.0 386.7 L618.3 396.7 L648.3 403.5 L685.0 402.0 L716.7 409.5 L751.7 401.0 L798.3 391.3 L820.0 379.0 L833.3 366.7 L850.0 358.3 L883.3 343.3 L890.0 330.0 L923.3 320.0 L946.7 310.0 L961.7 303.3 L978.3 293.3 L994.0 286.5 M129.0 252.7 L156.7 248.3 M173.3 246.0 L195.0 242.7 L235.0 243.3 L265.0 246.0 L341.7 260.7 L405.0 283.3 L441.7 316.7 L475.0 353.3 L485.0 357.0 L501.7 365.0 L525.0 378.3 L556.7 393.5 M573.3 400.5 L595.0 408.3 L615.0 416.0 L648.3 416.0 L675.0 413.3 L685.0 413.3 L716.7 426.5 L748.3 419.7 L763.3 419.7 L785.5 427.0 L774.0 436.8 L792.5 436.2 L785.5 427.0 L795.0 418.5 L820.0 409.2 L826.7 406.0 L845.0 393.3 L849.2 378.3 L883.3 358.3 L905.0 338.3 L936.7 325.8 L961.7 316.7 M980.0 310.0 L994.0 308.0 M129.0 276.0 L165.0 276.0 L198.3 273.3 L231.7 268.3 L268.3 270.7 L301.7 289.3 L375.0 320.0 L408.3 336.7 L426.7 355.0 L440.0 375.0 L423.3 393.3 L419.0 425.0 L431.7 438.3 L440.0 450.0 L450.0 458.5 M129.0 305.0 L136.7 308.3 M153.3 315.0 L165.0 319.3 L258.3 334.0 L301.7 336.0 L338.3 343.3 L351.0 351.7 L355.0 373.3 L352.3 393.3 L373.3 413.3 L391.7 425.0 L398.3 436.7 L408.3 443.3 L415.0 458.5 M129.0 346.0 L165.0 361.7 L238.3 371.7 L281.7 391.7 L311.7 401.7 L334.3 410.0 L322.3 423.3 L329.0 435.0 L338.3 438.3 L370.0 442.7 L375.0 450.0 L375.0 458.5 M129.0 390.7 L137.7 391.7 M150.0 394.0 L195.0 400.7 L231.7 413.3 L265.0 421.7 L298.3 435.0 L310.0 445.0 L311.0 458.5 M546.7 247.0 L551.7 231.7 L562.3 215.0 L573.3 199.0 L595.0 186.7 L613.3 185.0 L628.3 173.3 L648.3 158.3 L680.0 149.3 L715.0 151.7 L751.7 146.0 L786.7 143.5 L820.0 131.0 L850.0 125.7 L886.7 123.3 L920.0 118.3 L953.3 112.3 L953.3 58.3 M546.7 247.0 L543.3 253.3 L551.7 268.3 L571.7 285.0 L595.0 311.7 L618.3 333.3 L648.3 362.7 L685.0 366.0 L716.7 374.0 L751.7 363.3 L786.7 355.0 L820.0 336.0 L845.0 325.0 L873.3 310.0 L895.0 298.3 L910.0 285.0 L926.7 270.0 L935.0 260.0 L943.3 243.3 L958.3 233.3 L973.3 229.0 L994.0 225.0 M994.0 141.7 L966.7 139.0 L920.0 141.0 L890.0 143.3 L853.3 141.0 L834.0 146.7 L840.0 152.0 M850.0 164.0 L855.0 170.0 L890.7 176.7 L881.0 193.3 L890.0 198.3 L923.3 203.3 L953.3 199.3 L994.0 200.0 M750.0 170.7 L740.0 165.0 L751.7 163.3 L780.0 170.0 L768.3 170.7 M805.0 230.0 L820.0 230.0 L855.0 220.0 L866.7 228.3 L870.0 241.7 L865.8 253.3 L866.7 265.8 L864.2 280.0 L853.3 291.7 L850.0 300.0 L836.7 313.3 L821.7 320.0 L785.0 338.3 L751.7 340.0 L716.7 344.3 L681.7 333.3 L648.3 328.3 L631.7 313.3 L613.3 301.7 L596.7 276.7 L581.7 253.3 L581.0 238.3 L610.0 230.7 L645.0 232.7 L685.0 229.0 L705.0 228.3 L725.0 228.3 L751.7 231.7 L781.7 230.0 M688.3 255.0 L711.7 244.0 L751.7 248.3 L768.3 247.3 L805.0 246.0 L828.3 253.3 L836.7 271.7 L835.0 290.0 L821.7 306.7 L785.0 318.3 L751.7 323.3 L718.3 320.0 L701.7 310.0 L690.0 286.7 L686.7 270.0 L688.3 255.0 M723.3 280.0 L717.7 272.7 L786.7 272.3 L796.7 279.0 L778.3 293.3 L751.7 297.3 L738.3 293.3 M994.0 334.2 L980.0 335.0 L958.3 339.2 L923.3 353.3 L913.3 365.0 L906.7 376.7 L893.3 388.3 L871.7 407.5 L845.0 420.0 L820.0 431.0 L818.3 432.5 L826.7 438.3 L856.7 445.8 M994.0 383.3 L978.3 385.8 L958.3 390.8 L935.0 406.0 L905.8 419.2 L896.7 429.2 L906.7 436.7 L900.0 442.5 L875.0 448.3 L846.7 452.5 M828.0 453.5 L805.0 452.5 M994.0 426.7 L976.7 430.0 L961.7 437.5 L936.7 441.7 L916.7 445.0 L893.3 450.0 M994.0 443.3 L945.0 444.2 M930.0 447.0 L918.3 449.7 M505.0 458.5 L506.3 451.7 L516.7 435.3 L545.0 426.3 L583.3 426.3 L613.3 434.2 L640.0 434.2 L681.7 433.3 L684.2 435.0 L681.7 436.7 L640.0 439.5 L613.3 439.2 L595.0 444.2 L593.3 450.8 L600.0 455.8 L613.3 458.3 L640.0 458.3 L648.3 457.5 L681.7 451.7 L716.7 449.2 L738.0 448.5 M752.0 448.0 L766.0 446.3 L793.0 447.0 L808.0 449.5 L830.0 449.7 M683.3 457.0 L716.7 453.3 L738.3 453.0 M755.0 451.5 L772.0 451.0"/>
<path d="M131.7 418.3 L161.7 420.0 L225.0 431.7 M129.0 438.3 L140.0 443.3 L131.7 458.3 M244.3 436.7 L249.0 443.3 L249.0 458.3" stroke-dasharray="1.5 6"/>
</g>
<g fill="#fff" shape-rendering="crispEdges"><rect x="130" y="57" width="865" height="1"/><rect x="994" y="57" width="1" height="404"/><rect x="130" y="460" width="865" height="1"/><rect x="130" y="459" width="1" height="1"/><rect x="165" y="459" width="1" height="1"/><rect x="199" y="459" width="1" height="1"/><rect x="234" y="459" width="1" height="1"/><rect x="268" y="459" width="1" height="1"/><rect x="303" y="459" width="1" height="1"/><rect x="337" y="459" width="1" height="1"/><rect x="372" y="459" width="1" height="1"/><rect x="406" y="459" width="1" height="1"/><rect x="441" y="459" width="1" height="1"/><rect x="476" y="459" width="1" height="1"/><rect x="510" y="459" width="1" height="1"/><rect x="545" y="459" width="1" height="1"/><rect x="579" y="459" width="1" height="1"/><rect x="614" y="459" width="1" height="1"/><rect x="648" y="459" width="1" height="1"/><rect x="683" y="456" width="1" height="4"/><rect x="718" y="456" width="1" height="4"/><rect x="752" y="456" width="1" height="4"/><rect x="787" y="456" width="1" height="4"/><rect x="821" y="456" width="1" height="4"/><rect x="856" y="456" width="1" height="4"/><rect x="890" y="456" width="1" height="4"/><rect x="925" y="456" width="1" height="4"/><rect x="959" y="456" width="1" height="4"/><rect x="994" y="456" width="1" height="4"/><rect x="130" y="500" width="865" height="1"/></g>
<text font-family='"Liberation Sans",sans-serif' font-size="16.2" fill="#fff" y="50" stroke="#000080" stroke-width="0.28" paint-order="fill stroke"><tspan x="335">O</tspan><tspan x="346.8" dy="4.5" font-size="9.4" stroke="none">3</tspan><tspan dy="-4.5" x="357"> </tspan><tspan x="361" textLength="82.7" lengthAdjust="spacing">Latitudinal</tspan> <tspan x="453.7" textLength="81.3" lengthAdjust="spacing">Y-Section</tspan> <tspan x="546" textLength="36.5" lengthAdjust="spacing">84hr</tspan>  <tspan x="600.7" textLength="16.5" lengthAdjust="spacing">Fx</tspan> <tspan x="627" textLength="36" lengthAdjust="spacing">Valid</tspan> <tspan x="673.7" textLength="29.3" lengthAdjust="spacing">00Z</tspan> <tspan x="713.7" textLength="82.5" lengthAdjust="spacing">20251224</tspan></text>
<text font-family='"Liberation Sans",sans-serif' font-size="14.2" fill="#fff" y="66" stroke="#000080" stroke-width="0.05" paint-order="fill stroke"><tspan x="109.8" textLength="15.4" lengthAdjust="spacing">20</tspan></text>
<text font-family='"Liberation Sans",sans-serif' font-size="14.2" fill="#fff" y="163" stroke="#000080" stroke-width="0.05" paint-order="fill stroke"><tspan x="110.9" textLength="14.3" lengthAdjust="spacing">15</tspan></text>
<text font-family='"Liberation Sans",sans-serif' font-size="14.2" fill="#fff" y="263.6" stroke="#000080" stroke-width="0.05" paint-order="fill stroke"><tspan x="110.9" textLength="14.3" lengthAdjust="spacing">10</tspan></text>
<text font-family='"Liberation Sans",sans-serif' font-size="14.2" fill="#fff" y="365.3" stroke="#000080" stroke-width="0.05" paint-order="fill stroke"><tspan x="117.5">5</tspan></text>
<text font-family='"Liberation Sans",sans-serif' font-size="14.2" fill="#fff" y="460.6" stroke="#000080" stroke-width="0.05" paint-order="fill stroke"><tspan x="118.2">0</tspan></text>
<text font-family='"Liberation Sans",sans-serif' font-size="14.2" fill="#fff" y="479" stroke="#000080" stroke-width="0.05" paint-order="fill stroke"><tspan x="122.4" textLength="15.2" lengthAdjust="spacing">25</tspan></text>
<text font-family='"Liberation Sans",sans-serif' font-size="14.2" fill="#fff" y="479" stroke="#000080" stroke-width="0.05" paint-order="fill stroke"><tspan x="295.2" textLength="15.2" lengthAdjust="spacing">30</tspan></text>
<text font-family='"Liberation Sans",sans-serif' font-size="14.2" fill="#fff" y="479" stroke="#000080" stroke-width="0.05" paint-order="fill stroke"><tspan x="468" textLength="15.2" lengthAdjust="spacing">35</tspan></text>
<text font-family='"Liberation Sans",sans-serif' font-size="14.2" fill="#fff" y="479" stroke="#000080" stroke-width="0.05" paint-order="fill stroke"><tspan x="640.8" textLength="15.2" lengthAdjust="spacing">40</tspan></text>
<text font-family='"Liberation Sans",sans-serif' font-size="14.2" fill="#fff" y="479" stroke="#000080" stroke-width="0.05" paint-order="fill stroke"><tspan x="813.6" textLength="15.2" lengthAdjust="spacing">45</tspan></text>
<text font-family='"Liberation Sans",sans-serif' font-size="14.2" fill="#fff" y="479" stroke="#000080" stroke-width="0.05" paint-order="fill stroke"><tspan x="986.4" textLength="15.2" lengthAdjust="spacing">50</tspan></text>
<text font-family='"Liberation Sans",sans-serif' font-size="13.4" fill="#fff" y="494" stroke="#000080" stroke-width="0.05" paint-order="fill stroke"><tspan x="536.7" textLength="50.8" lengthAdjust="spacing">Latitude</tspan></text>
<text font-family='"Liberation Sans",sans-serif' font-size="14.2" fill="#fff" y="525" x="126.4" stroke="#000080" stroke-width="0.05" paint-order="fill stroke">0</text>
<text font-family='"Liberation Sans",sans-serif' font-size="14.2" fill="#fff" y="525" stroke="#000080" stroke-width="0.05" paint-order="fill stroke"><tspan x="266.5" textLength="15" lengthAdjust="spacing">20</tspan></text>
<text font-family='"Liberation Sans",sans-serif' font-size="14.2" fill="#fff" y="525" stroke="#000080" stroke-width="0.05" paint-order="fill stroke"><tspan x="410.5" textLength="15" lengthAdjust="spacing">40</tspan></text>
<text font-family='"Liberation Sans",sans-serif' font-size="14.2" fill="#fff" y="525" stroke="#000080" stroke-width="0.05" paint-order="fill stroke"><tspan x="554.5" textLength="15" lengthAdjust="spacing">60</tspan></text>
<text font-family='"Liberation Sans",sans-serif' font-size="14.2" fill="#fff" y="525" stroke="#000080" stroke-width="0.05" paint-order="fill stroke"><tspan x="698.5" textLength="15" lengthAdjust="spacing">80</tspan></text>
<text font-family='"Liberation Sans",sans-serif' font-size="14.2" fill="#fff" y="525" stroke="#000080" stroke-width="0.05" paint-order="fill stroke"><tspan x="838.4" textLength="23.2" lengthAdjust="spacing">100</tspan></text>
<text font-family='"Liberation Sans",sans-serif' font-size="14.2" fill="#fff" y="525" stroke="#000080" stroke-width="0.05" paint-order="fill stroke"><tspan x="982.4" textLength="23.2" lengthAdjust="spacing">120</tspan></text>
<text font-family='"Liberation Sans",sans-serif' font-size="13.2" fill="#fff" y="540.3" stroke="#000080" stroke-width="0.05" paint-order="fill stroke"><tspan x="541.6" textLength="41" lengthAdjust="spacing">(ppbv)</tspan></text>
<text font-family='"Liberation Sans",sans-serif' font-size="14.2" fill="#fff" transform="translate(98 302) rotate(-90)" textLength="85.3" lengthAdjust="spacing" stroke="#000080" stroke-width="0.05" paint-order="fill stroke">Altitude (km)</text>
<text font-family='"Liberation Sans",sans-serif' font-size="21.8" fill="#fff" y="562" stroke="#000080" stroke-width="0.5" paint-order="fill stroke"><tspan x="142" textLength="35.2" lengthAdjust="spacingAndGlyphs">NYC</tspan> <tspan x="190.2" textLength="62.4" lengthAdjust="spacing">(74°W)</tspan><tspan x="256.3" textLength="86.7" lengthAdjust="spacing">Initialized</tspan> <tspan x="357.5" textLength="33.2" lengthAdjust="spacingAndGlyphs">12Z</tspan> <tspan x="404.4" textLength="97.5" lengthAdjust="spacing">20251220</tspan></text>
<text font-family='"Liberation Sans",sans-serif' font-size="12" fill="#000" stroke="#000" stroke-width="0.25" text-anchor="middle" transform="translate(365 63) rotate(-8)" y="4.3">10</text>
<text font-family='"Liberation Sans",sans-serif' font-size="12" fill="#000" stroke="#000" stroke-width="0.25" text-anchor="middle" transform="translate(157 186.5) rotate(-62)" y="4.3">30</text>
<text font-family='"Liberation Sans",sans-serif' font-size="12" fill="#000" stroke="#000" stroke-width="0.25" text-anchor="middle" transform="translate(317.5 184) rotate(0)" y="4.3">40</text>
<text font-family='"Liberation Sans",sans-serif' font-size="12" fill="#000" stroke="#000" stroke-width="0.25" text-anchor="middle" transform="translate(163.5 247.5) rotate(-8)" y="4.3">20</text>
<text font-family='"Liberation Sans",sans-serif' font-size="12" fill="#000" stroke="#000" stroke-width="0.25" text-anchor="middle" transform="translate(144.5 311) rotate(15)" y="4.3">10</text>
<text font-family='"Liberation Sans",sans-serif' font-size="12" fill="#000" stroke="#000" stroke-width="0.25" text-anchor="middle" transform="translate(143.5 392.5) rotate(5)" y="4.3">0</text>
<text font-family='"Liberation Sans",sans-serif' font-size="12" fill="#000" stroke="#000" stroke-width="0.25" text-anchor="middle" transform="translate(669 83) rotate(-35)" y="4.3">20</text>
<text font-family='"Liberation Sans",sans-serif' font-size="12" fill="#000" stroke="#000" stroke-width="0.25" text-anchor="middle" transform="translate(517 157) rotate(-20)" y="4.3">30</text>
<text font-family='"Liberation Sans",sans-serif' font-size="12" fill="#000" stroke="#000" stroke-width="0.25" text-anchor="middle" transform="translate(872 90) rotate(-40)" y="4.3">30</text>
<text font-family='"Liberation Sans",sans-serif' font-size="12" fill="#000" stroke="#000" stroke-width="0.25" text-anchor="middle" transform="translate(844 158) rotate(55)" y="4.3">40</text>
<text font-family='"Liberation Sans",sans-serif' font-size="12" fill="#000" stroke="#000" stroke-width="0.25" text-anchor="middle" transform="translate(757.5 171) rotate(0)" y="4.3">40</text>
<text font-family='"Liberation Sans",sans-serif' font-size="12" fill="#000" stroke="#000" stroke-width="0.25" text-anchor="middle" transform="translate(793 229) rotate(0)" y="4.3">40</text>
<text font-family='"Liberation Sans",sans-serif' font-size="12" fill="#000" stroke="#000" stroke-width="0.25" text-anchor="middle" transform="translate(731 287) rotate(55)" y="4.3">50</text>
<text font-family='"Liberation Sans",sans-serif' font-size="12" fill="#000" stroke="#000" stroke-width="0.25" text-anchor="middle" transform="translate(561 318.5) rotate(45)" y="4.3">30</text>
<text font-family='"Liberation Sans",sans-serif' font-size="12" fill="#000" stroke="#000" stroke-width="0.25" text-anchor="middle" transform="translate(564.5 397) rotate(20)" y="4.3">20</text>
<text font-family='"Liberation Sans",sans-serif' font-size="12" fill="#000" stroke="#000" stroke-width="0.25" text-anchor="middle" transform="translate(944 291) rotate(-30)" y="4.3">30</text>
<text font-family='"Liberation Sans",sans-serif' font-size="12" fill="#000" stroke="#000" stroke-width="0.25" text-anchor="middle" transform="translate(971 313) rotate(-15)" y="4.3">20</text>
<text font-family='"Liberation Sans",sans-serif' font-size="12" fill="#000" stroke="#000" stroke-width="0.25" text-anchor="middle" transform="translate(746 451.5) rotate(0)" y="4.3">10</text>
<text font-family='"Liberation Sans",sans-serif' font-size="12" fill="#000" stroke="#000" stroke-width="0.25" text-anchor="middle" transform="translate(836.5 452) rotate(0)" y="4.3">10</text>
<text font-family='"Liberation Sans",sans-serif' font-size="12" fill="#000" stroke="#000" stroke-width="0.25" text-anchor="middle" transform="translate(938 445) rotate(0)" y="4.3">0</text>
</svg>
</div>
</body></html>
